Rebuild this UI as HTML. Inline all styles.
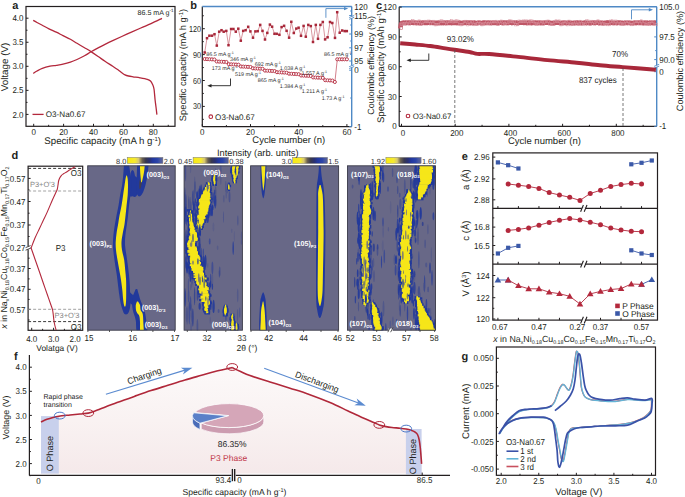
<!DOCTYPE html>
<html><head><meta charset="utf-8"><style>
html,body{margin:0;padding:0;background:#fff;width:685px;height:497px;overflow:hidden}
svg{display:block;font-family:"Liberation Sans", sans-serif;text-rendering:geometricPrecision}
</style></head><body>
<svg width="685" height="497" viewBox="0 0 685 497">
<rect width="685" height="497" fill="#fff"/>
<rect x="26" y="6.5" width="149" height="119.8" fill="none" stroke="#231f20" stroke-width="1.2"/>
<line x1="26.00" y1="114.40" x2="28.50" y2="114.40" stroke="#231f20" stroke-width="1" />
<text x="23.50" y="117.50" font-size="8.6" text-anchor="end" fill="#231f20" font-weight="normal" transform="translate(23.50,0) scale(0.93,1) translate(-23.50,0)"  >2.0</text>
<line x1="26.00" y1="102.38" x2="27.50" y2="102.38" stroke="#231f20" stroke-width="1" />
<line x1="26.00" y1="90.35" x2="28.50" y2="90.35" stroke="#231f20" stroke-width="1" />
<text x="23.50" y="93.45" font-size="8.6" text-anchor="end" fill="#231f20" font-weight="normal" transform="translate(23.50,0) scale(0.93,1) translate(-23.50,0)"  >2.5</text>
<line x1="26.00" y1="78.33" x2="27.50" y2="78.33" stroke="#231f20" stroke-width="1" />
<line x1="26.00" y1="66.30" x2="28.50" y2="66.30" stroke="#231f20" stroke-width="1" />
<text x="23.50" y="69.40" font-size="8.6" text-anchor="end" fill="#231f20" font-weight="normal" transform="translate(23.50,0) scale(0.93,1) translate(-23.50,0)"  >3.0</text>
<line x1="26.00" y1="54.28" x2="27.50" y2="54.28" stroke="#231f20" stroke-width="1" />
<line x1="26.00" y1="42.25" x2="28.50" y2="42.25" stroke="#231f20" stroke-width="1" />
<text x="23.50" y="45.35" font-size="8.6" text-anchor="end" fill="#231f20" font-weight="normal" transform="translate(23.50,0) scale(0.93,1) translate(-23.50,0)"  >3.5</text>
<line x1="26.00" y1="30.23" x2="27.50" y2="30.23" stroke="#231f20" stroke-width="1" />
<line x1="26.00" y1="18.20" x2="28.50" y2="18.20" stroke="#231f20" stroke-width="1" />
<text x="23.50" y="21.30" font-size="8.6" text-anchor="end" fill="#231f20" font-weight="normal" transform="translate(23.50,0) scale(0.93,1) translate(-23.50,0)"  >4.0</text>
<line x1="33.70" y1="126.30" x2="33.70" y2="123.80" stroke="#231f20" stroke-width="1" />
<text x="33.70" y="135.30" font-size="8.6" text-anchor="middle" fill="#231f20" font-weight="normal" transform="translate(33.70,0) scale(0.93,1) translate(-33.70,0)"  >0</text>
<line x1="48.65" y1="126.30" x2="48.65" y2="124.80" stroke="#231f20" stroke-width="1" />
<line x1="63.60" y1="126.30" x2="63.60" y2="123.80" stroke="#231f20" stroke-width="1" />
<text x="63.60" y="135.30" font-size="8.6" text-anchor="middle" fill="#231f20" font-weight="normal" transform="translate(63.60,0) scale(0.93,1) translate(-63.60,0)"  >20</text>
<line x1="78.55" y1="126.30" x2="78.55" y2="124.80" stroke="#231f20" stroke-width="1" />
<line x1="93.50" y1="126.30" x2="93.50" y2="123.80" stroke="#231f20" stroke-width="1" />
<text x="93.50" y="135.30" font-size="8.6" text-anchor="middle" fill="#231f20" font-weight="normal" transform="translate(93.50,0) scale(0.93,1) translate(-93.50,0)"  >40</text>
<line x1="108.45" y1="126.30" x2="108.45" y2="124.80" stroke="#231f20" stroke-width="1" />
<line x1="123.40" y1="126.30" x2="123.40" y2="123.80" stroke="#231f20" stroke-width="1" />
<text x="123.40" y="135.30" font-size="8.6" text-anchor="middle" fill="#231f20" font-weight="normal" transform="translate(123.40,0) scale(0.93,1) translate(-123.40,0)"  >60</text>
<line x1="138.35" y1="126.30" x2="138.35" y2="124.80" stroke="#231f20" stroke-width="1" />
<line x1="153.30" y1="126.30" x2="153.30" y2="123.80" stroke="#231f20" stroke-width="1" />
<text x="153.30" y="135.30" font-size="8.6" text-anchor="middle" fill="#231f20" font-weight="normal" transform="translate(153.30,0) scale(0.93,1) translate(-153.30,0)"  >80</text>
<line x1="168.25" y1="126.30" x2="168.25" y2="124.80" stroke="#231f20" stroke-width="1" />
<text x="102.70" y="143.79" font-size="9.7" text-anchor="middle" fill="#231f20" font-weight="normal"  >Specific capacity (mA h g<tspan dy="-3" font-size="6">-1</tspan><tspan dy="3">)</tspan></text>
<text x="4.30" y="70.53" font-size="9.8" text-anchor="middle" fill="#231f20" font-weight="normal" transform="rotate(-90 4.30 67.00)"  >Voltage (V)</text>
<text x="12.30" y="9.26" font-size="11" text-anchor="start" fill="#231f20" font-weight="bold"  >a</text>
<path d="M33.20,73.40 C33.83,73.00 35.48,71.83 37.00,71.00 C38.52,70.17 40.13,69.20 42.30,68.40 C44.47,67.60 47.67,66.72 50.00,66.20 C52.33,65.68 54.13,65.63 56.30,65.30 C58.47,64.97 60.65,64.72 63.00,64.20 C65.35,63.68 68.07,62.98 70.40,62.20 C72.73,61.42 74.65,60.57 77.00,59.50 C79.35,58.43 82.17,57.08 84.50,55.80 C86.83,54.52 88.65,53.17 91.00,51.80 C93.35,50.43 96.27,48.85 98.60,47.60 C100.93,46.35 102.65,45.47 105.00,44.30 C107.35,43.13 109.07,42.28 112.70,40.60 C116.33,38.92 122.12,36.30 126.80,34.20 C131.48,32.10 136.77,29.77 140.80,28.00 C144.83,26.23 147.47,25.22 151.00,23.60 C154.53,21.98 160.17,19.18 162.00,18.30" stroke="#b3283c" stroke-width="1.3" fill="none" />
<path d="M33.20,20.40 C33.83,20.75 35.48,21.68 37.00,22.50 C38.52,23.32 40.30,24.25 42.30,25.30 C44.30,26.35 46.67,27.65 49.00,28.80 C51.33,29.95 53.97,31.07 56.30,32.20 C58.63,33.33 60.65,34.42 63.00,35.60 C65.35,36.78 68.07,38.02 70.40,39.30 C72.73,40.58 74.65,41.90 77.00,43.30 C79.35,44.70 82.17,46.32 84.50,47.70 C86.83,49.08 88.65,50.08 91.00,51.60 C93.35,53.12 96.27,55.18 98.60,56.80 C100.93,58.42 102.65,59.73 105.00,61.30 C107.35,62.87 110.53,64.78 112.70,66.20 C114.87,67.62 116.53,68.75 118.00,69.80 C119.47,70.85 120.33,71.67 121.50,72.50 C122.67,73.33 123.83,74.22 125.00,74.80 C126.17,75.38 127.17,75.67 128.50,76.00 C129.83,76.33 131.08,76.50 133.00,76.80 C134.92,77.10 137.62,77.38 140.00,77.80 C142.38,78.22 145.55,78.77 147.30,79.30 C149.05,79.83 149.62,80.13 150.50,81.00 C151.38,81.87 152.02,83.17 152.60,84.50 C153.18,85.83 153.58,86.42 154.00,89.00 C154.42,91.58 154.77,97.00 155.10,100.00 C155.43,103.00 155.70,104.57 156.00,107.00 C156.30,109.43 156.75,113.33 156.90,114.60" stroke="#b3283c" stroke-width="1.3" fill="none" />
<line x1="32.50" y1="114.40" x2="43.60" y2="114.40" stroke="#b3283c" stroke-width="1.3" />
<text x="45.80" y="117.32" font-size="8.1" text-anchor="start" fill="#231f20" font-weight="normal"  >O3-Na0.67</text>
<text x="173.60" y="14.56" font-size="7.1" text-anchor="end" fill="#231f20" font-weight="normal"  >86.5 mA g<tspan dy="-2.6" font-size="4.6">-1</tspan></text>
<line x1="202.30" y1="6.50" x2="202.30" y2="126.60" stroke="#231f20" stroke-width="1.2" />
<line x1="202.30" y1="126.60" x2="351.70" y2="126.60" stroke="#231f20" stroke-width="1.2" />
<line x1="202.30" y1="6.50" x2="351.70" y2="6.50" stroke="#4f89c5" stroke-width="1.4" />
<line x1="351.70" y1="6.50" x2="351.70" y2="126.60" stroke="#4f89c5" stroke-width="1.4" />
<line x1="202.30" y1="119.35" x2="203.80" y2="119.35" stroke="#231f20" stroke-width="1" />
<line x1="202.30" y1="106.40" x2="204.80" y2="106.40" stroke="#231f20" stroke-width="1" />
<text x="201.00" y="109.49" font-size="8.6" text-anchor="end" fill="#231f20" font-weight="normal" transform="translate(201.00,0) scale(0.84,1) translate(-201.00,0)"  >30</text>
<line x1="202.30" y1="93.45" x2="203.80" y2="93.45" stroke="#231f20" stroke-width="1" />
<line x1="202.30" y1="80.50" x2="204.80" y2="80.50" stroke="#231f20" stroke-width="1" />
<text x="201.00" y="83.59" font-size="8.6" text-anchor="end" fill="#231f20" font-weight="normal" transform="translate(201.00,0) scale(0.84,1) translate(-201.00,0)"  >60</text>
<line x1="202.30" y1="67.55" x2="203.80" y2="67.55" stroke="#231f20" stroke-width="1" />
<line x1="202.30" y1="54.60" x2="204.80" y2="54.60" stroke="#231f20" stroke-width="1" />
<text x="201.00" y="57.69" font-size="8.6" text-anchor="end" fill="#231f20" font-weight="normal" transform="translate(201.00,0) scale(0.84,1) translate(-201.00,0)"  >90</text>
<line x1="202.30" y1="41.65" x2="203.80" y2="41.65" stroke="#231f20" stroke-width="1" />
<line x1="202.30" y1="28.70" x2="204.80" y2="28.70" stroke="#231f20" stroke-width="1" />
<text x="201.00" y="31.80" font-size="8.6" text-anchor="end" fill="#231f20" font-weight="normal" transform="translate(201.00,0) scale(0.84,1) translate(-201.00,0)"  >120</text>
<line x1="202.30" y1="15.75" x2="203.80" y2="15.75" stroke="#231f20" stroke-width="1" />
<line x1="202.30" y1="126.60" x2="202.30" y2="124.10" stroke="#231f20" stroke-width="1" />
<text x="202.30" y="135.30" font-size="8.6" text-anchor="middle" fill="#231f20" font-weight="normal" transform="translate(202.30,0) scale(0.93,1) translate(-202.30,0)"  >0</text>
<line x1="226.40" y1="126.60" x2="226.40" y2="125.10" stroke="#231f20" stroke-width="1" />
<line x1="250.50" y1="126.60" x2="250.50" y2="124.10" stroke="#231f20" stroke-width="1" />
<text x="250.50" y="135.30" font-size="8.6" text-anchor="middle" fill="#231f20" font-weight="normal" transform="translate(250.50,0) scale(0.93,1) translate(-250.50,0)"  >20</text>
<line x1="274.60" y1="126.60" x2="274.60" y2="125.10" stroke="#231f20" stroke-width="1" />
<line x1="298.70" y1="126.60" x2="298.70" y2="124.10" stroke="#231f20" stroke-width="1" />
<text x="298.70" y="135.30" font-size="8.6" text-anchor="middle" fill="#231f20" font-weight="normal" transform="translate(298.70,0) scale(0.93,1) translate(-298.70,0)"  >40</text>
<line x1="322.80" y1="126.60" x2="322.80" y2="125.10" stroke="#231f20" stroke-width="1" />
<line x1="346.90" y1="126.60" x2="346.90" y2="124.10" stroke="#231f20" stroke-width="1" />
<text x="346.90" y="135.30" font-size="8.6" text-anchor="middle" fill="#231f20" font-weight="normal" transform="translate(346.90,0) scale(0.93,1) translate(-346.90,0)"  >60</text>
<text x="288.80" y="143.22" font-size="9.5" text-anchor="middle" fill="#231f20" font-weight="normal"  >Cycle number (n)</text>
<text x="183.10" y="68.35" font-size="9.3" text-anchor="middle" fill="#231f20" font-weight="normal" transform="rotate(-90 183.10 65.00)"  >Specific capacity (mA h g<tspan dy="-3" font-size="6">-1</tspan><tspan dy="3">)</tspan></text>
<text x="190.30" y="8.76" font-size="11" text-anchor="start" fill="#231f20" font-weight="bold"  >b</text>
<line x1="349.20" y1="6.50" x2="351.70" y2="6.50" stroke="#4f89c5" stroke-width="1" />
<text x="354.30" y="9.60" font-size="8.6" text-anchor="start" fill="#231f20" font-weight="normal" transform="translate(354.30,0) scale(0.93,1) translate(-354.30,0)"  >120</text>
<line x1="349.20" y1="15.50" x2="351.70" y2="15.50" stroke="#4f89c5" stroke-width="1" />
<text x="354.30" y="18.60" font-size="8.6" text-anchor="start" fill="#231f20" font-weight="normal" transform="translate(354.30,0) scale(0.93,1) translate(-354.30,0)"  >115</text>
<line x1="349.20" y1="34.00" x2="351.70" y2="34.00" stroke="#4f89c5" stroke-width="1" />
<text x="354.30" y="37.10" font-size="8.6" text-anchor="start" fill="#231f20" font-weight="normal" transform="translate(354.30,0) scale(0.93,1) translate(-354.30,0)"  >99</text>
<line x1="349.20" y1="47.80" x2="351.70" y2="47.80" stroke="#4f89c5" stroke-width="1" />
<text x="354.30" y="50.90" font-size="8.6" text-anchor="start" fill="#231f20" font-weight="normal" transform="translate(354.30,0) scale(0.93,1) translate(-354.30,0)"  >97</text>
<line x1="349.20" y1="61.00" x2="351.70" y2="61.00" stroke="#4f89c5" stroke-width="1" />
<text x="354.30" y="64.10" font-size="8.6" text-anchor="start" fill="#231f20" font-weight="normal" transform="translate(354.30,0) scale(0.93,1) translate(-354.30,0)"  >95</text>
<line x1="349.20" y1="70.20" x2="351.70" y2="70.20" stroke="#4f89c5" stroke-width="1" />
<text x="354.30" y="73.30" font-size="8.6" text-anchor="start" fill="#231f20" font-weight="normal" transform="translate(354.30,0) scale(0.93,1) translate(-354.30,0)"  >0</text>
<line x1="349.20" y1="126.60" x2="351.70" y2="126.60" stroke="#4f89c5" stroke-width="1" />
<text x="354.30" y="129.70" font-size="8.6" text-anchor="start" fill="#231f20" font-weight="normal" transform="translate(354.30,0) scale(0.93,1) translate(-354.30,0)"  >-1</text>
<line x1="350.20" y1="11.00" x2="351.70" y2="11.00" stroke="#4f89c5" stroke-width="1" />
<line x1="350.20" y1="25.00" x2="351.70" y2="25.00" stroke="#4f89c5" stroke-width="1" />
<line x1="350.20" y1="41.00" x2="351.70" y2="41.00" stroke="#4f89c5" stroke-width="1" />
<line x1="350.20" y1="54.50" x2="351.70" y2="54.50" stroke="#4f89c5" stroke-width="1" />
<line x1="350.20" y1="98.00" x2="351.70" y2="98.00" stroke="#4f89c5" stroke-width="1" />
<rect x="349.7" y="16.3" width="4" height="2" fill="#fff"/>
<line x1="349.20" y1="17.50" x2="354.20" y2="15.50" stroke="#4f89c5" stroke-width="0.9" />
<line x1="349.20" y1="19.30" x2="354.20" y2="17.30" stroke="#4f89c5" stroke-width="0.9" />
<rect x="349.7" y="65.5" width="4" height="2" fill="#fff"/>
<line x1="349.20" y1="66.70" x2="354.20" y2="64.70" stroke="#4f89c5" stroke-width="0.9" />
<line x1="349.20" y1="68.50" x2="354.20" y2="66.50" stroke="#4f89c5" stroke-width="0.9" />
<text x="370.30" y="68.64" font-size="9.0" text-anchor="middle" fill="#231f20" font-weight="normal" transform="rotate(-90 370.30 65.40)"  >Coulombic efficiency (%)</text>
<polyline points="204.7,52.5 207.0,38.2 209.4,35.7 212.0,35.7 214.5,34.2 216.8,45.6 219.2,31.7 221.5,30.2 223.7,31.7 226.3,30.9 228.5,45.2 231.1,29.0 233.4,29.0 235.8,31.7 238.3,28.7 240.8,40.7 243.2,30.9 245.6,30.2 248.2,26.8 250.4,31.4 253.0,37.7 255.4,31.4 257.7,31.2 260.2,24.9 262.5,30.9 265.0,39.5 267.3,32.9 269.9,24.6 272.1,26.7 274.5,33.8 276.7,33.8 279.4,34.8 281.6,27.1 284.1,25.8 286.6,30.8 289.1,37.7 291.3,21.8 293.8,33.0 296.3,28.6 298.6,27.7 301.0,35.8 303.6,25.9 305.8,36.7 308.3,24.9 310.8,26.1 313.0,42.0 315.8,24.9 318.0,38.8 320.4,24.9 322.8,22.0 325.1,39.4 327.6,37.3 330.0,22.0 332.3,23.0 335.0,37.9 337.2,12.2 339.7,32.7 342.2,30.5 344.7,31.1 346.8,31.1" fill="none" stroke="#c0505f" stroke-width="0.6"/>
<rect x="203.45" y="51.25" width="2.5" height="2.5" fill="#a8283a"/>
<rect x="205.75" y="36.95" width="2.5" height="2.5" fill="#a8283a"/>
<rect x="208.15" y="34.45" width="2.5" height="2.5" fill="#a8283a"/>
<rect x="210.75" y="34.45" width="2.5" height="2.5" fill="#a8283a"/>
<rect x="213.25" y="32.95" width="2.5" height="2.5" fill="#a8283a"/>
<rect x="215.55" y="44.35" width="2.5" height="2.5" fill="#a8283a"/>
<rect x="217.95" y="30.45" width="2.5" height="2.5" fill="#a8283a"/>
<rect x="220.25" y="28.95" width="2.5" height="2.5" fill="#a8283a"/>
<rect x="222.45" y="30.45" width="2.5" height="2.5" fill="#a8283a"/>
<rect x="225.05" y="29.65" width="2.5" height="2.5" fill="#a8283a"/>
<rect x="227.25" y="43.95" width="2.5" height="2.5" fill="#a8283a"/>
<rect x="229.85" y="27.75" width="2.5" height="2.5" fill="#a8283a"/>
<rect x="232.15" y="27.75" width="2.5" height="2.5" fill="#a8283a"/>
<rect x="234.55" y="30.45" width="2.5" height="2.5" fill="#a8283a"/>
<rect x="237.05" y="27.45" width="2.5" height="2.5" fill="#a8283a"/>
<rect x="239.55" y="39.45" width="2.5" height="2.5" fill="#a8283a"/>
<rect x="241.95" y="29.65" width="2.5" height="2.5" fill="#a8283a"/>
<rect x="244.35" y="28.95" width="2.5" height="2.5" fill="#a8283a"/>
<rect x="246.95" y="25.55" width="2.5" height="2.5" fill="#a8283a"/>
<rect x="249.15" y="30.15" width="2.5" height="2.5" fill="#a8283a"/>
<rect x="251.75" y="36.45" width="2.5" height="2.5" fill="#a8283a"/>
<rect x="254.15" y="30.15" width="2.5" height="2.5" fill="#a8283a"/>
<rect x="256.45" y="29.95" width="2.5" height="2.5" fill="#a8283a"/>
<rect x="258.95" y="23.65" width="2.5" height="2.5" fill="#a8283a"/>
<rect x="261.25" y="29.65" width="2.5" height="2.5" fill="#a8283a"/>
<rect x="263.75" y="38.25" width="2.5" height="2.5" fill="#a8283a"/>
<rect x="266.05" y="31.65" width="2.5" height="2.5" fill="#a8283a"/>
<rect x="268.65" y="23.35" width="2.5" height="2.5" fill="#a8283a"/>
<rect x="270.85" y="25.45" width="2.5" height="2.5" fill="#a8283a"/>
<rect x="273.25" y="32.55" width="2.5" height="2.5" fill="#a8283a"/>
<rect x="275.45" y="32.55" width="2.5" height="2.5" fill="#a8283a"/>
<rect x="278.15" y="33.55" width="2.5" height="2.5" fill="#a8283a"/>
<rect x="280.35" y="25.85" width="2.5" height="2.5" fill="#a8283a"/>
<rect x="282.85" y="24.55" width="2.5" height="2.5" fill="#a8283a"/>
<rect x="285.35" y="29.55" width="2.5" height="2.5" fill="#a8283a"/>
<rect x="287.85" y="36.45" width="2.5" height="2.5" fill="#a8283a"/>
<rect x="290.05" y="20.55" width="2.5" height="2.5" fill="#a8283a"/>
<rect x="292.55" y="31.75" width="2.5" height="2.5" fill="#a8283a"/>
<rect x="295.05" y="27.35" width="2.5" height="2.5" fill="#a8283a"/>
<rect x="297.35" y="26.45" width="2.5" height="2.5" fill="#a8283a"/>
<rect x="299.75" y="34.55" width="2.5" height="2.5" fill="#a8283a"/>
<rect x="302.35" y="24.65" width="2.5" height="2.5" fill="#a8283a"/>
<rect x="304.55" y="35.45" width="2.5" height="2.5" fill="#a8283a"/>
<rect x="307.05" y="23.65" width="2.5" height="2.5" fill="#a8283a"/>
<rect x="309.55" y="24.85" width="2.5" height="2.5" fill="#a8283a"/>
<rect x="311.75" y="40.75" width="2.5" height="2.5" fill="#a8283a"/>
<rect x="314.55" y="23.65" width="2.5" height="2.5" fill="#a8283a"/>
<rect x="316.75" y="37.55" width="2.5" height="2.5" fill="#a8283a"/>
<rect x="319.15" y="23.65" width="2.5" height="2.5" fill="#a8283a"/>
<rect x="321.55" y="20.75" width="2.5" height="2.5" fill="#a8283a"/>
<rect x="323.85" y="38.15" width="2.5" height="2.5" fill="#a8283a"/>
<rect x="326.35" y="36.05" width="2.5" height="2.5" fill="#a8283a"/>
<rect x="328.75" y="20.75" width="2.5" height="2.5" fill="#a8283a"/>
<rect x="331.05" y="21.75" width="2.5" height="2.5" fill="#a8283a"/>
<rect x="333.75" y="36.65" width="2.5" height="2.5" fill="#a8283a"/>
<rect x="335.95" y="10.95" width="2.5" height="2.5" fill="#a8283a"/>
<rect x="338.45" y="31.45" width="2.5" height="2.5" fill="#a8283a"/>
<rect x="340.95" y="29.25" width="2.5" height="2.5" fill="#a8283a"/>
<rect x="343.45" y="29.85" width="2.5" height="2.5" fill="#a8283a"/>
<rect x="345.55" y="29.85" width="2.5" height="2.5" fill="#a8283a"/>
<polyline points="204.7,59.0 207.1,59.1 209.5,59.2 211.9,59.4 214.4,59.5 216.8,61.5 219.2,61.6 221.6,61.7 224.0,61.9 226.4,62.0 228.8,64.2 231.2,64.3 233.6,64.4 236.0,64.6 238.5,64.7 240.9,66.5 243.3,66.6 245.7,66.7 248.1,66.9 250.5,67.0 252.9,68.3 255.3,68.4 257.7,68.5 260.1,68.7 262.6,68.8 265.0,70.6 267.4,70.7 269.8,70.8 272.2,71.0 274.6,71.1 277.0,72.2 279.4,72.3 281.8,72.4 284.2,72.6 286.7,72.7 289.1,73.7 291.5,73.8 293.9,73.9 296.3,74.1 298.7,74.2 301.1,75.5 303.5,75.6 305.9,75.7 308.3,75.9 310.8,76.0 313.2,77.4 315.6,77.5 318.0,77.6 320.4,77.8 322.8,77.9 325.2,80.2 327.6,80.3 330.0,80.4 332.4,80.6 334.9,82.0 337.3,59.3 339.7,59.3 342.1,59.3 344.5,59.3 346.9,59.3" fill="none" stroke="#b3283c" stroke-width="0.6"/>
<circle cx="204.71" cy="59.00" r="1.55" fill="#fff" stroke="#b3283c" stroke-width="0.9"/>
<circle cx="207.12" cy="59.12" r="1.55" fill="#fff" stroke="#b3283c" stroke-width="0.9"/>
<circle cx="209.53" cy="59.24" r="1.55" fill="#fff" stroke="#b3283c" stroke-width="0.9"/>
<circle cx="211.94" cy="59.36" r="1.55" fill="#fff" stroke="#b3283c" stroke-width="0.9"/>
<circle cx="214.35" cy="59.48" r="1.55" fill="#fff" stroke="#b3283c" stroke-width="0.9"/>
<circle cx="216.76" cy="61.50" r="1.55" fill="#fff" stroke="#b3283c" stroke-width="0.9"/>
<circle cx="219.17" cy="61.62" r="1.55" fill="#fff" stroke="#b3283c" stroke-width="0.9"/>
<circle cx="221.58" cy="61.74" r="1.55" fill="#fff" stroke="#b3283c" stroke-width="0.9"/>
<circle cx="223.99" cy="61.86" r="1.55" fill="#fff" stroke="#b3283c" stroke-width="0.9"/>
<circle cx="226.40" cy="61.98" r="1.55" fill="#fff" stroke="#b3283c" stroke-width="0.9"/>
<circle cx="228.81" cy="64.20" r="1.55" fill="#fff" stroke="#b3283c" stroke-width="0.9"/>
<circle cx="231.22" cy="64.32" r="1.55" fill="#fff" stroke="#b3283c" stroke-width="0.9"/>
<circle cx="233.63" cy="64.44" r="1.55" fill="#fff" stroke="#b3283c" stroke-width="0.9"/>
<circle cx="236.04" cy="64.56" r="1.55" fill="#fff" stroke="#b3283c" stroke-width="0.9"/>
<circle cx="238.45" cy="64.68" r="1.55" fill="#fff" stroke="#b3283c" stroke-width="0.9"/>
<circle cx="240.86" cy="66.50" r="1.55" fill="#fff" stroke="#b3283c" stroke-width="0.9"/>
<circle cx="243.27" cy="66.62" r="1.55" fill="#fff" stroke="#b3283c" stroke-width="0.9"/>
<circle cx="245.68" cy="66.74" r="1.55" fill="#fff" stroke="#b3283c" stroke-width="0.9"/>
<circle cx="248.09" cy="66.86" r="1.55" fill="#fff" stroke="#b3283c" stroke-width="0.9"/>
<circle cx="250.50" cy="66.98" r="1.55" fill="#fff" stroke="#b3283c" stroke-width="0.9"/>
<circle cx="252.91" cy="68.30" r="1.55" fill="#fff" stroke="#b3283c" stroke-width="0.9"/>
<circle cx="255.32" cy="68.42" r="1.55" fill="#fff" stroke="#b3283c" stroke-width="0.9"/>
<circle cx="257.73" cy="68.54" r="1.55" fill="#fff" stroke="#b3283c" stroke-width="0.9"/>
<circle cx="260.14" cy="68.66" r="1.55" fill="#fff" stroke="#b3283c" stroke-width="0.9"/>
<circle cx="262.55" cy="68.78" r="1.55" fill="#fff" stroke="#b3283c" stroke-width="0.9"/>
<circle cx="264.96" cy="70.60" r="1.55" fill="#fff" stroke="#b3283c" stroke-width="0.9"/>
<circle cx="267.37" cy="70.72" r="1.55" fill="#fff" stroke="#b3283c" stroke-width="0.9"/>
<circle cx="269.78" cy="70.84" r="1.55" fill="#fff" stroke="#b3283c" stroke-width="0.9"/>
<circle cx="272.19" cy="70.96" r="1.55" fill="#fff" stroke="#b3283c" stroke-width="0.9"/>
<circle cx="274.60" cy="71.08" r="1.55" fill="#fff" stroke="#b3283c" stroke-width="0.9"/>
<circle cx="277.01" cy="72.20" r="1.55" fill="#fff" stroke="#b3283c" stroke-width="0.9"/>
<circle cx="279.42" cy="72.32" r="1.55" fill="#fff" stroke="#b3283c" stroke-width="0.9"/>
<circle cx="281.83" cy="72.44" r="1.55" fill="#fff" stroke="#b3283c" stroke-width="0.9"/>
<circle cx="284.24" cy="72.56" r="1.55" fill="#fff" stroke="#b3283c" stroke-width="0.9"/>
<circle cx="286.65" cy="72.68" r="1.55" fill="#fff" stroke="#b3283c" stroke-width="0.9"/>
<circle cx="289.06" cy="73.70" r="1.55" fill="#fff" stroke="#b3283c" stroke-width="0.9"/>
<circle cx="291.47" cy="73.82" r="1.55" fill="#fff" stroke="#b3283c" stroke-width="0.9"/>
<circle cx="293.88" cy="73.94" r="1.55" fill="#fff" stroke="#b3283c" stroke-width="0.9"/>
<circle cx="296.29" cy="74.06" r="1.55" fill="#fff" stroke="#b3283c" stroke-width="0.9"/>
<circle cx="298.70" cy="74.18" r="1.55" fill="#fff" stroke="#b3283c" stroke-width="0.9"/>
<circle cx="301.11" cy="75.50" r="1.55" fill="#fff" stroke="#b3283c" stroke-width="0.9"/>
<circle cx="303.52" cy="75.62" r="1.55" fill="#fff" stroke="#b3283c" stroke-width="0.9"/>
<circle cx="305.93" cy="75.74" r="1.55" fill="#fff" stroke="#b3283c" stroke-width="0.9"/>
<circle cx="308.34" cy="75.86" r="1.55" fill="#fff" stroke="#b3283c" stroke-width="0.9"/>
<circle cx="310.75" cy="75.98" r="1.55" fill="#fff" stroke="#b3283c" stroke-width="0.9"/>
<circle cx="313.16" cy="77.40" r="1.55" fill="#fff" stroke="#b3283c" stroke-width="0.9"/>
<circle cx="315.57" cy="77.52" r="1.55" fill="#fff" stroke="#b3283c" stroke-width="0.9"/>
<circle cx="317.98" cy="77.64" r="1.55" fill="#fff" stroke="#b3283c" stroke-width="0.9"/>
<circle cx="320.39" cy="77.76" r="1.55" fill="#fff" stroke="#b3283c" stroke-width="0.9"/>
<circle cx="322.80" cy="77.88" r="1.55" fill="#fff" stroke="#b3283c" stroke-width="0.9"/>
<circle cx="325.21" cy="80.20" r="1.55" fill="#fff" stroke="#b3283c" stroke-width="0.9"/>
<circle cx="327.62" cy="80.32" r="1.55" fill="#fff" stroke="#b3283c" stroke-width="0.9"/>
<circle cx="330.03" cy="80.44" r="1.55" fill="#fff" stroke="#b3283c" stroke-width="0.9"/>
<circle cx="332.44" cy="80.56" r="1.55" fill="#fff" stroke="#b3283c" stroke-width="0.9"/>
<circle cx="334.85" cy="81.98" r="1.55" fill="#fff" stroke="#b3283c" stroke-width="0.9"/>
<circle cx="337.26" cy="59.30" r="1.55" fill="#fff" stroke="#b3283c" stroke-width="0.9"/>
<circle cx="339.67" cy="59.30" r="1.55" fill="#fff" stroke="#b3283c" stroke-width="0.9"/>
<circle cx="342.08" cy="59.30" r="1.55" fill="#fff" stroke="#b3283c" stroke-width="0.9"/>
<circle cx="344.49" cy="59.30" r="1.55" fill="#fff" stroke="#b3283c" stroke-width="0.9"/>
<circle cx="346.90" cy="59.30" r="1.55" fill="#fff" stroke="#b3283c" stroke-width="0.9"/>
<text x="206.30" y="55.54" font-size="5.4" text-anchor="start" fill="#333" font-weight="normal"  >86.5 mA g<tspan dy="-2" font-size="3.6">-1</tspan></text>
<text x="229.90" y="60.94" font-size="5.4" text-anchor="start" fill="#333" font-weight="normal"  >346 mA g<tspan dy="-2" font-size="3.6">-1</tspan></text>
<text x="211.80" y="70.04" font-size="5.4" text-anchor="start" fill="#333" font-weight="normal"  >173 mA g<tspan dy="-2" font-size="3.6">-1</tspan></text>
<text x="254.80" y="65.54" font-size="5.4" text-anchor="start" fill="#333" font-weight="normal"  >692 mA g<tspan dy="-2" font-size="3.6">-1</tspan></text>
<text x="235.00" y="75.94" font-size="5.4" text-anchor="start" fill="#333" font-weight="normal"  >519 mA g<tspan dy="-2" font-size="3.6">-1</tspan></text>
<text x="279.70" y="69.54" font-size="5.4" text-anchor="start" fill="#333" font-weight="normal"  >1.038 A g<tspan dy="-2" font-size="3.6">-1</tspan></text>
<text x="257.70" y="82.04" font-size="5.4" text-anchor="start" fill="#333" font-weight="normal"  >865 mA g<tspan dy="-2" font-size="3.6">-1</tspan></text>
<text x="301.40" y="74.54" font-size="5.4" text-anchor="start" fill="#333" font-weight="normal"  >1.557 A g<tspan dy="-2" font-size="3.6">-1</tspan></text>
<text x="279.70" y="88.14" font-size="5.4" text-anchor="start" fill="#333" font-weight="normal"  >1.384 A g<tspan dy="-2" font-size="3.6">-1</tspan></text>
<text x="301.80" y="93.34" font-size="5.4" text-anchor="start" fill="#333" font-weight="normal"  >1.211 A g<tspan dy="-2" font-size="3.6">-1</tspan></text>
<text x="321.70" y="100.14" font-size="5.4" text-anchor="start" fill="#333" font-weight="normal"  >1.73 A g<tspan dy="-2" font-size="3.6">-1</tspan></text>
<text x="324.00" y="56.44" font-size="5.4" text-anchor="start" fill="#333" font-weight="normal"  >86.5 mA g<tspan dy="-2" font-size="3.6">-1</tspan></text>
<path d="M230.5,78.5 L230.5,85.7 L209.5,85.7" stroke="#222" stroke-width="0.9" fill="none" />
<path d="M207.3,85.7 L211.5,84 L211.5,87.4 Z" fill="#222"/>
<path d="M325.9,17.8 L325.9,8.6 L345,8.6" stroke="#4f89c5" stroke-width="0.9" fill="none" />
<path d="M348.2,8.6 L344,6.9 L344,10.3 Z" fill="#4f89c5"/>
<circle cx="210.8" cy="116.7" r="1.8" fill="#fff" stroke="#b3283c" stroke-width="1.1"/>
<text x="215.10" y="119.62" font-size="8.1" text-anchor="start" fill="#231f20" font-weight="normal"  >O3-Na0.67</text>
<line x1="399.20" y1="6.80" x2="399.20" y2="126.30" stroke="#231f20" stroke-width="1.2" />
<line x1="399.20" y1="126.30" x2="656.70" y2="126.30" stroke="#231f20" stroke-width="1.2" />
<line x1="399.20" y1="6.80" x2="656.70" y2="6.80" stroke="#4f89c5" stroke-width="1.4" />
<line x1="656.70" y1="6.80" x2="656.70" y2="126.30" stroke="#4f89c5" stroke-width="1.4" />
<line x1="399.20" y1="126.30" x2="401.70" y2="126.30" stroke="#231f20" stroke-width="1" />
<text x="396.60" y="129.40" font-size="8.6" text-anchor="end" fill="#231f20" font-weight="normal" transform="translate(396.60,0) scale(0.93,1) translate(-396.60,0)"  >0</text>
<line x1="399.20" y1="111.40" x2="400.70" y2="111.40" stroke="#231f20" stroke-width="1" />
<line x1="399.20" y1="96.50" x2="401.70" y2="96.50" stroke="#231f20" stroke-width="1" />
<text x="396.60" y="99.60" font-size="8.6" text-anchor="end" fill="#231f20" font-weight="normal" transform="translate(396.60,0) scale(0.93,1) translate(-396.60,0)"  >30</text>
<line x1="399.20" y1="81.60" x2="400.70" y2="81.60" stroke="#231f20" stroke-width="1" />
<line x1="399.20" y1="66.70" x2="401.70" y2="66.70" stroke="#231f20" stroke-width="1" />
<text x="396.60" y="69.80" font-size="8.6" text-anchor="end" fill="#231f20" font-weight="normal" transform="translate(396.60,0) scale(0.93,1) translate(-396.60,0)"  >60</text>
<line x1="399.20" y1="51.80" x2="400.70" y2="51.80" stroke="#231f20" stroke-width="1" />
<line x1="399.20" y1="36.90" x2="401.70" y2="36.90" stroke="#231f20" stroke-width="1" />
<text x="396.60" y="40.00" font-size="8.6" text-anchor="end" fill="#231f20" font-weight="normal" transform="translate(396.60,0) scale(0.93,1) translate(-396.60,0)"  >90</text>
<line x1="399.20" y1="22.00" x2="400.70" y2="22.00" stroke="#231f20" stroke-width="1" />
<line x1="399.20" y1="7.10" x2="401.70" y2="7.10" stroke="#231f20" stroke-width="1" />
<text x="396.60" y="10.20" font-size="8.6" text-anchor="end" fill="#231f20" font-weight="normal" transform="translate(396.60,0) scale(0.93,1) translate(-396.60,0)"  >120</text>
<line x1="401.50" y1="126.30" x2="401.50" y2="123.80" stroke="#231f20" stroke-width="1" />
<text x="403.10" y="135.70" font-size="8.6" text-anchor="middle" fill="#231f20" font-weight="normal" transform="translate(403.10,0) scale(0.93,1) translate(-403.10,0)"  >0</text>
<line x1="428.35" y1="126.30" x2="428.35" y2="124.80" stroke="#231f20" stroke-width="1" />
<line x1="455.20" y1="126.30" x2="455.20" y2="123.80" stroke="#231f20" stroke-width="1" />
<text x="456.80" y="135.70" font-size="8.6" text-anchor="middle" fill="#231f20" font-weight="normal" transform="translate(456.80,0) scale(0.93,1) translate(-456.80,0)"  >200</text>
<line x1="482.05" y1="126.30" x2="482.05" y2="124.80" stroke="#231f20" stroke-width="1" />
<line x1="508.90" y1="126.30" x2="508.90" y2="123.80" stroke="#231f20" stroke-width="1" />
<text x="510.50" y="135.70" font-size="8.6" text-anchor="middle" fill="#231f20" font-weight="normal" transform="translate(510.50,0) scale(0.93,1) translate(-510.50,0)"  >400</text>
<line x1="535.75" y1="126.30" x2="535.75" y2="124.80" stroke="#231f20" stroke-width="1" />
<line x1="562.60" y1="126.30" x2="562.60" y2="123.80" stroke="#231f20" stroke-width="1" />
<text x="564.20" y="135.70" font-size="8.6" text-anchor="middle" fill="#231f20" font-weight="normal" transform="translate(564.20,0) scale(0.93,1) translate(-564.20,0)"  >600</text>
<line x1="589.45" y1="126.30" x2="589.45" y2="124.80" stroke="#231f20" stroke-width="1" />
<line x1="616.30" y1="126.30" x2="616.30" y2="123.80" stroke="#231f20" stroke-width="1" />
<text x="617.90" y="135.70" font-size="8.6" text-anchor="middle" fill="#231f20" font-weight="normal" transform="translate(617.90,0) scale(0.93,1) translate(-617.90,0)"  >800</text>
<line x1="643.15" y1="126.30" x2="643.15" y2="124.80" stroke="#231f20" stroke-width="1" />
<text x="544.40" y="144.02" font-size="9.5" text-anchor="middle" fill="#231f20" font-weight="normal"  >Cycle number (n)</text>
<text x="380.20" y="69.76" font-size="9.6" text-anchor="middle" fill="#231f20" font-weight="normal" transform="rotate(-90 380.20 66.30)"  >Specific capacity (mAh g<tspan dy="-3" font-size="6">-1</tspan><tspan dy="3">)</tspan></text>
<text x="376.00" y="8.76" font-size="11" text-anchor="start" fill="#231f20" font-weight="bold"  >c</text>
<line x1="654.20" y1="6.50" x2="656.70" y2="6.50" stroke="#4f89c5" stroke-width="1" />
<text x="659.20" y="9.60" font-size="8.6" text-anchor="start" fill="#231f20" font-weight="normal" transform="translate(659.20,0) scale(0.93,1) translate(-659.20,0)"  >105.0</text>
<line x1="654.20" y1="36.90" x2="656.70" y2="36.90" stroke="#4f89c5" stroke-width="1" />
<text x="659.20" y="40.00" font-size="8.6" text-anchor="start" fill="#231f20" font-weight="normal" transform="translate(659.20,0) scale(0.93,1) translate(-659.20,0)"  >97.5</text>
<line x1="654.20" y1="59.60" x2="656.70" y2="59.60" stroke="#4f89c5" stroke-width="1" />
<text x="659.20" y="62.70" font-size="8.6" text-anchor="start" fill="#231f20" font-weight="normal" transform="translate(659.20,0) scale(0.93,1) translate(-659.20,0)"  >90.0</text>
<line x1="654.20" y1="71.70" x2="656.70" y2="71.70" stroke="#4f89c5" stroke-width="1" />
<text x="659.20" y="74.80" font-size="8.6" text-anchor="start" fill="#231f20" font-weight="normal" transform="translate(659.20,0) scale(0.93,1) translate(-659.20,0)"  >0</text>
<line x1="654.20" y1="126.30" x2="656.70" y2="126.30" stroke="#4f89c5" stroke-width="1" />
<text x="659.20" y="129.40" font-size="8.6" text-anchor="start" fill="#231f20" font-weight="normal" transform="translate(659.20,0) scale(0.93,1) translate(-659.20,0)"  >-1</text>
<line x1="655.20" y1="21.30" x2="656.70" y2="21.30" stroke="#4f89c5" stroke-width="1" />
<line x1="655.20" y1="50.60" x2="656.70" y2="50.60" stroke="#4f89c5" stroke-width="1" />
<rect x="654.7" y="65.1" width="4" height="2" fill="#fff"/>
<line x1="654.20" y1="66.30" x2="659.20" y2="64.30" stroke="#4f89c5" stroke-width="0.9" />
<line x1="654.20" y1="68.10" x2="659.20" y2="66.10" stroke="#4f89c5" stroke-width="0.9" />
<text x="679.50" y="64.29" font-size="9.15" text-anchor="middle" fill="#231f20" font-weight="normal" transform="rotate(-90 679.50 61.00)"  >Coulombic efficiency (%)</text>
<polyline points="400.3,28.5 400.9,24.5 401.6,23.2 403.1,22.7 403.9,22.6 404.7,22.9 405.5,22.5 406.3,22.8 407.1,22.7 407.9,22.5 408.7,22.8 409.6,22.5 410.4,22.8 411.2,22.5 412.0,22.5 412.8,22.7 413.6,23.0 414.4,22.5 415.2,22.6 416.0,22.9 416.8,23.1 417.6,22.9 418.4,22.7 419.2,23.1 420.0,22.5 420.8,23.1 421.6,22.7 422.4,22.6 423.2,22.5 424.1,22.7 424.9,23.0 425.7,22.6 426.5,22.9 427.3,22.9 428.1,22.7 428.9,22.8 429.7,22.5 430.5,22.5 431.3,22.6 432.1,22.9 432.9,22.7 433.7,22.7 434.5,22.9 435.3,22.8 436.1,22.7 436.9,23.0 437.7,22.9 438.6,22.6 439.4,22.9 440.2,22.8 441.0,23.1 441.8,23.0 442.6,22.7 443.4,23.1 444.2,22.5 445.0,22.7 445.8,23.0 446.6,22.6 447.4,22.8 448.2,22.5 449.0,22.9 449.8,23.0 450.6,22.9 451.4,23.1 452.2,22.7 453.1,22.9 453.9,22.9 454.7,22.9 455.5,22.8 456.3,23.0 457.1,23.1 457.9,22.8 458.7,22.9 459.5,22.5 460.3,22.9 461.1,22.9 461.9,23.1 462.7,23.0 463.5,22.6 464.3,22.7 465.1,22.9 465.9,22.5 466.7,22.8 467.6,22.6 468.4,22.5 469.2,22.5 470.0,23.0 470.8,22.5 471.6,22.6 472.4,22.7 473.2,23.1 474.0,22.5 474.8,22.8 475.6,22.8 476.4,23.1 477.2,23.0 478.0,23.1 478.8,22.6 479.6,22.7 480.4,22.7 481.2,23.1 482.1,23.1 482.9,22.6 483.7,22.6 484.5,22.6 485.3,22.6 486.1,22.8 486.9,22.9 487.7,22.6 488.5,22.5 489.3,22.7 490.1,22.7 490.9,22.8 491.7,23.1 492.5,22.9 493.3,22.8 494.1,22.9 494.9,22.9 495.7,22.5 496.5,23.1 497.4,23.0 498.2,23.1 499.0,23.0 499.8,22.7 500.6,22.7 501.4,22.5 502.2,22.9 503.0,22.5 503.8,22.5 504.6,22.6 505.4,22.6 506.2,22.7 507.0,22.5 507.8,22.5 508.6,22.6 509.4,22.5 510.2,22.7 511.0,22.5 511.9,23.1 512.7,22.9 513.5,22.6 514.3,22.6 515.1,22.7 515.9,22.7 516.7,22.5 517.5,23.0 518.3,23.1 519.1,22.8 519.9,22.8 520.7,22.5 521.5,22.5 522.3,22.7 523.1,22.6 523.9,23.0 524.7,22.6 525.5,22.5 526.4,23.1 527.2,22.8 528.0,22.6 528.8,22.8 529.6,22.5 530.4,22.8 531.2,23.1 532.0,23.1 532.8,22.9 533.6,22.6 534.4,22.7 535.2,22.6 536.0,23.0 536.8,22.8 537.6,23.0 538.4,22.7 539.2,22.6 540.0,23.0 540.9,23.1 541.7,23.0 542.5,23.0 543.3,23.0 544.1,23.0 544.9,22.6 545.7,22.8 546.5,22.7 547.3,22.5 548.1,22.5 548.9,22.6 549.7,22.6 550.5,22.9 551.3,23.1 552.1,22.8 552.9,23.1 553.7,23.1 554.5,23.1 555.4,22.7 556.2,22.6 557.0,22.6 557.8,22.6 558.6,22.6 559.4,22.9 560.2,23.1 561.0,23.0 561.8,22.8 562.6,22.9 563.4,23.0 564.2,22.5 565.0,22.9 565.8,23.1 566.6,23.0 567.4,23.0 568.2,22.8 569.0,22.6 569.8,23.0 570.7,22.7 571.5,23.0 572.3,23.1 573.1,22.7 573.9,22.7 574.7,23.1 575.5,23.0 576.3,22.6 577.1,22.5 577.9,22.6 578.7,23.1 579.5,23.0 580.3,22.6 581.1,23.0 581.9,23.1 582.7,22.9 583.5,22.7 584.3,22.8 585.2,22.5 586.0,22.5 586.8,23.1 587.6,22.9 588.4,22.8 589.2,23.1 590.0,22.8 590.8,23.1 591.6,23.0 592.4,22.6 593.2,22.6 594.0,22.7 594.8,22.6 595.6,22.9 596.4,22.6 597.2,22.7 598.0,22.5 598.8,23.1 599.7,22.7 600.5,22.8 601.3,22.9 602.1,23.1 602.9,22.7 603.7,23.1 604.5,22.8 605.3,22.8 606.1,22.8 606.9,22.5 607.7,22.8 608.5,22.6 609.3,22.5 610.1,23.0 610.9,22.6 611.7,22.8 612.5,23.0 613.3,22.8 614.2,22.7 615.0,22.8 615.8,22.8 616.6,23.0 617.4,22.5 618.2,22.8 619.0,22.6 619.8,22.6 620.6,23.0 621.4,22.8 622.2,22.8 623.0,23.0 623.8,23.1 624.6,22.8 625.4,22.9 626.2,22.8 627.0,22.8 627.8,22.9 628.7,22.8 629.5,22.8 630.3,22.8 631.1,23.1 631.9,22.9 632.7,23.1 633.5,23.1 634.3,22.6 635.1,22.8 635.9,23.1 636.7,23.0 637.5,22.5 638.3,22.5 639.1,22.8 639.9,22.5 640.7,22.6 641.5,22.5 642.3,22.9 643.1,23.0 644.0,23.1 644.8,22.6 645.6,23.0 646.4,22.9 647.2,22.6 648.0,23.1 648.8,23.1 649.6,22.6 650.4,23.1 651.2,22.7 652.0,22.8 652.8,23.1 653.6,23.0 654.4,22.6 655.2,22.8 656.0,22.8" fill="none" stroke="#bf5666" stroke-width="4.6" stroke-linejoin="round"/>
<rect x="400.3" y="23.0" width="2.4" height="2.4" fill="none" stroke="#d8909c" stroke-width="0.5"/>
<rect x="401.9" y="22.9" width="2.4" height="2.4" fill="none" stroke="#d8909c" stroke-width="0.5"/>
<rect x="403.5" y="22.6" width="2.4" height="2.4" fill="none" stroke="#d8909c" stroke-width="0.5"/>
<rect x="405.1" y="23.0" width="2.4" height="2.4" fill="none" stroke="#d8909c" stroke-width="0.5"/>
<rect x="406.7" y="20.3" width="2.4" height="2.4" fill="none" stroke="#d8909c" stroke-width="0.5"/>
<rect x="408.4" y="23.1" width="2.4" height="2.4" fill="none" stroke="#d8909c" stroke-width="0.5"/>
<rect x="410.0" y="20.5" width="2.4" height="2.4" fill="none" stroke="#d8909c" stroke-width="0.5"/>
<rect x="411.6" y="19.7" width="2.4" height="2.4" fill="none" stroke="#d8909c" stroke-width="0.5"/>
<rect x="413.2" y="20.5" width="2.4" height="2.4" fill="none" stroke="#d8909c" stroke-width="0.5"/>
<rect x="414.8" y="22.6" width="2.4" height="2.4" fill="none" stroke="#d8909c" stroke-width="0.5"/>
<rect x="416.4" y="20.4" width="2.4" height="2.4" fill="none" stroke="#d8909c" stroke-width="0.5"/>
<rect x="418.0" y="19.9" width="2.4" height="2.4" fill="none" stroke="#d8909c" stroke-width="0.5"/>
<rect x="419.6" y="23.0" width="2.4" height="2.4" fill="none" stroke="#d8909c" stroke-width="0.5"/>
<rect x="421.2" y="23.2" width="2.4" height="2.4" fill="none" stroke="#d8909c" stroke-width="0.5"/>
<rect x="422.9" y="20.3" width="2.4" height="2.4" fill="none" stroke="#d8909c" stroke-width="0.5"/>
<rect x="424.5" y="20.2" width="2.4" height="2.4" fill="none" stroke="#d8909c" stroke-width="0.5"/>
<rect x="426.1" y="20.4" width="2.4" height="2.4" fill="none" stroke="#d8909c" stroke-width="0.5"/>
<rect x="427.7" y="20.0" width="2.4" height="2.4" fill="none" stroke="#d8909c" stroke-width="0.5"/>
<rect x="429.3" y="22.7" width="2.4" height="2.4" fill="none" stroke="#d8909c" stroke-width="0.5"/>
<rect x="430.9" y="20.5" width="2.4" height="2.4" fill="none" stroke="#d8909c" stroke-width="0.5"/>
<rect x="432.5" y="20.2" width="2.4" height="2.4" fill="none" stroke="#d8909c" stroke-width="0.5"/>
<rect x="434.1" y="23.5" width="2.4" height="2.4" fill="none" stroke="#d8909c" stroke-width="0.5"/>
<rect x="435.7" y="23.4" width="2.4" height="2.4" fill="none" stroke="#d8909c" stroke-width="0.5"/>
<rect x="437.4" y="23.2" width="2.4" height="2.4" fill="none" stroke="#d8909c" stroke-width="0.5"/>
<rect x="439.0" y="20.1" width="2.4" height="2.4" fill="none" stroke="#d8909c" stroke-width="0.5"/>
<rect x="440.6" y="19.8" width="2.4" height="2.4" fill="none" stroke="#d8909c" stroke-width="0.5"/>
<rect x="442.2" y="20.4" width="2.4" height="2.4" fill="none" stroke="#d8909c" stroke-width="0.5"/>
<rect x="443.8" y="20.4" width="2.4" height="2.4" fill="none" stroke="#d8909c" stroke-width="0.5"/>
<rect x="445.4" y="23.2" width="2.4" height="2.4" fill="none" stroke="#d8909c" stroke-width="0.5"/>
<rect x="447.0" y="20.3" width="2.4" height="2.4" fill="none" stroke="#d8909c" stroke-width="0.5"/>
<rect x="448.6" y="20.4" width="2.4" height="2.4" fill="none" stroke="#d8909c" stroke-width="0.5"/>
<rect x="450.2" y="19.7" width="2.4" height="2.4" fill="none" stroke="#d8909c" stroke-width="0.5"/>
<rect x="451.9" y="20.6" width="2.4" height="2.4" fill="none" stroke="#d8909c" stroke-width="0.5"/>
<rect x="453.5" y="20.1" width="2.4" height="2.4" fill="none" stroke="#d8909c" stroke-width="0.5"/>
<rect x="455.1" y="19.8" width="2.4" height="2.4" fill="none" stroke="#d8909c" stroke-width="0.5"/>
<rect x="456.7" y="20.0" width="2.4" height="2.4" fill="none" stroke="#d8909c" stroke-width="0.5"/>
<rect x="458.3" y="23.2" width="2.4" height="2.4" fill="none" stroke="#d8909c" stroke-width="0.5"/>
<rect x="459.9" y="23.5" width="2.4" height="2.4" fill="none" stroke="#d8909c" stroke-width="0.5"/>
<rect x="461.5" y="23.2" width="2.4" height="2.4" fill="none" stroke="#d8909c" stroke-width="0.5"/>
<rect x="463.1" y="20.3" width="2.4" height="2.4" fill="none" stroke="#d8909c" stroke-width="0.5"/>
<rect x="464.7" y="20.2" width="2.4" height="2.4" fill="none" stroke="#d8909c" stroke-width="0.5"/>
<rect x="466.4" y="23.5" width="2.4" height="2.4" fill="none" stroke="#d8909c" stroke-width="0.5"/>
<rect x="468.0" y="20.6" width="2.4" height="2.4" fill="none" stroke="#d8909c" stroke-width="0.5"/>
<rect x="469.6" y="23.0" width="2.4" height="2.4" fill="none" stroke="#d8909c" stroke-width="0.5"/>
<rect x="471.2" y="20.5" width="2.4" height="2.4" fill="none" stroke="#d8909c" stroke-width="0.5"/>
<rect x="472.8" y="23.4" width="2.4" height="2.4" fill="none" stroke="#d8909c" stroke-width="0.5"/>
<rect x="474.4" y="23.1" width="2.4" height="2.4" fill="none" stroke="#d8909c" stroke-width="0.5"/>
<rect x="476.0" y="22.6" width="2.4" height="2.4" fill="none" stroke="#d8909c" stroke-width="0.5"/>
<rect x="477.6" y="20.5" width="2.4" height="2.4" fill="none" stroke="#d8909c" stroke-width="0.5"/>
<rect x="479.2" y="22.6" width="2.4" height="2.4" fill="none" stroke="#d8909c" stroke-width="0.5"/>
<rect x="480.9" y="23.5" width="2.4" height="2.4" fill="none" stroke="#d8909c" stroke-width="0.5"/>
<rect x="482.5" y="22.8" width="2.4" height="2.4" fill="none" stroke="#d8909c" stroke-width="0.5"/>
<rect x="484.1" y="22.8" width="2.4" height="2.4" fill="none" stroke="#d8909c" stroke-width="0.5"/>
<rect x="485.7" y="20.6" width="2.4" height="2.4" fill="none" stroke="#d8909c" stroke-width="0.5"/>
<rect x="487.3" y="22.7" width="2.4" height="2.4" fill="none" stroke="#d8909c" stroke-width="0.5"/>
<rect x="488.9" y="23.1" width="2.4" height="2.4" fill="none" stroke="#d8909c" stroke-width="0.5"/>
<rect x="490.5" y="20.4" width="2.4" height="2.4" fill="none" stroke="#d8909c" stroke-width="0.5"/>
<rect x="492.1" y="20.5" width="2.4" height="2.4" fill="none" stroke="#d8909c" stroke-width="0.5"/>
<rect x="493.7" y="20.5" width="2.4" height="2.4" fill="none" stroke="#d8909c" stroke-width="0.5"/>
<rect x="495.3" y="20.2" width="2.4" height="2.4" fill="none" stroke="#d8909c" stroke-width="0.5"/>
<rect x="497.0" y="22.9" width="2.4" height="2.4" fill="none" stroke="#d8909c" stroke-width="0.5"/>
<rect x="498.6" y="20.5" width="2.4" height="2.4" fill="none" stroke="#d8909c" stroke-width="0.5"/>
<rect x="500.2" y="20.0" width="2.4" height="2.4" fill="none" stroke="#d8909c" stroke-width="0.5"/>
<rect x="501.8" y="23.3" width="2.4" height="2.4" fill="none" stroke="#d8909c" stroke-width="0.5"/>
<rect x="503.4" y="22.7" width="2.4" height="2.4" fill="none" stroke="#d8909c" stroke-width="0.5"/>
<rect x="505.0" y="20.6" width="2.4" height="2.4" fill="none" stroke="#d8909c" stroke-width="0.5"/>
<rect x="506.6" y="23.3" width="2.4" height="2.4" fill="none" stroke="#d8909c" stroke-width="0.5"/>
<rect x="508.2" y="19.8" width="2.4" height="2.4" fill="none" stroke="#d8909c" stroke-width="0.5"/>
<rect x="509.8" y="19.9" width="2.4" height="2.4" fill="none" stroke="#d8909c" stroke-width="0.5"/>
<rect x="511.5" y="20.5" width="2.4" height="2.4" fill="none" stroke="#d8909c" stroke-width="0.5"/>
<rect x="513.1" y="20.5" width="2.4" height="2.4" fill="none" stroke="#d8909c" stroke-width="0.5"/>
<rect x="514.7" y="23.5" width="2.4" height="2.4" fill="none" stroke="#d8909c" stroke-width="0.5"/>
<rect x="516.3" y="23.4" width="2.4" height="2.4" fill="none" stroke="#d8909c" stroke-width="0.5"/>
<rect x="517.9" y="20.0" width="2.4" height="2.4" fill="none" stroke="#d8909c" stroke-width="0.5"/>
<rect x="519.5" y="20.2" width="2.4" height="2.4" fill="none" stroke="#d8909c" stroke-width="0.5"/>
<rect x="521.1" y="20.2" width="2.4" height="2.4" fill="none" stroke="#d8909c" stroke-width="0.5"/>
<rect x="522.7" y="19.9" width="2.4" height="2.4" fill="none" stroke="#d8909c" stroke-width="0.5"/>
<rect x="524.3" y="20.0" width="2.4" height="2.4" fill="none" stroke="#d8909c" stroke-width="0.5"/>
<rect x="526.0" y="19.9" width="2.4" height="2.4" fill="none" stroke="#d8909c" stroke-width="0.5"/>
<rect x="527.6" y="22.8" width="2.4" height="2.4" fill="none" stroke="#d8909c" stroke-width="0.5"/>
<rect x="529.2" y="19.8" width="2.4" height="2.4" fill="none" stroke="#d8909c" stroke-width="0.5"/>
<rect x="530.8" y="19.9" width="2.4" height="2.4" fill="none" stroke="#d8909c" stroke-width="0.5"/>
<rect x="532.4" y="20.4" width="2.4" height="2.4" fill="none" stroke="#d8909c" stroke-width="0.5"/>
<rect x="534.0" y="23.0" width="2.4" height="2.4" fill="none" stroke="#d8909c" stroke-width="0.5"/>
<rect x="535.6" y="22.7" width="2.4" height="2.4" fill="none" stroke="#d8909c" stroke-width="0.5"/>
<rect x="537.2" y="23.3" width="2.4" height="2.4" fill="none" stroke="#d8909c" stroke-width="0.5"/>
<rect x="538.8" y="20.5" width="2.4" height="2.4" fill="none" stroke="#d8909c" stroke-width="0.5"/>
<rect x="540.5" y="20.3" width="2.4" height="2.4" fill="none" stroke="#d8909c" stroke-width="0.5"/>
<rect x="542.1" y="23.2" width="2.4" height="2.4" fill="none" stroke="#d8909c" stroke-width="0.5"/>
<rect x="543.7" y="20.6" width="2.4" height="2.4" fill="none" stroke="#d8909c" stroke-width="0.5"/>
<rect x="545.3" y="20.2" width="2.4" height="2.4" fill="none" stroke="#d8909c" stroke-width="0.5"/>
<rect x="546.9" y="20.0" width="2.4" height="2.4" fill="none" stroke="#d8909c" stroke-width="0.5"/>
<rect x="548.5" y="22.9" width="2.4" height="2.4" fill="none" stroke="#d8909c" stroke-width="0.5"/>
<rect x="550.1" y="23.0" width="2.4" height="2.4" fill="none" stroke="#d8909c" stroke-width="0.5"/>
<rect x="551.7" y="23.3" width="2.4" height="2.4" fill="none" stroke="#d8909c" stroke-width="0.5"/>
<rect x="553.3" y="20.3" width="2.4" height="2.4" fill="none" stroke="#d8909c" stroke-width="0.5"/>
<rect x="555.0" y="19.8" width="2.4" height="2.4" fill="none" stroke="#d8909c" stroke-width="0.5"/>
<rect x="556.6" y="20.3" width="2.4" height="2.4" fill="none" stroke="#d8909c" stroke-width="0.5"/>
<rect x="558.2" y="19.9" width="2.4" height="2.4" fill="none" stroke="#d8909c" stroke-width="0.5"/>
<rect x="559.8" y="23.5" width="2.4" height="2.4" fill="none" stroke="#d8909c" stroke-width="0.5"/>
<rect x="561.4" y="22.8" width="2.4" height="2.4" fill="none" stroke="#d8909c" stroke-width="0.5"/>
<rect x="563.0" y="20.5" width="2.4" height="2.4" fill="none" stroke="#d8909c" stroke-width="0.5"/>
<rect x="564.6" y="20.5" width="2.4" height="2.4" fill="none" stroke="#d8909c" stroke-width="0.5"/>
<rect x="566.2" y="23.5" width="2.4" height="2.4" fill="none" stroke="#d8909c" stroke-width="0.5"/>
<rect x="567.8" y="20.1" width="2.4" height="2.4" fill="none" stroke="#d8909c" stroke-width="0.5"/>
<rect x="569.5" y="23.4" width="2.4" height="2.4" fill="none" stroke="#d8909c" stroke-width="0.5"/>
<rect x="571.1" y="22.8" width="2.4" height="2.4" fill="none" stroke="#d8909c" stroke-width="0.5"/>
<rect x="572.7" y="23.0" width="2.4" height="2.4" fill="none" stroke="#d8909c" stroke-width="0.5"/>
<rect x="574.3" y="20.6" width="2.4" height="2.4" fill="none" stroke="#d8909c" stroke-width="0.5"/>
<rect x="575.9" y="23.2" width="2.4" height="2.4" fill="none" stroke="#d8909c" stroke-width="0.5"/>
<rect x="577.5" y="22.9" width="2.4" height="2.4" fill="none" stroke="#d8909c" stroke-width="0.5"/>
<rect x="579.1" y="20.2" width="2.4" height="2.4" fill="none" stroke="#d8909c" stroke-width="0.5"/>
<rect x="580.7" y="22.9" width="2.4" height="2.4" fill="none" stroke="#d8909c" stroke-width="0.5"/>
<rect x="582.3" y="22.6" width="2.4" height="2.4" fill="none" stroke="#d8909c" stroke-width="0.5"/>
<rect x="584.0" y="23.4" width="2.4" height="2.4" fill="none" stroke="#d8909c" stroke-width="0.5"/>
<rect x="585.6" y="19.8" width="2.4" height="2.4" fill="none" stroke="#d8909c" stroke-width="0.5"/>
<rect x="587.2" y="20.0" width="2.4" height="2.4" fill="none" stroke="#d8909c" stroke-width="0.5"/>
<rect x="588.8" y="22.8" width="2.4" height="2.4" fill="none" stroke="#d8909c" stroke-width="0.5"/>
<rect x="590.4" y="20.2" width="2.4" height="2.4" fill="none" stroke="#d8909c" stroke-width="0.5"/>
<rect x="592.0" y="20.3" width="2.4" height="2.4" fill="none" stroke="#d8909c" stroke-width="0.5"/>
<rect x="593.6" y="23.3" width="2.4" height="2.4" fill="none" stroke="#d8909c" stroke-width="0.5"/>
<rect x="595.2" y="20.3" width="2.4" height="2.4" fill="none" stroke="#d8909c" stroke-width="0.5"/>
<rect x="596.8" y="19.8" width="2.4" height="2.4" fill="none" stroke="#d8909c" stroke-width="0.5"/>
<rect x="598.5" y="23.2" width="2.4" height="2.4" fill="none" stroke="#d8909c" stroke-width="0.5"/>
<rect x="600.1" y="20.4" width="2.4" height="2.4" fill="none" stroke="#d8909c" stroke-width="0.5"/>
<rect x="601.7" y="23.0" width="2.4" height="2.4" fill="none" stroke="#d8909c" stroke-width="0.5"/>
<rect x="603.3" y="22.8" width="2.4" height="2.4" fill="none" stroke="#d8909c" stroke-width="0.5"/>
<rect x="604.9" y="23.3" width="2.4" height="2.4" fill="none" stroke="#d8909c" stroke-width="0.5"/>
<rect x="606.5" y="23.4" width="2.4" height="2.4" fill="none" stroke="#d8909c" stroke-width="0.5"/>
<rect x="608.1" y="23.4" width="2.4" height="2.4" fill="none" stroke="#d8909c" stroke-width="0.5"/>
<rect x="609.7" y="20.0" width="2.4" height="2.4" fill="none" stroke="#d8909c" stroke-width="0.5"/>
<rect x="611.3" y="19.8" width="2.4" height="2.4" fill="none" stroke="#d8909c" stroke-width="0.5"/>
<rect x="613.0" y="23.0" width="2.4" height="2.4" fill="none" stroke="#d8909c" stroke-width="0.5"/>
<rect x="614.6" y="20.0" width="2.4" height="2.4" fill="none" stroke="#d8909c" stroke-width="0.5"/>
<rect x="616.2" y="23.0" width="2.4" height="2.4" fill="none" stroke="#d8909c" stroke-width="0.5"/>
<rect x="617.8" y="20.4" width="2.4" height="2.4" fill="none" stroke="#d8909c" stroke-width="0.5"/>
<rect x="619.4" y="22.9" width="2.4" height="2.4" fill="none" stroke="#d8909c" stroke-width="0.5"/>
<rect x="621.0" y="22.8" width="2.4" height="2.4" fill="none" stroke="#d8909c" stroke-width="0.5"/>
<rect x="622.6" y="23.0" width="2.4" height="2.4" fill="none" stroke="#d8909c" stroke-width="0.5"/>
<rect x="624.2" y="20.3" width="2.4" height="2.4" fill="none" stroke="#d8909c" stroke-width="0.5"/>
<rect x="625.8" y="22.7" width="2.4" height="2.4" fill="none" stroke="#d8909c" stroke-width="0.5"/>
<rect x="627.5" y="20.5" width="2.4" height="2.4" fill="none" stroke="#d8909c" stroke-width="0.5"/>
<rect x="629.1" y="23.1" width="2.4" height="2.4" fill="none" stroke="#d8909c" stroke-width="0.5"/>
<rect x="630.7" y="23.4" width="2.4" height="2.4" fill="none" stroke="#d8909c" stroke-width="0.5"/>
<rect x="632.3" y="23.0" width="2.4" height="2.4" fill="none" stroke="#d8909c" stroke-width="0.5"/>
<rect x="633.9" y="20.4" width="2.4" height="2.4" fill="none" stroke="#d8909c" stroke-width="0.5"/>
<rect x="635.5" y="20.3" width="2.4" height="2.4" fill="none" stroke="#d8909c" stroke-width="0.5"/>
<rect x="637.1" y="20.3" width="2.4" height="2.4" fill="none" stroke="#d8909c" stroke-width="0.5"/>
<rect x="638.7" y="22.8" width="2.4" height="2.4" fill="none" stroke="#d8909c" stroke-width="0.5"/>
<rect x="640.3" y="19.8" width="2.4" height="2.4" fill="none" stroke="#d8909c" stroke-width="0.5"/>
<rect x="641.9" y="22.9" width="2.4" height="2.4" fill="none" stroke="#d8909c" stroke-width="0.5"/>
<rect x="643.6" y="20.3" width="2.4" height="2.4" fill="none" stroke="#d8909c" stroke-width="0.5"/>
<rect x="645.2" y="23.3" width="2.4" height="2.4" fill="none" stroke="#d8909c" stroke-width="0.5"/>
<rect x="646.8" y="22.8" width="2.4" height="2.4" fill="none" stroke="#d8909c" stroke-width="0.5"/>
<rect x="648.4" y="22.7" width="2.4" height="2.4" fill="none" stroke="#d8909c" stroke-width="0.5"/>
<rect x="650.0" y="20.5" width="2.4" height="2.4" fill="none" stroke="#d8909c" stroke-width="0.5"/>
<rect x="651.6" y="20.3" width="2.4" height="2.4" fill="none" stroke="#d8909c" stroke-width="0.5"/>
<rect x="653.2" y="23.0" width="2.4" height="2.4" fill="none" stroke="#d8909c" stroke-width="0.5"/>
<rect x="654.8" y="23.4" width="2.4" height="2.4" fill="none" stroke="#d8909c" stroke-width="0.5"/>
<rect x="400" y="27" width="2.6" height="2.6" fill="#fff" stroke="#c46a76" stroke-width="0.6"/>
<path d="M400.20,43.20 C402.70,43.42 410.18,44.03 415.20,44.50 C420.22,44.97 425.27,45.35 430.30,46.00 C435.33,46.65 441.37,47.77 445.40,48.40 C449.43,49.03 450.48,49.20 454.50,49.80 C458.52,50.40 465.67,51.32 469.50,52.00 C473.33,52.68 474.22,53.57 477.50,53.90 C480.78,54.23 482.40,53.50 489.20,54.00 C496.00,54.50 508.58,55.88 518.30,56.90 C528.02,57.92 537.78,59.13 547.50,60.10 C557.22,61.07 567.85,61.85 576.60,62.70 C585.35,63.55 592.32,64.47 600.00,65.20 C607.68,65.93 613.38,66.33 622.70,67.10 C632.02,67.87 650.37,69.35 655.90,69.80" stroke="#a8283a" stroke-width="3.9" fill="none" stroke-linecap="butt"/>
<line x1="454.80" y1="50.00" x2="454.80" y2="126.30" stroke="#555" stroke-width="0.8" stroke-dasharray="3,2"/>
<line x1="623.00" y1="68.00" x2="623.00" y2="126.30" stroke="#555" stroke-width="0.8" stroke-dasharray="3,2"/>
<text x="460.40" y="41.60" font-size="8.6" text-anchor="middle" fill="#222" font-weight="normal" transform="translate(460.40,0) scale(0.93,1) translate(-460.40,0)"  >93.02%</text>
<text x="620.00" y="56.60" font-size="8.6" text-anchor="middle" fill="#222" font-weight="normal" transform="translate(620.00,0) scale(0.93,1) translate(-620.00,0)"  >70%</text>
<text x="616.70" y="82.50" font-size="8.6" text-anchor="end" fill="#222" font-weight="normal" transform="translate(616.70,0) scale(0.93,1) translate(-616.70,0)"  >837 cycles</text>
<path d="M428.8,53.5 L428.8,60.3 L409.2,60.3" stroke="#222" stroke-width="0.9" fill="none" />
<path d="M406.5,60.3 L410.8,58.6 L410.8,62 Z" fill="#222"/>
<path d="M631.5,19.3 L631.5,9.8 L650,9.8" stroke="#4f89c5" stroke-width="0.9" fill="none" />
<path d="M653,9.8 L648.8,8.1 L648.8,11.5 Z" fill="#4f89c5"/>
<circle cx="408" cy="116" r="1.8" fill="#fff" stroke="#b3283c" stroke-width="1.1"/>
<text x="412.80" y="118.84" font-size="7.9" text-anchor="start" fill="#231f20" font-weight="normal"  >O3-Na0.67</text>
<rect x="28.1" y="166.2" width="54.6" height="164.10000000000002" fill="#fff" stroke="#231f20" stroke-width="1.2"/>
<line x1="28.10" y1="178.40" x2="30.60" y2="178.40" stroke="#231f20" stroke-width="1" />
<text x="25.40" y="181.50" font-size="8.6" text-anchor="end" fill="#231f20" font-weight="normal" transform="translate(25.40,0) scale(0.93,1) translate(-25.40,0)"  >0.57</text>
<line x1="28.10" y1="201.50" x2="30.60" y2="201.50" stroke="#231f20" stroke-width="1" />
<text x="25.40" y="204.60" font-size="8.6" text-anchor="end" fill="#231f20" font-weight="normal" transform="translate(25.40,0) scale(0.93,1) translate(-25.40,0)"  >0.47</text>
<line x1="28.10" y1="225.00" x2="30.60" y2="225.00" stroke="#231f20" stroke-width="1" />
<text x="25.40" y="228.10" font-size="8.6" text-anchor="end" fill="#231f20" font-weight="normal" transform="translate(25.40,0) scale(0.93,1) translate(-25.40,0)"  >0.37</text>
<line x1="28.10" y1="248.00" x2="30.60" y2="248.00" stroke="#231f20" stroke-width="1" />
<text x="25.40" y="251.10" font-size="8.6" text-anchor="end" fill="#231f20" font-weight="normal" transform="translate(25.40,0) scale(0.93,1) translate(-25.40,0)"  >0.27</text>
<line x1="28.10" y1="268.50" x2="30.60" y2="268.50" stroke="#231f20" stroke-width="1" />
<text x="25.40" y="271.60" font-size="8.6" text-anchor="end" fill="#231f20" font-weight="normal" transform="translate(25.40,0) scale(0.93,1) translate(-25.40,0)"  >0.37</text>
<line x1="28.10" y1="289.30" x2="30.60" y2="289.30" stroke="#231f20" stroke-width="1" />
<text x="25.40" y="292.40" font-size="8.6" text-anchor="end" fill="#231f20" font-weight="normal" transform="translate(25.40,0) scale(0.93,1) translate(-25.40,0)"  >0.47</text>
<line x1="28.10" y1="309.40" x2="30.60" y2="309.40" stroke="#231f20" stroke-width="1" />
<text x="25.40" y="312.50" font-size="8.6" text-anchor="end" fill="#231f20" font-weight="normal" transform="translate(25.40,0) scale(0.93,1) translate(-25.40,0)"  >0.57</text>
<line x1="28.10" y1="190.00" x2="29.60" y2="190.00" stroke="#231f20" stroke-width="1" />
<line x1="28.10" y1="213.20" x2="29.60" y2="213.20" stroke="#231f20" stroke-width="1" />
<line x1="28.10" y1="236.50" x2="29.60" y2="236.50" stroke="#231f20" stroke-width="1" />
<line x1="28.10" y1="258.20" x2="29.60" y2="258.20" stroke="#231f20" stroke-width="1" />
<line x1="28.10" y1="278.90" x2="29.60" y2="278.90" stroke="#231f20" stroke-width="1" />
<line x1="28.10" y1="299.40" x2="29.60" y2="299.40" stroke="#231f20" stroke-width="1" />
<line x1="28.10" y1="320.00" x2="29.60" y2="320.00" stroke="#231f20" stroke-width="1" />
<rect x="26.1" y="246.3" width="4" height="3.2" fill="#fff"/>
<line x1="25.60" y1="247.60" x2="30.60" y2="245.60" stroke="#231f20" stroke-width="0.8" />
<line x1="25.60" y1="250.20" x2="30.60" y2="248.20" stroke="#231f20" stroke-width="0.8" />
<line x1="31.70" y1="330.30" x2="31.70" y2="327.80" stroke="#231f20" stroke-width="1" />
<text x="31.70" y="342.00" font-size="8.6" text-anchor="middle" fill="#231f20" font-weight="normal" transform="translate(31.70,0) scale(0.93,1) translate(-31.70,0)"  >4.0</text>
<line x1="53.60" y1="330.30" x2="53.60" y2="327.80" stroke="#231f20" stroke-width="1" />
<text x="53.60" y="342.00" font-size="8.6" text-anchor="middle" fill="#231f20" font-weight="normal" transform="translate(53.60,0) scale(0.93,1) translate(-53.60,0)"  >3.0</text>
<line x1="75.10" y1="330.30" x2="75.10" y2="327.80" stroke="#231f20" stroke-width="1" />
<text x="75.10" y="342.00" font-size="8.6" text-anchor="middle" fill="#231f20" font-weight="normal" transform="translate(75.10,0) scale(0.93,1) translate(-75.10,0)"  >2.0</text>
<line x1="42.60" y1="330.30" x2="42.60" y2="328.80" stroke="#231f20" stroke-width="1" />
<line x1="64.40" y1="330.30" x2="64.40" y2="328.80" stroke="#231f20" stroke-width="1" />
<text x="57.00" y="350.62" font-size="8.4" text-anchor="middle" fill="#231f20" font-weight="normal"  >Volatga (V)</text>
<line x1="28.10" y1="168.40" x2="82.70" y2="168.40" stroke="#222" stroke-width="0.9" stroke-dasharray="3,2"/>
<line x1="28.10" y1="321.60" x2="82.70" y2="321.60" stroke="#222" stroke-width="0.9" stroke-dasharray="3,2"/>
<line x1="28.10" y1="191.00" x2="82.70" y2="191.00" stroke="#999" stroke-width="0.9" stroke-dasharray="3,2"/>
<line x1="28.10" y1="309.30" x2="82.70" y2="309.30" stroke="#999" stroke-width="0.9" stroke-dasharray="3,2"/>
<path d="M75.10,166.80 C74.42,167.17 72.35,168.18 71.00,169.00 C69.65,169.82 68.25,170.90 67.00,171.70 C65.75,172.50 64.42,173.20 63.50,173.80 C62.58,174.40 62.13,174.60 61.50,175.30 C60.87,176.00 60.18,177.05 59.70,178.00 C59.22,178.95 58.88,179.83 58.60,181.00 C58.32,182.17 58.23,183.58 58.00,185.00 C57.77,186.42 57.62,188.13 57.20,189.50 C56.78,190.87 56.28,191.50 55.50,193.20 C54.72,194.90 53.90,196.50 52.50,199.70 C51.10,202.90 48.68,208.85 47.10,212.40 C45.52,215.95 44.27,218.32 43.00,221.00 C41.73,223.68 40.83,225.67 39.50,228.50 C38.17,231.33 36.40,234.75 35.00,238.00 C33.60,241.25 31.75,246.33 31.10,248.00 L31.10,248.00 C31.80,250.00 33.90,256.00 35.30,260.00 C36.70,264.00 38.12,268.00 39.50,272.00 C40.88,276.00 42.22,280.00 43.60,284.00 C44.98,288.00 46.52,292.33 47.80,296.00 C49.08,299.67 50.50,303.67 51.30,306.00 C52.10,308.33 52.27,308.50 52.60,310.00 C52.93,311.50 53.07,313.17 53.30,315.00 C53.53,316.83 53.72,319.17 54.00,321.00 C54.28,322.83 54.65,324.50 55.00,326.00 C55.35,327.50 55.92,329.33 56.10,330.00" stroke="#b3283c" stroke-width="1.1" fill="none" />
<text x="81.50" y="176.10" font-size="8.6" text-anchor="end" fill="#231f20" font-weight="normal" transform="translate(81.50,0) scale(0.93,1) translate(-81.50,0)"  >O3</text>
<text x="29.90" y="187.00" font-size="7.5" text-anchor="start" fill="#888" font-weight="normal"  >P3+O'3</text>
<text x="60.60" y="251.10" font-size="8.6" text-anchor="middle" fill="#231f20" font-weight="normal" transform="translate(60.60,0) scale(0.93,1) translate(-60.60,0)"  >P3</text>
<text x="54.50" y="317.50" font-size="7.5" text-anchor="start" fill="#888" font-weight="normal"  >P3+O'3</text>
<text x="81.50" y="329.70" font-size="8.6" text-anchor="end" fill="#231f20" font-weight="normal" transform="translate(81.50,0) scale(0.93,1) translate(-81.50,0)"  >O3</text>
<text x="11.50" y="159.46" font-size="11" text-anchor="start" fill="#231f20" font-weight="bold"  >d</text>
<text x="0" y="0" font-size="8.8" text-anchor="middle" fill="#231f20" transform="translate(6.77,247.6) rotate(-90)"><tspan font-style="italic">x</tspan><tspan> in Na</tspan><tspan dy="2.1" font-size="5.3">x</tspan><tspan dy="-2.1">Ni</tspan><tspan dy="2.1" font-size="5.3">0.18</tspan><tspan dy="-2.1">Cu</tspan><tspan dy="2.1" font-size="5.3">0.18</tspan><tspan dy="-2.1">Co</tspan><tspan dy="2.1" font-size="5.3">0.15</tspan><tspan dy="-2.1">Fe</tspan><tspan dy="2.1" font-size="5.3">0.15</tspan><tspan dy="-2.1">Mn</tspan><tspan dy="2.1" font-size="5.3">0.17</tspan><tspan dy="-2.1">Ti</tspan><tspan dy="2.1" font-size="5.3">0.17</tspan><tspan dy="-2.1">O</tspan><tspan dy="2.1" font-size="5.3">2</tspan></text>
<rect x="87.7" y="165.8" width="87.49999999999999" height="164.39999999999998" fill="#686887"/>
<clipPath id="c1"><rect x="87.7" y="165.8" width="87.49999999999999" height="164.39999999999998"/></clipPath><g clip-path="url(#c1)">
<path d="M130.2,176 C130.5,172 131.5,170 132.5,170 C133.5,170 134.5,172 135,176 L137.5,178 L137.5,194 C136.5,197 134.5,197.5 133.2,196.5 C132.5,195.5 131.5,197 130.3,196.5 C129,195 128.5,190 128.6,186 Z" fill="#22399b"/>
<path d="M124.10,163.00 C123.95,165.00 123.53,171.33 123.20,175.00 C122.87,178.67 122.62,181.67 122.10,185.00 C121.58,188.33 120.68,191.67 120.10,195.00 C119.52,198.33 119.18,201.67 118.60,205.00 C118.02,208.33 117.23,211.67 116.60,215.00 C115.97,218.33 115.33,221.67 114.80,225.00 C114.27,228.33 113.72,231.67 113.40,235.00 C113.08,238.33 112.83,241.67 112.90,245.00 C112.97,248.33 113.42,251.67 113.80,255.00 C114.18,258.33 114.70,261.67 115.20,265.00 C115.70,268.33 116.33,271.67 116.80,275.00 C117.27,278.33 117.58,281.67 118.00,285.00 C118.42,288.33 118.87,292.00 119.30,295.00 C119.73,298.00 120.05,300.50 120.60,303.00 C121.15,305.50 121.95,308.17 122.60,310.00 C123.25,311.83 123.68,313.33 124.50,314.00 C125.32,314.67 126.67,314.67 127.50,314.00 C128.33,313.33 129.00,311.83 129.50,310.00 C130.00,308.17 130.38,305.50 130.50,303.00 C130.62,300.50 130.32,298.00 130.20,295.00 C130.08,292.00 130.00,288.33 129.80,285.00 C129.60,281.67 129.33,278.33 129.00,275.00 C128.67,271.67 128.23,268.33 127.80,265.00 C127.37,261.67 126.87,258.33 126.40,255.00 C125.93,251.67 125.17,248.33 125.00,245.00 C124.83,241.67 125.10,238.33 125.40,235.00 C125.70,231.67 126.35,228.33 126.80,225.00 C127.25,221.67 127.72,218.33 128.10,215.00 C128.48,211.67 128.70,208.33 129.10,205.00 C129.50,201.67 130.10,198.33 130.50,195.00 C130.90,191.67 131.50,188.33 131.50,185.00 C131.50,181.67 130.95,178.67 130.50,175.00 C130.05,171.33 129.08,165.00 128.80,163.00 Z" fill="#22399b"/>
<path d="M126.40,175.50 C126.25,176.08 125.80,177.40 125.50,179.00 C125.20,180.60 125.00,182.40 124.60,185.10 C124.20,187.80 123.60,191.85 123.10,195.20 C122.60,198.55 122.18,201.90 121.60,205.20 C121.02,208.50 120.20,211.70 119.60,215.00 C119.00,218.30 118.50,222.00 118.00,225.00 C117.50,228.00 116.98,230.17 116.60,233.00 C116.22,235.83 115.80,239.17 115.70,242.00 C115.60,244.83 115.70,247.00 116.00,250.00 C116.30,253.00 116.95,256.67 117.50,260.00 C118.05,263.33 118.72,266.67 119.30,270.00 C119.88,273.33 120.50,276.67 121.00,280.00 C121.50,283.33 121.93,286.67 122.30,290.00 C122.67,293.33 122.87,297.33 123.20,300.00 C123.53,302.67 123.92,305.00 124.30,306.00 C124.68,307.00 125.20,307.00 125.50,306.00 C125.80,305.00 125.98,302.67 126.10,300.00 C126.22,297.33 126.20,293.33 126.20,290.00 C126.20,286.67 126.27,283.33 126.10,280.00 C125.93,276.67 125.52,273.33 125.20,270.00 C124.88,266.67 124.73,263.33 124.20,260.00 C123.67,256.67 122.45,253.00 122.00,250.00 C121.55,247.00 121.37,244.83 121.50,242.00 C121.63,239.17 122.32,235.83 122.80,233.00 C123.28,230.17 123.93,228.00 124.40,225.00 C124.87,222.00 125.23,218.30 125.60,215.00 C125.97,211.70 126.25,208.50 126.60,205.20 C126.95,201.90 127.47,198.55 127.70,195.20 C127.93,191.85 128.00,187.80 128.00,185.10 C128.00,182.40 127.88,180.60 127.70,179.00 C127.52,177.40 127.03,176.08 126.90,175.50 Z" fill="#f6e619"/>
<path d="M137.20,163.00 C137.13,165.00 136.95,171.33 136.80,175.00 C136.65,178.67 136.35,182.17 136.30,185.00 C136.25,187.83 136.18,190.17 136.50,192.00 C136.82,193.83 137.53,195.33 138.20,196.00 C138.87,196.67 139.67,196.67 140.50,196.00 C141.33,195.33 142.37,193.83 143.20,192.00 C144.03,190.17 144.78,187.83 145.50,185.00 C146.22,182.17 146.95,178.67 147.50,175.00 C148.05,171.33 148.58,165.00 148.80,163.00 Z" fill="#22399b"/>
<path d="M139.6,180 C139.2,184 139,187 139.6,189 C140.4,189.5 141.2,187 141.8,183 Z" fill="#453e4e"/>
<path d="M140.00,163.00 C140.02,164.17 140.03,168.00 140.10,170.00 C140.17,172.00 140.28,173.50 140.40,175.00 C140.52,176.50 140.67,177.83 140.80,179.00 C140.93,180.17 141.02,181.50 141.20,182.00 C141.38,182.50 141.67,182.50 141.90,182.00 C142.13,181.50 142.33,180.17 142.60,179.00 C142.87,177.83 143.22,176.50 143.50,175.00 C143.78,173.50 144.05,172.00 144.30,170.00 C144.55,168.00 144.88,164.17 145.00,163.00 Z" fill="#f6e619"/>
<path d="M135.80,289.00 C135.37,290.00 133.87,293.17 133.20,295.00 C132.53,296.83 131.87,297.50 131.80,300.00 C131.73,302.50 132.15,306.67 132.80,310.00 C133.45,313.33 134.93,316.17 135.70,320.00 C136.47,323.83 135.55,330.83 137.40,333.00 C139.25,335.17 145.33,335.17 146.80,333.00 C148.27,330.83 146.62,323.83 146.20,320.00 C145.78,316.17 145.27,313.33 144.30,310.00 C143.33,306.67 141.28,302.50 140.40,300.00 C139.52,297.50 139.53,296.83 139.00,295.00 C138.47,293.17 137.50,290.00 137.20,289.00 Z" fill="#22399b"/>
<path d="M137.00,301.50 C136.80,302.08 135.97,303.58 135.80,305.00 C135.63,306.42 135.77,308.67 136.00,310.00 C136.23,311.33 136.65,312.00 137.20,313.00 C137.75,314.00 138.83,314.50 139.30,316.00 C139.77,317.50 139.83,319.17 140.00,322.00 C140.17,324.83 139.70,331.17 140.30,333.00 C140.90,334.83 143.10,334.83 143.60,333.00 C144.10,331.17 143.40,324.83 143.30,322.00 C143.20,319.17 143.15,317.50 143.00,316.00 C142.85,314.50 142.80,314.00 142.40,313.00 C142.00,312.00 141.00,311.33 140.60,310.00 C140.20,308.67 140.43,306.42 140.00,305.00 C139.57,303.58 138.33,302.08 138.00,301.50 Z" fill="#f6e619"/>
<path d="M129.5,292 L133,295 L132.5,305 L129.8,303 Z" fill="#22399b"/>
</g>
<text x="146.50" y="176.70" font-size="7.2" font-weight="bold" fill="#fff">(003)<tspan dy="1.8" font-size="4.4">O3</tspan></text>
<text x="89.60" y="246.20" font-size="7.2" font-weight="bold" fill="#fff">(003)<tspan dy="1.8" font-size="4.4">P3</tspan></text>
<text x="141.80" y="310.20" font-size="7.2" font-weight="bold" fill="#fff">(003)<tspan dy="1.8" font-size="4.4">O'3</tspan></text>
<text x="144.70" y="327.20" font-size="7.2" font-weight="bold" fill="#fff">(003)<tspan dy="1.8" font-size="4.4">O3</tspan></text>
<rect x="87.7" y="165.8" width="87.49999999999999" height="164.39999999999998" fill="none" stroke="#3a3a48" stroke-width="0.9"/>
<line x1="87.90" y1="330.20" x2="87.90" y2="332.00" stroke="#333" stroke-width="0.8" />
<line x1="109.50" y1="330.20" x2="109.50" y2="332.00" stroke="#333" stroke-width="0.8" />
<line x1="131.50" y1="330.20" x2="131.50" y2="332.00" stroke="#333" stroke-width="0.8" />
<line x1="152.90" y1="330.20" x2="152.90" y2="332.00" stroke="#333" stroke-width="0.8" />
<line x1="174.50" y1="330.20" x2="174.50" y2="332.00" stroke="#333" stroke-width="0.8" />
<text x="89.00" y="341.20" font-size="8.6" text-anchor="middle" fill="#231f20" font-weight="normal" transform="translate(89.00,0) scale(0.93,1) translate(-89.00,0)"  >15</text>
<text x="132.70" y="341.20" font-size="8.6" text-anchor="middle" fill="#231f20" font-weight="normal" transform="translate(132.70,0) scale(0.93,1) translate(-132.70,0)"  >16</text>
<text x="175.00" y="341.20" font-size="8.6" text-anchor="middle" fill="#231f20" font-weight="normal" transform="translate(175.00,0) scale(0.93,1) translate(-175.00,0)"  >17</text>
<defs><linearGradient id="cb127" x1="0" x2="1" y1="0" y2="0"><stop offset="0" stop-color="#f8ea10"/><stop offset="0.22" stop-color="#f6ea30"/><stop offset="0.32" stop-color="#d8c870"/><stop offset="0.42" stop-color="#6a6050"/><stop offset="0.52" stop-color="#383850"/><stop offset="0.62" stop-color="#2a3070"/><stop offset="0.72" stop-color="#2238a0"/><stop offset="0.85" stop-color="#2c44a8"/><stop offset="0.93" stop-color="#4a5aa0"/><stop offset="1" stop-color="#5a6098"/></linearGradient></defs>
<rect x="127.2" y="157.4" width="35.7" height="6.099999999999994" fill="url(#cb127)" stroke="#777" stroke-width="0.5"/>
<text x="126.40" y="163.61" font-size="7.4" text-anchor="end" fill="#333" font-weight="normal"  >8.0</text>
<text x="163.70" y="163.61" font-size="7.4" text-anchor="start" fill="#333" font-weight="normal"  >2.0</text>
<rect x="184.1" y="165.8" width="58.30000000000001" height="164.39999999999998" fill="#686887"/>
<clipPath id="c2"><rect x="184.1" y="165.8" width="58.30000000000001" height="164.39999999999998"/></clipPath><g clip-path="url(#c2)">
<ellipse cx="190.8" cy="257.8" rx="0.73" ry="10.7" fill="#34438f" opacity="0.49"/>
<ellipse cx="196.1" cy="244.0" rx="0.90" ry="3.8" fill="#46508c" opacity="0.55"/>
<ellipse cx="185.4" cy="298.8" rx="0.82" ry="8.4" fill="#46508c" opacity="0.60"/>
<ellipse cx="190.8" cy="287.2" rx="0.58" ry="3.1" fill="#46508c" opacity="0.66"/>
<ellipse cx="184.9" cy="197.2" rx="0.80" ry="10.0" fill="#22399b" opacity="0.56"/>
<ellipse cx="192.9" cy="198.0" rx="0.82" ry="7.5" fill="#22399b" opacity="0.73"/>
<ellipse cx="190.9" cy="211.6" rx="1.00" ry="10.6" fill="#46508c" opacity="0.75"/>
<ellipse cx="188.7" cy="203.7" rx="0.51" ry="8.1" fill="#34438f" opacity="0.45"/>
<ellipse cx="185.6" cy="213.7" rx="0.98" ry="10.6" fill="#22399b" opacity="0.40"/>
<ellipse cx="187.1" cy="315.3" rx="0.69" ry="9.4" fill="#34438f" opacity="0.61"/>
<ellipse cx="192.5" cy="198.6" rx="0.63" ry="3.8" fill="#46508c" opacity="0.57"/>
<ellipse cx="198.5" cy="290.3" rx="0.57" ry="9.4" fill="#22399b" opacity="0.41"/>
<ellipse cx="191.0" cy="245.8" rx="0.78" ry="7.0" fill="#46508c" opacity="0.50"/>
<ellipse cx="195.0" cy="187.5" rx="0.69" ry="6.6" fill="#46508c" opacity="0.90"/>
<ellipse cx="184.0" cy="307.8" rx="0.65" ry="11.0" fill="#46508c" opacity="0.51"/>
<ellipse cx="189.9" cy="306.1" rx="0.79" ry="3.4" fill="#46508c" opacity="0.47"/>
<ellipse cx="190.6" cy="167.6" rx="0.66" ry="5.7" fill="#46508c" opacity="0.44"/>
<ellipse cx="185.4" cy="261.6" rx="0.51" ry="6.3" fill="#22399b" opacity="0.71"/>
<ellipse cx="185.9" cy="262.3" rx="0.57" ry="6.5" fill="#46508c" opacity="0.71"/>
<ellipse cx="188.7" cy="203.5" rx="0.62" ry="4.7" fill="#46508c" opacity="0.77"/>
<ellipse cx="198.1" cy="198.2" rx="0.94" ry="8.4" fill="#34438f" opacity="0.61"/>
<ellipse cx="185.6" cy="172.3" rx="0.62" ry="9.3" fill="#34438f" opacity="0.53"/>
<ellipse cx="196.4" cy="263.8" rx="0.76" ry="11.4" fill="#34438f" opacity="0.89"/>
<ellipse cx="185.9" cy="244.6" rx="0.93" ry="8.5" fill="#46508c" opacity="0.54"/>
<ellipse cx="197.8" cy="199.5" rx="0.53" ry="6.7" fill="#22399b" opacity="0.52"/>
<ellipse cx="184.7" cy="212.2" rx="0.79" ry="4.2" fill="#46508c" opacity="0.58"/>
<ellipse cx="197.4" cy="326.8" rx="0.87" ry="7.7" fill="#46508c" opacity="0.87"/>
<ellipse cx="192.8" cy="317.5" rx="0.96" ry="9.3" fill="#34438f" opacity="0.88"/>
<ellipse cx="184.3" cy="270.3" rx="0.53" ry="5.8" fill="#34438f" opacity="0.47"/>
<ellipse cx="185.1" cy="240.3" rx="0.87" ry="11.1" fill="#34438f" opacity="0.77"/>
<ellipse cx="194.6" cy="296.1" rx="0.68" ry="9.2" fill="#34438f" opacity="0.85"/>
<ellipse cx="197.1" cy="234.4" rx="0.93" ry="8.2" fill="#22399b" opacity="0.71"/>
<ellipse cx="189.7" cy="261.6" rx="0.54" ry="3.8" fill="#46508c" opacity="0.46"/>
<ellipse cx="187.9" cy="234.3" rx="0.69" ry="9.6" fill="#34438f" opacity="0.69"/>
<ellipse cx="190.6" cy="303.5" rx="0.76" ry="7.6" fill="#22399b" opacity="0.56"/>
<ellipse cx="185.3" cy="169.7" rx="0.56" ry="10.0" fill="#46508c" opacity="0.73"/>
<ellipse cx="191.3" cy="313.0" rx="0.65" ry="9.1" fill="#34438f" opacity="0.50"/>
<ellipse cx="186.5" cy="314.5" rx="0.97" ry="7.5" fill="#46508c" opacity="0.52"/>
<ellipse cx="190.1" cy="207.1" rx="0.72" ry="10.3" fill="#46508c" opacity="0.86"/>
<ellipse cx="197.2" cy="229.0" rx="0.96" ry="4.9" fill="#46508c" opacity="0.47"/>
<ellipse cx="189.3" cy="312.9" rx="0.86" ry="11.6" fill="#22399b" opacity="0.54"/>
<ellipse cx="186.5" cy="239.9" rx="0.96" ry="10.5" fill="#34438f" opacity="0.59"/>
<ellipse cx="191.8" cy="276.2" rx="0.92" ry="11.8" fill="#46508c" opacity="0.63"/>
<ellipse cx="185.1" cy="171.2" rx="0.52" ry="9.4" fill="#46508c" opacity="0.69"/>
<ellipse cx="188.6" cy="295.8" rx="0.82" ry="6.6" fill="#22399b" opacity="0.49"/>
<ellipse cx="195.5" cy="209.7" rx="0.90" ry="11.9" fill="#22399b" opacity="0.46"/>
<ellipse cx="185.6" cy="253.8" rx="0.90" ry="11.6" fill="#46508c" opacity="0.74"/>
<ellipse cx="187.0" cy="243.9" rx="0.86" ry="9.8" fill="#22399b" opacity="0.67"/>
<ellipse cx="184.5" cy="203.1" rx="0.77" ry="11.5" fill="#34438f" opacity="0.65"/>
<ellipse cx="199.0" cy="192.1" rx="0.95" ry="3.8" fill="#46508c" opacity="0.87"/>
<ellipse cx="194.8" cy="187.3" rx="0.60" ry="11.0" fill="#34438f" opacity="0.40"/>
<ellipse cx="192.3" cy="273.0" rx="0.90" ry="11.5" fill="#46508c" opacity="0.63"/>
<ellipse cx="193.8" cy="199.6" rx="0.93" ry="10.2" fill="#46508c" opacity="0.86"/>
<ellipse cx="185.9" cy="205.7" rx="0.99" ry="11.8" fill="#34438f" opacity="0.67"/>
<ellipse cx="195.9" cy="218.5" rx="0.93" ry="6.1" fill="#46508c" opacity="0.44"/>
<ellipse cx="190.6" cy="256.2" rx="0.74" ry="3.3" fill="#34438f" opacity="0.80"/>
<ellipse cx="185.0" cy="297.2" rx="0.77" ry="9.2" fill="#22399b" opacity="0.86"/>
<ellipse cx="191.1" cy="330.0" rx="0.76" ry="9.1" fill="#46508c" opacity="0.62"/>
<ellipse cx="197.2" cy="260.9" rx="0.54" ry="5.0" fill="#46508c" opacity="0.66"/>
<ellipse cx="188.4" cy="285.5" rx="0.58" ry="7.6" fill="#46508c" opacity="0.85"/>
<ellipse cx="219.4" cy="273.8" rx="0.67" ry="3.9" fill="#46508c" opacity="0.75"/>
<ellipse cx="219.7" cy="271.5" rx="0.85" ry="5.0" fill="#34438f" opacity="0.55"/>
<ellipse cx="227.4" cy="189.8" rx="0.68" ry="3.7" fill="#34438f" opacity="0.39"/>
<ellipse cx="223.8" cy="198.7" rx="0.84" ry="3.7" fill="#46508c" opacity="0.48"/>
<ellipse cx="235.2" cy="169.1" rx="0.91" ry="5.3" fill="#22399b" opacity="0.40"/>
<ellipse cx="241.5" cy="235.5" rx="0.56" ry="4.1" fill="#34438f" opacity="0.36"/>
<ellipse cx="212.4" cy="267.9" rx="0.99" ry="6.4" fill="#22399b" opacity="0.55"/>
<ellipse cx="220.8" cy="179.7" rx="0.71" ry="5.0" fill="#46508c" opacity="0.51"/>
<ellipse cx="215.5" cy="171.0" rx="0.54" ry="3.0" fill="#46508c" opacity="0.65"/>
<ellipse cx="210.2" cy="320.3" rx="0.69" ry="3.5" fill="#46508c" opacity="0.41"/>
<ellipse cx="213.4" cy="226.9" rx="0.91" ry="4.5" fill="#46508c" opacity="0.31"/>
<ellipse cx="234.4" cy="236.5" rx="0.51" ry="5.4" fill="#46508c" opacity="0.32"/>
<ellipse cx="207.8" cy="265.6" rx="0.61" ry="2.4" fill="#46508c" opacity="0.42"/>
<ellipse cx="217.6" cy="247.7" rx="0.82" ry="2.3" fill="#46508c" opacity="0.51"/>
<ellipse cx="208.0" cy="212.2" rx="0.85" ry="6.3" fill="#34438f" opacity="0.41"/>
<ellipse cx="241.5" cy="242.2" rx="0.68" ry="2.9" fill="#46508c" opacity="0.64"/>
<ellipse cx="238.2" cy="167.1" rx="0.96" ry="6.0" fill="#34438f" opacity="0.38"/>
<ellipse cx="233.2" cy="248.2" rx="0.81" ry="6.9" fill="#22399b" opacity="0.75"/>
<ellipse cx="220.7" cy="169.9" rx="0.94" ry="5.3" fill="#34438f" opacity="0.43"/>
<ellipse cx="204.1" cy="294.6" rx="0.74" ry="5.1" fill="#46508c" opacity="0.42"/>
<ellipse cx="239.7" cy="312.7" rx="0.72" ry="5.1" fill="#22399b" opacity="0.32"/>
<ellipse cx="213.2" cy="307.4" rx="0.85" ry="5.5" fill="#46508c" opacity="0.40"/>
<ellipse cx="211.3" cy="207.8" rx="0.50" ry="2.1" fill="#46508c" opacity="0.55"/>
<ellipse cx="210.4" cy="188.7" rx="0.72" ry="6.9" fill="#22399b" opacity="0.55"/>
<ellipse cx="225.9" cy="316.9" rx="0.88" ry="4.1" fill="#34438f" opacity="0.56"/>
<ellipse cx="237.7" cy="295.4" rx="0.78" ry="6.9" fill="#46508c" opacity="0.59"/>
<ellipse cx="215.6" cy="192.4" rx="0.86" ry="6.5" fill="#46508c" opacity="0.66"/>
<ellipse cx="237.6" cy="315.3" rx="0.60" ry="6.6" fill="#46508c" opacity="0.66"/>
<ellipse cx="229.5" cy="197.0" rx="0.97" ry="5.4" fill="#34438f" opacity="0.54"/>
<ellipse cx="225.8" cy="186.5" rx="0.80" ry="5.4" fill="#46508c" opacity="0.56"/>
<ellipse cx="202.1" cy="224.3" rx="0.84" ry="2.7" fill="#22399b" opacity="0.34"/>
<ellipse cx="212.4" cy="280.1" rx="0.83" ry="6.7" fill="#46508c" opacity="0.46"/>
<ellipse cx="200.3" cy="246.0" rx="0.74" ry="2.3" fill="#34438f" opacity="0.57"/>
<ellipse cx="218.6" cy="311.0" rx="0.97" ry="2.0" fill="#22399b" opacity="0.46"/>
<ellipse cx="211.0" cy="199.0" rx="0.65" ry="4.6" fill="#34438f" opacity="0.37"/>
<ellipse cx="237.8" cy="220.5" rx="0.73" ry="5.0" fill="#46508c" opacity="0.68"/>
<ellipse cx="209.7" cy="241.4" rx="0.92" ry="3.1" fill="#22399b" opacity="0.54"/>
<ellipse cx="231.7" cy="230.8" rx="0.72" ry="2.3" fill="#46508c" opacity="0.35"/>
<ellipse cx="223.5" cy="217.2" rx="0.51" ry="5.9" fill="#46508c" opacity="0.70"/>
<ellipse cx="226.2" cy="193.9" rx="0.61" ry="4.7" fill="#34438f" opacity="0.41"/>
<rect x="205.8" y="182.1" width="5.2" height="3.5" fill="#22399b"/>
<rect x="206.3" y="183.3" width="4.6" height="3.2" fill="#22399b"/>
<rect x="204.8" y="184.5" width="5.5" height="3.6" fill="#22399b"/>
<rect x="205.1" y="185.7" width="6.5" height="2.9" fill="#22399b"/>
<rect x="203.6" y="186.9" width="5.6" height="1.9" fill="#22399b"/>
<rect x="203.1" y="188.1" width="8.7" height="2.9" fill="#22399b"/>
<rect x="202.6" y="189.3" width="8.0" height="3.6" fill="#22399b"/>
<rect x="201.0" y="190.5" width="10.2" height="3.0" fill="#22399b"/>
<rect x="200.6" y="191.7" width="11.3" height="1.9" fill="#22399b"/>
<rect x="201.5" y="192.9" width="10.3" height="2.5" fill="#22399b"/>
<rect x="199.8" y="194.1" width="11.2" height="3.7" fill="#22399b"/>
<rect x="198.9" y="195.3" width="12.5" height="3.5" fill="#22399b"/>
<rect x="199.5" y="196.5" width="12.0" height="3.5" fill="#22399b"/>
<rect x="197.9" y="197.7" width="14.8" height="2.6" fill="#22399b"/>
<rect x="197.1" y="198.9" width="13.5" height="3.6" fill="#22399b"/>
<rect x="197.3" y="200.1" width="13.7" height="2.4" fill="#22399b"/>
<rect x="198.6" y="201.3" width="13.7" height="2.0" fill="#22399b"/>
<rect x="198.3" y="202.5" width="12.9" height="2.2" fill="#22399b"/>
<rect x="197.6" y="203.7" width="13.3" height="3.5" fill="#22399b"/>
<rect x="196.7" y="204.9" width="13.5" height="1.9" fill="#22399b"/>
<rect x="197.0" y="206.1" width="13.1" height="3.6" fill="#22399b"/>
<rect x="197.6" y="207.3" width="12.2" height="2.4" fill="#22399b"/>
<rect x="197.6" y="208.5" width="12.9" height="2.6" fill="#22399b"/>
<rect x="196.3" y="209.7" width="13.1" height="3.2" fill="#22399b"/>
<rect x="197.5" y="210.9" width="11.2" height="2.1" fill="#22399b"/>
<rect x="197.6" y="212.1" width="9.8" height="3.6" fill="#22399b"/>
<rect x="196.9" y="213.3" width="11.1" height="4.3" fill="#22399b"/>
<rect x="196.0" y="214.5" width="10.1" height="1.9" fill="#22399b"/>
<rect x="195.9" y="215.7" width="10.3" height="4.3" fill="#22399b"/>
<rect x="196.5" y="216.9" width="10.3" height="3.6" fill="#22399b"/>
<rect x="195.7" y="218.1" width="9.4" height="2.2" fill="#22399b"/>
<rect x="196.7" y="219.3" width="9.6" height="3.7" fill="#22399b"/>
<rect x="195.0" y="220.5" width="9.6" height="1.9" fill="#22399b"/>
<rect x="195.6" y="221.7" width="9.1" height="3.0" fill="#22399b"/>
<rect x="196.2" y="222.9" width="7.6" height="2.2" fill="#22399b"/>
<rect x="195.0" y="224.1" width="8.9" height="4.0" fill="#22399b"/>
<rect x="195.3" y="225.3" width="8.0" height="2.3" fill="#22399b"/>
<rect x="195.6" y="226.5" width="7.4" height="3.1" fill="#22399b"/>
<rect x="196.8" y="227.7" width="5.8" height="2.1" fill="#22399b"/>
<rect x="194.8" y="228.9" width="6.2" height="3.4" fill="#22399b"/>
<rect x="195.0" y="230.1" width="5.3" height="3.8" fill="#22399b"/>
<rect x="195.8" y="231.3" width="5.2" height="4.2" fill="#22399b"/>
<ellipse cx="193.6" cy="225.5" rx="0.71" ry="2.9" fill="#22399b" opacity="0.61"/>
<ellipse cx="194.0" cy="207.1" rx="0.77" ry="3.8" fill="#22399b" opacity="0.69"/>
<ellipse cx="215.3" cy="202.0" rx="1.08" ry="6.6" fill="#22399b" opacity="0.67"/>
<ellipse cx="207.7" cy="217.4" rx="1.18" ry="5.6" fill="#22399b" opacity="0.87"/>
<ellipse cx="212.8" cy="197.2" rx="0.61" ry="5.3" fill="#22399b" opacity="0.72"/>
<ellipse cx="199.8" cy="194.6" rx="0.58" ry="5.5" fill="#22399b" opacity="0.90"/>
<ellipse cx="212.6" cy="207.5" rx="0.94" ry="2.7" fill="#22399b" opacity="0.98"/>
<ellipse cx="197.1" cy="195.1" rx="1.02" ry="3.9" fill="#22399b" opacity="0.85"/>
<ellipse cx="193.9" cy="207.1" rx="0.82" ry="6.1" fill="#22399b" opacity="0.93"/>
<ellipse cx="199.9" cy="191.2" rx="0.66" ry="5.8" fill="#22399b" opacity="1.00"/>
<ellipse cx="212.0" cy="209.9" rx="1.03" ry="6.6" fill="#22399b" opacity="0.62"/>
<ellipse cx="195.6" cy="220.1" rx="0.68" ry="5.6" fill="#22399b" opacity="0.81"/>
<ellipse cx="210.8" cy="211.1" rx="0.91" ry="5.4" fill="#22399b" opacity="0.70"/>
<ellipse cx="195.8" cy="211.2" rx="0.54" ry="2.9" fill="#22399b" opacity="0.79"/>
<ellipse cx="209.8" cy="213.3" rx="0.71" ry="2.7" fill="#22399b" opacity="0.66"/>
<ellipse cx="196.8" cy="204.2" rx="1.06" ry="2.4" fill="#22399b" opacity="0.70"/>
<ellipse cx="192.5" cy="216.4" rx="0.53" ry="3.3" fill="#22399b" opacity="0.97"/>
<ellipse cx="208.5" cy="214.7" rx="1.10" ry="3.6" fill="#22399b" opacity="0.91"/>
<ellipse cx="211.9" cy="212.0" rx="1.10" ry="3.9" fill="#22399b" opacity="0.69"/>
<ellipse cx="214.1" cy="198.1" rx="0.80" ry="6.0" fill="#22399b" opacity="0.86"/>
<ellipse cx="201.1" cy="190.3" rx="0.87" ry="6.1" fill="#22399b" opacity="0.91"/>
<ellipse cx="199.8" cy="192.0" rx="1.15" ry="3.0" fill="#22399b" opacity="0.64"/>
<ellipse cx="214.5" cy="203.7" rx="0.51" ry="2.9" fill="#22399b" opacity="0.65"/>
<ellipse cx="208.5" cy="212.8" rx="1.00" ry="3.8" fill="#22399b" opacity="0.63"/>
<ellipse cx="214.7" cy="191.9" rx="0.62" ry="2.3" fill="#22399b" opacity="0.75"/>
<ellipse cx="193.0" cy="218.8" rx="0.95" ry="6.2" fill="#22399b" opacity="0.81"/>
<ellipse cx="193.0" cy="218.0" rx="0.62" ry="4.5" fill="#22399b" opacity="0.90"/>
<ellipse cx="195.0" cy="214.8" rx="0.81" ry="2.3" fill="#22399b" opacity="0.87"/>
<ellipse cx="195.5" cy="200.7" rx="0.74" ry="2.2" fill="#22399b" opacity="0.63"/>
<ellipse cx="215.7" cy="200.4" rx="0.54" ry="6.0" fill="#22399b" opacity="0.79"/>
<rect x="207.6" y="182.2" width="1.9" height="2.1" fill="#f6e619"/>
<rect x="208.0" y="183.4" width="1.9" height="2.1" fill="#f6e619"/>
<rect x="206.2" y="184.6" width="2.3" height="2.0" fill="#f6e619"/>
<rect x="206.3" y="185.8" width="3.8" height="3.1" fill="#f6e619"/>
<rect x="204.9" y="187.0" width="3.4" height="2.0" fill="#f6e619"/>
<rect x="205.4" y="188.2" width="4.5" height="3.3" fill="#f6e619"/>
<rect x="204.4" y="189.4" width="4.9" height="2.5" fill="#f6e619"/>
<rect x="203.3" y="190.6" width="5.9" height="2.1" fill="#f6e619"/>
<rect x="202.9" y="191.8" width="6.8" height="3.0" fill="#f6e619"/>
<rect x="203.0" y="193.0" width="7.3" height="2.6" fill="#f6e619"/>
<rect x="201.6" y="194.2" width="8.4" height="3.2" fill="#f6e619"/>
<rect x="201.0" y="195.4" width="9.4" height="1.9" fill="#f6e619"/>
<rect x="200.8" y="196.6" width="9.0" height="2.8" fill="#f6e619"/>
<rect x="200.2" y="197.8" width="10.5" height="1.7" fill="#f6e619"/>
<rect x="199.0" y="199.0" width="10.5" height="1.9" fill="#f6e619"/>
<rect x="198.8" y="200.2" width="10.9" height="2.3" fill="#f6e619"/>
<rect x="199.8" y="201.4" width="10.5" height="2.2" fill="#f6e619"/>
<rect x="199.5" y="202.6" width="10.5" height="2.1" fill="#f6e619"/>
<rect x="199.5" y="203.8" width="9.7" height="2.6" fill="#f6e619"/>
<rect x="198.8" y="205.0" width="9.8" height="2.9" fill="#f6e619"/>
<rect x="198.2" y="206.2" width="10.3" height="2.3" fill="#f6e619"/>
<rect x="199.8" y="207.4" width="8.4" height="2.5" fill="#f6e619"/>
<rect x="199.3" y="208.6" width="9.0" height="3.0" fill="#f6e619"/>
<rect x="198.5" y="209.8" width="8.7" height="2.0" fill="#f6e619"/>
<rect x="199.1" y="211.0" width="8.5" height="3.4" fill="#f6e619"/>
<rect x="198.6" y="212.2" width="7.1" height="1.6" fill="#f6e619"/>
<rect x="199.2" y="213.4" width="7.0" height="2.3" fill="#f6e619"/>
<rect x="197.5" y="214.6" width="7.5" height="3.1" fill="#f6e619"/>
<rect x="197.2" y="215.8" width="7.3" height="2.0" fill="#f6e619"/>
<rect x="197.8" y="217.0" width="7.7" height="2.2" fill="#f6e619"/>
<rect x="197.1" y="218.2" width="6.3" height="1.9" fill="#f6e619"/>
<rect x="198.8" y="219.4" width="5.4" height="3.4" fill="#f6e619"/>
<rect x="197.2" y="220.6" width="6.0" height="3.2" fill="#f6e619"/>
<rect x="196.9" y="221.8" width="5.6" height="1.7" fill="#f6e619"/>
<rect x="197.3" y="223.0" width="5.3" height="2.6" fill="#f6e619"/>
<rect x="196.6" y="224.2" width="5.2" height="1.9" fill="#f6e619"/>
<rect x="197.2" y="225.4" width="4.1" height="1.6" fill="#f6e619"/>
<rect x="197.6" y="226.6" width="4.2" height="2.0" fill="#f6e619"/>
<rect x="197.8" y="227.8" width="2.7" height="2.9" fill="#f6e619"/>
<rect x="196.6" y="229.0" width="2.7" height="2.6" fill="#f6e619"/>
<rect x="196.9" y="230.2" width="2.0" height="2.1" fill="#f6e619"/>
<rect x="198.0" y="231.4" width="1.2" height="2.6" fill="#f6e619"/>
<ellipse cx="207.3" cy="187.1" rx="0.60" ry="4.6" fill="#22399b" opacity="0.75"/>
<ellipse cx="199.1" cy="230.5" rx="0.69" ry="2.4" fill="#22399b" opacity="0.82"/>
<ellipse cx="198.4" cy="221.6" rx="0.48" ry="2.3" fill="#22399b" opacity="0.66"/>
<ellipse cx="208.5" cy="187.3" rx="0.70" ry="2.2" fill="#686887" opacity="0.75"/>
<ellipse cx="199.8" cy="228.6" rx="0.84" ry="4.5" fill="#22399b" opacity="0.73"/>
<ellipse cx="199.0" cy="232.0" rx="0.44" ry="2.2" fill="#22399b" opacity="0.86"/>
<rect x="186.7" y="209.1" width="4.6" height="2.5" fill="#22399b"/>
<rect x="188.7" y="210.3" width="4.5" height="3.1" fill="#22399b"/>
<rect x="188.0" y="211.5" width="4.5" height="2.3" fill="#22399b"/>
<rect x="188.3" y="212.7" width="5.3" height="2.6" fill="#22399b"/>
<rect x="188.5" y="213.9" width="4.7" height="1.8" fill="#22399b"/>
<rect x="186.7" y="215.1" width="6.2" height="3.3" fill="#22399b"/>
<rect x="188.1" y="216.3" width="5.1" height="3.0" fill="#22399b"/>
<rect x="187.6" y="217.5" width="6.8" height="3.9" fill="#22399b"/>
<rect x="186.8" y="218.7" width="7.0" height="2.7" fill="#22399b"/>
<rect x="187.6" y="219.9" width="6.3" height="2.7" fill="#22399b"/>
<rect x="188.0" y="221.1" width="6.2" height="4.0" fill="#22399b"/>
<rect x="188.5" y="222.3" width="6.2" height="2.2" fill="#22399b"/>
<rect x="188.2" y="223.5" width="6.8" height="2.0" fill="#22399b"/>
<rect x="187.9" y="224.7" width="7.0" height="3.8" fill="#22399b"/>
<rect x="188.0" y="225.9" width="7.9" height="4.2" fill="#22399b"/>
<rect x="189.4" y="227.1" width="6.9" height="4.2" fill="#22399b"/>
<rect x="188.4" y="228.3" width="7.1" height="2.2" fill="#22399b"/>
<rect x="188.0" y="229.5" width="8.7" height="4.0" fill="#22399b"/>
<rect x="187.8" y="230.7" width="8.6" height="4.3" fill="#22399b"/>
<rect x="188.2" y="231.9" width="10.5" height="3.3" fill="#22399b"/>
<rect x="188.4" y="233.1" width="11.0" height="2.3" fill="#22399b"/>
<rect x="189.7" y="234.3" width="9.4" height="2.8" fill="#22399b"/>
<rect x="186.8" y="235.5" width="12.3" height="3.1" fill="#22399b"/>
<rect x="187.6" y="236.7" width="11.7" height="3.3" fill="#22399b"/>
<rect x="187.8" y="237.9" width="12.1" height="3.0" fill="#22399b"/>
<rect x="186.6" y="239.1" width="12.1" height="2.2" fill="#22399b"/>
<rect x="185.9" y="240.3" width="10.6" height="4.1" fill="#22399b"/>
<rect x="185.3" y="241.5" width="10.6" height="2.3" fill="#22399b"/>
<rect x="185.1" y="242.7" width="11.4" height="2.7" fill="#22399b"/>
<rect x="186.2" y="243.9" width="10.2" height="2.1" fill="#22399b"/>
<rect x="185.5" y="245.1" width="11.6" height="4.2" fill="#22399b"/>
<rect x="187.3" y="246.3" width="11.3" height="2.6" fill="#22399b"/>
<rect x="187.3" y="247.5" width="11.2" height="2.1" fill="#22399b"/>
<rect x="188.1" y="248.7" width="10.6" height="2.2" fill="#22399b"/>
<rect x="185.4" y="249.9" width="12.9" height="3.7" fill="#22399b"/>
<rect x="187.9" y="251.1" width="11.8" height="3.4" fill="#22399b"/>
<rect x="188.5" y="252.3" width="10.8" height="3.9" fill="#22399b"/>
<rect x="186.7" y="253.5" width="12.8" height="3.3" fill="#22399b"/>
<rect x="188.4" y="254.7" width="13.1" height="3.2" fill="#22399b"/>
<rect x="188.3" y="255.9" width="13.7" height="4.1" fill="#22399b"/>
<rect x="187.5" y="257.1" width="14.7" height="3.5" fill="#22399b"/>
<rect x="189.1" y="258.3" width="11.3" height="4.1" fill="#22399b"/>
<rect x="188.3" y="259.5" width="11.8" height="3.2" fill="#22399b"/>
<rect x="187.9" y="260.7" width="14.3" height="2.1" fill="#22399b"/>
<rect x="189.5" y="261.9" width="13.8" height="4.2" fill="#22399b"/>
<rect x="188.1" y="263.1" width="13.7" height="4.0" fill="#22399b"/>
<rect x="187.9" y="264.3" width="14.1" height="4.3" fill="#22399b"/>
<rect x="189.5" y="265.5" width="13.4" height="3.7" fill="#22399b"/>
<rect x="190.1" y="266.7" width="15.5" height="3.0" fill="#22399b"/>
<rect x="189.9" y="267.9" width="12.9" height="3.9" fill="#22399b"/>
<rect x="191.2" y="269.1" width="13.4" height="2.1" fill="#22399b"/>
<rect x="190.7" y="270.3" width="13.7" height="3.8" fill="#22399b"/>
<rect x="192.2" y="271.5" width="12.7" height="3.7" fill="#22399b"/>
<rect x="192.7" y="272.7" width="12.6" height="3.0" fill="#22399b"/>
<rect x="191.4" y="273.9" width="13.3" height="2.0" fill="#22399b"/>
<rect x="193.4" y="275.1" width="13.2" height="3.3" fill="#22399b"/>
<rect x="191.5" y="276.3" width="13.4" height="3.0" fill="#22399b"/>
<rect x="194.9" y="277.5" width="13.9" height="3.2" fill="#22399b"/>
<rect x="193.6" y="278.7" width="13.4" height="2.3" fill="#22399b"/>
<rect x="195.7" y="279.9" width="11.4" height="2.0" fill="#22399b"/>
<rect x="194.3" y="281.1" width="12.2" height="1.9" fill="#22399b"/>
<rect x="195.2" y="282.3" width="13.2" height="3.4" fill="#22399b"/>
<rect x="195.3" y="283.5" width="12.8" height="2.2" fill="#22399b"/>
<rect x="197.5" y="284.7" width="10.6" height="4.0" fill="#22399b"/>
<rect x="197.2" y="285.9" width="11.8" height="3.8" fill="#22399b"/>
<rect x="197.6" y="287.1" width="12.6" height="2.3" fill="#22399b"/>
<rect x="197.3" y="288.3" width="12.0" height="2.3" fill="#22399b"/>
<rect x="197.5" y="289.5" width="11.5" height="3.4" fill="#22399b"/>
<rect x="198.0" y="290.7" width="12.1" height="2.2" fill="#22399b"/>
<rect x="198.0" y="291.9" width="11.0" height="2.8" fill="#22399b"/>
<rect x="199.8" y="293.1" width="10.9" height="3.4" fill="#22399b"/>
<rect x="200.4" y="294.3" width="11.2" height="2.4" fill="#22399b"/>
<rect x="198.6" y="295.5" width="11.8" height="1.9" fill="#22399b"/>
<rect x="201.0" y="296.7" width="9.3" height="3.5" fill="#22399b"/>
<rect x="202.3" y="297.9" width="7.8" height="2.1" fill="#22399b"/>
<rect x="199.0" y="299.1" width="9.3" height="2.0" fill="#22399b"/>
<rect x="202.1" y="300.3" width="9.3" height="2.6" fill="#22399b"/>
<rect x="202.4" y="301.5" width="9.5" height="2.9" fill="#22399b"/>
<rect x="202.5" y="302.7" width="8.9" height="4.0" fill="#22399b"/>
<rect x="202.4" y="303.9" width="7.5" height="2.4" fill="#22399b"/>
<rect x="203.4" y="305.1" width="6.8" height="3.6" fill="#22399b"/>
<rect x="203.3" y="306.3" width="6.9" height="2.9" fill="#22399b"/>
<rect x="202.4" y="307.5" width="6.8" height="2.9" fill="#22399b"/>
<rect x="203.1" y="308.7" width="7.0" height="3.8" fill="#22399b"/>
<rect x="204.5" y="309.9" width="3.7" height="4.1" fill="#22399b"/>
<rect x="204.5" y="311.1" width="5.6" height="3.4" fill="#22399b"/>
<ellipse cx="199.5" cy="230.6" rx="0.81" ry="4.0" fill="#22399b" opacity="0.77"/>
<ellipse cx="189.3" cy="271.1" rx="0.86" ry="3.7" fill="#22399b" opacity="0.82"/>
<ellipse cx="210.8" cy="307.6" rx="0.76" ry="2.6" fill="#22399b" opacity="0.82"/>
<ellipse cx="212.4" cy="286.8" rx="0.70" ry="3.2" fill="#22399b" opacity="0.83"/>
<ellipse cx="199.6" cy="243.3" rx="0.95" ry="7.0" fill="#22399b" opacity="0.62"/>
<ellipse cx="185.4" cy="210.8" rx="1.11" ry="4.2" fill="#22399b" opacity="0.85"/>
<ellipse cx="203.4" cy="262.0" rx="1.20" ry="6.6" fill="#22399b" opacity="0.75"/>
<ellipse cx="195.7" cy="219.6" rx="1.01" ry="2.5" fill="#22399b" opacity="0.76"/>
<ellipse cx="187.1" cy="266.2" rx="0.84" ry="5.0" fill="#22399b" opacity="0.97"/>
<ellipse cx="182.6" cy="244.9" rx="1.02" ry="6.2" fill="#22399b" opacity="0.92"/>
<ellipse cx="197.7" cy="230.0" rx="0.82" ry="5.6" fill="#22399b" opacity="0.82"/>
<ellipse cx="210.7" cy="279.0" rx="0.60" ry="5.3" fill="#22399b" opacity="0.69"/>
<ellipse cx="186.5" cy="249.7" rx="0.93" ry="5.2" fill="#22399b" opacity="0.74"/>
<ellipse cx="197.9" cy="292.5" rx="0.77" ry="2.0" fill="#22399b" opacity="0.75"/>
<ellipse cx="184.4" cy="221.3" rx="1.05" ry="3.5" fill="#22399b" opacity="0.65"/>
<ellipse cx="199.2" cy="248.0" rx="0.89" ry="6.9" fill="#22399b" opacity="0.70"/>
<ellipse cx="189.0" cy="271.0" rx="0.51" ry="6.3" fill="#22399b" opacity="0.74"/>
<ellipse cx="195.5" cy="214.8" rx="1.10" ry="2.0" fill="#22399b" opacity="0.91"/>
<ellipse cx="184.3" cy="224.0" rx="0.61" ry="6.5" fill="#22399b" opacity="1.00"/>
<ellipse cx="190.1" cy="275.6" rx="0.60" ry="6.7" fill="#22399b" opacity="0.79"/>
<ellipse cx="200.2" cy="231.8" rx="0.75" ry="4.9" fill="#22399b" opacity="0.68"/>
<ellipse cx="199.7" cy="306.3" rx="1.17" ry="3.5" fill="#22399b" opacity="0.83"/>
<ellipse cx="187.1" cy="268.2" rx="1.03" ry="5.3" fill="#22399b" opacity="0.84"/>
<ellipse cx="186.5" cy="265.3" rx="0.90" ry="4.0" fill="#22399b" opacity="0.75"/>
<ellipse cx="210.0" cy="284.9" rx="1.11" ry="2.8" fill="#22399b" opacity="0.81"/>
<ellipse cx="204.0" cy="262.3" rx="0.73" ry="5.9" fill="#22399b" opacity="0.95"/>
<ellipse cx="190.6" cy="276.9" rx="0.54" ry="5.0" fill="#22399b" opacity="0.92"/>
<ellipse cx="210.6" cy="284.0" rx="0.72" ry="3.5" fill="#22399b" opacity="0.87"/>
<ellipse cx="185.8" cy="214.2" rx="1.01" ry="2.8" fill="#22399b" opacity="0.62"/>
<ellipse cx="187.1" cy="255.5" rx="0.56" ry="3.5" fill="#22399b" opacity="0.86"/>
<ellipse cx="184.9" cy="216.5" rx="0.81" ry="5.8" fill="#22399b" opacity="0.97"/>
<ellipse cx="213.6" cy="306.4" rx="1.18" ry="6.7" fill="#22399b" opacity="0.85"/>
<ellipse cx="203.3" cy="252.8" rx="0.57" ry="4.2" fill="#22399b" opacity="0.66"/>
<ellipse cx="186.8" cy="220.8" rx="0.57" ry="4.9" fill="#22399b" opacity="0.82"/>
<ellipse cx="186.1" cy="260.6" rx="0.84" ry="4.2" fill="#22399b" opacity="0.61"/>
<ellipse cx="205.5" cy="261.2" rx="1.04" ry="6.4" fill="#22399b" opacity="0.91"/>
<ellipse cx="197.8" cy="220.5" rx="0.54" ry="2.9" fill="#22399b" opacity="0.65"/>
<ellipse cx="201.0" cy="253.2" rx="0.88" ry="5.5" fill="#22399b" opacity="0.68"/>
<ellipse cx="204.1" cy="266.1" rx="0.81" ry="5.9" fill="#22399b" opacity="0.90"/>
<ellipse cx="197.4" cy="295.6" rx="0.67" ry="5.4" fill="#22399b" opacity="0.65"/>
<rect x="190.1" y="210.4" width="0.9" height="1.9" fill="#f6e619"/>
<rect x="189.9" y="211.6" width="0.6" height="3.3" fill="#f6e619"/>
<rect x="189.8" y="212.8" width="1.5" height="2.6" fill="#f6e619"/>
<rect x="190.7" y="214.0" width="1.3" height="2.6" fill="#f6e619"/>
<rect x="188.4" y="215.2" width="3.1" height="2.0" fill="#f6e619"/>
<rect x="190.1" y="216.4" width="2.0" height="3.0" fill="#f6e619"/>
<rect x="189.1" y="217.6" width="3.0" height="3.2" fill="#f6e619"/>
<rect x="189.0" y="218.8" width="2.7" height="2.1" fill="#f6e619"/>
<rect x="189.5" y="220.0" width="2.7" height="3.0" fill="#f6e619"/>
<rect x="189.4" y="221.2" width="2.9" height="2.9" fill="#f6e619"/>
<rect x="189.8" y="222.4" width="3.4" height="2.3" fill="#f6e619"/>
<rect x="189.7" y="223.6" width="3.7" height="3.4" fill="#f6e619"/>
<rect x="189.8" y="224.8" width="3.6" height="2.6" fill="#f6e619"/>
<rect x="189.4" y="226.0" width="4.5" height="2.5" fill="#f6e619"/>
<rect x="190.6" y="227.2" width="4.1" height="2.1" fill="#f6e619"/>
<rect x="190.0" y="228.4" width="4.1" height="3.4" fill="#f6e619"/>
<rect x="190.2" y="229.6" width="5.1" height="2.6" fill="#f6e619"/>
<rect x="189.6" y="230.8" width="5.6" height="2.5" fill="#f6e619"/>
<rect x="190.4" y="232.0" width="6.2" height="3.1" fill="#f6e619"/>
<rect x="190.4" y="233.2" width="6.6" height="3.1" fill="#f6e619"/>
<rect x="191.0" y="234.4" width="6.0" height="2.5" fill="#f6e619"/>
<rect x="189.2" y="235.6" width="7.8" height="2.1" fill="#f6e619"/>
<rect x="188.8" y="236.8" width="8.6" height="2.2" fill="#f6e619"/>
<rect x="189.6" y="238.0" width="8.2" height="2.7" fill="#f6e619"/>
<rect x="188.9" y="239.2" width="8.0" height="1.9" fill="#f6e619"/>
<rect x="188.1" y="240.4" width="7.2" height="2.6" fill="#f6e619"/>
<rect x="187.6" y="241.6" width="7.1" height="3.0" fill="#f6e619"/>
<rect x="187.1" y="242.8" width="7.8" height="2.5" fill="#f6e619"/>
<rect x="188.2" y="244.0" width="6.7" height="2.2" fill="#f6e619"/>
<rect x="187.3" y="245.2" width="7.6" height="2.1" fill="#f6e619"/>
<rect x="188.4" y="246.4" width="8.1" height="3.3" fill="#f6e619"/>
<rect x="189.7" y="247.6" width="7.3" height="3.0" fill="#f6e619"/>
<rect x="189.6" y="248.8" width="7.5" height="2.5" fill="#f6e619"/>
<rect x="187.4" y="250.0" width="9.4" height="2.8" fill="#f6e619"/>
<rect x="189.2" y="251.2" width="8.8" height="2.4" fill="#f6e619"/>
<rect x="189.8" y="252.4" width="8.1" height="3.0" fill="#f6e619"/>
<rect x="188.2" y="253.6" width="9.8" height="2.1" fill="#f6e619"/>
<rect x="190.3" y="254.8" width="8.9" height="2.5" fill="#f6e619"/>
<rect x="190.5" y="256.0" width="9.2" height="3.0" fill="#f6e619"/>
<rect x="189.8" y="257.2" width="10.5" height="3.1" fill="#f6e619"/>
<rect x="190.7" y="258.4" width="8.6" height="2.1" fill="#f6e619"/>
<rect x="189.9" y="259.6" width="8.8" height="2.5" fill="#f6e619"/>
<rect x="190.0" y="260.8" width="10.1" height="2.2" fill="#f6e619"/>
<rect x="191.6" y="262.0" width="9.4" height="2.5" fill="#f6e619"/>
<rect x="190.4" y="263.2" width="9.6" height="2.8" fill="#f6e619"/>
<rect x="189.8" y="264.4" width="10.1" height="1.8" fill="#f6e619"/>
<rect x="191.0" y="265.6" width="10.7" height="2.4" fill="#f6e619"/>
<rect x="192.4" y="266.8" width="10.9" height="3.4" fill="#f6e619"/>
<rect x="191.5" y="268.0" width="10.1" height="2.8" fill="#f6e619"/>
<rect x="192.5" y="269.2" width="10.8" height="1.6" fill="#f6e619"/>
<rect x="193.0" y="270.4" width="9.8" height="2.2" fill="#f6e619"/>
<rect x="193.3" y="271.6" width="9.9" height="1.7" fill="#f6e619"/>
<rect x="194.7" y="272.8" width="9.3" height="2.8" fill="#f6e619"/>
<rect x="193.5" y="274.0" width="8.9" height="1.6" fill="#f6e619"/>
<rect x="195.2" y="275.2" width="9.1" height="2.9" fill="#f6e619"/>
<rect x="193.6" y="276.4" width="9.9" height="1.6" fill="#f6e619"/>
<rect x="195.9" y="277.6" width="10.7" height="1.9" fill="#f6e619"/>
<rect x="194.9" y="278.8" width="9.8" height="2.0" fill="#f6e619"/>
<rect x="196.7" y="280.0" width="8.3" height="2.9" fill="#f6e619"/>
<rect x="196.2" y="281.2" width="9.1" height="2.9" fill="#f6e619"/>
<rect x="197.2" y="282.4" width="9.3" height="3.0" fill="#f6e619"/>
<rect x="197.3" y="283.6" width="8.8" height="1.7" fill="#f6e619"/>
<rect x="199.1" y="284.8" width="7.1" height="3.0" fill="#f6e619"/>
<rect x="199.1" y="286.0" width="8.3" height="2.5" fill="#f6e619"/>
<rect x="199.8" y="287.2" width="9.0" height="3.1" fill="#f6e619"/>
<rect x="198.3" y="288.4" width="8.7" height="1.9" fill="#f6e619"/>
<rect x="199.3" y="289.6" width="7.9" height="3.1" fill="#f6e619"/>
<rect x="200.3" y="290.8" width="7.9" height="2.2" fill="#f6e619"/>
<rect x="199.6" y="292.0" width="8.2" height="1.6" fill="#f6e619"/>
<rect x="201.8" y="293.2" width="6.9" height="2.4" fill="#f6e619"/>
<rect x="202.6" y="294.4" width="6.6" height="1.9" fill="#f6e619"/>
<rect x="200.5" y="295.6" width="7.9" height="3.2" fill="#f6e619"/>
<rect x="203.4" y="296.8" width="5.4" height="2.7" fill="#f6e619"/>
<rect x="203.6" y="298.0" width="4.9" height="3.4" fill="#f6e619"/>
<rect x="201.3" y="299.2" width="5.9" height="2.8" fill="#f6e619"/>
<rect x="204.1" y="300.4" width="5.5" height="1.7" fill="#f6e619"/>
<rect x="204.7" y="301.6" width="5.2" height="2.9" fill="#f6e619"/>
<rect x="204.5" y="302.8" width="4.6" height="2.5" fill="#f6e619"/>
<rect x="203.9" y="304.0" width="3.9" height="2.6" fill="#f6e619"/>
<rect x="204.9" y="305.2" width="2.9" height="1.9" fill="#f6e619"/>
<rect x="204.9" y="306.4" width="3.5" height="1.6" fill="#f6e619"/>
<rect x="204.4" y="307.6" width="3.1" height="2.8" fill="#f6e619"/>
<rect x="204.7" y="308.8" width="3.2" height="2.1" fill="#f6e619"/>
<rect x="205.9" y="310.0" width="0.8" height="3.3" fill="#f6e619"/>
<rect x="206.5" y="311.2" width="1.8" height="1.9" fill="#f6e619"/>
<ellipse cx="190.7" cy="244.7" rx="0.89" ry="2.1" fill="#686887" opacity="0.73"/>
<ellipse cx="202.4" cy="277.7" rx="0.64" ry="1.7" fill="#22399b" opacity="0.67"/>
<ellipse cx="197.9" cy="261.4" rx="0.82" ry="3.2" fill="#22399b" opacity="0.78"/>
<ellipse cx="200.0" cy="280.9" rx="0.69" ry="4.2" fill="#22399b" opacity="0.76"/>
<ellipse cx="202.4" cy="280.3" rx="0.50" ry="2.3" fill="#22399b" opacity="0.95"/>
<ellipse cx="193.0" cy="262.6" rx="0.67" ry="2.2" fill="#686887" opacity="0.98"/>
<ellipse cx="204.2" cy="283.1" rx="0.82" ry="5.0" fill="#22399b" opacity="0.64"/>
<ellipse cx="191.6" cy="243.6" rx="0.75" ry="3.4" fill="#686887" opacity="0.67"/>
<ellipse cx="208.0" cy="301.6" rx="0.68" ry="4.3" fill="#686887" opacity="0.81"/>
<ellipse cx="190.4" cy="216.9" rx="0.41" ry="4.8" fill="#22399b" opacity="0.62"/>
<ellipse cx="193.0" cy="237.9" rx="0.74" ry="4.2" fill="#22399b" opacity="0.78"/>
<ellipse cx="202.0" cy="293.5" rx="0.88" ry="2.2" fill="#686887" opacity="0.63"/>
<ellipse cx="205.8" cy="298.6" rx="0.68" ry="2.3" fill="#22399b" opacity="0.71"/>
<ellipse cx="198.8" cy="277.8" rx="0.69" ry="4.6" fill="#686887" opacity="0.92"/>
<rect x="231.4" y="165.1" width="7.6" height="2.2" fill="#22399b"/>
<rect x="231.0" y="166.3" width="6.8" height="2.0" fill="#22399b"/>
<rect x="230.2" y="167.5" width="7.4" height="3.8" fill="#22399b"/>
<rect x="231.7" y="168.7" width="5.8" height="3.0" fill="#22399b"/>
<rect x="230.1" y="169.9" width="8.6" height="3.2" fill="#22399b"/>
<rect x="230.6" y="171.1" width="7.0" height="2.5" fill="#22399b"/>
<rect x="231.4" y="172.3" width="5.9" height="2.8" fill="#22399b"/>
<rect x="231.5" y="173.5" width="6.1" height="3.7" fill="#22399b"/>
<rect x="232.7" y="174.7" width="4.5" height="1.9" fill="#22399b"/>
<rect x="231.8" y="175.9" width="6.0" height="3.2" fill="#22399b"/>
<rect x="232.5" y="177.1" width="4.7" height="2.4" fill="#22399b"/>
<rect x="232.1" y="178.3" width="4.4" height="3.4" fill="#22399b"/>
<rect x="232.8" y="179.5" width="3.8" height="2.6" fill="#22399b"/>
<rect x="232.7" y="180.7" width="4.2" height="2.6" fill="#22399b"/>
<rect x="232.5" y="165.2" width="5.1" height="2.8" fill="#f6e619"/>
<rect x="232.3" y="166.4" width="4.4" height="3.1" fill="#f6e619"/>
<rect x="232.2" y="167.6" width="4.6" height="2.6" fill="#f6e619"/>
<rect x="233.4" y="168.8" width="3.3" height="3.4" fill="#f6e619"/>
<rect x="232.2" y="170.0" width="4.4" height="2.2" fill="#f6e619"/>
<rect x="232.3" y="171.2" width="3.5" height="3.3" fill="#f6e619"/>
<rect x="232.8" y="172.4" width="2.9" height="1.9" fill="#f6e619"/>
<rect x="233.4" y="173.6" width="2.9" height="2.3" fill="#f6e619"/>
<rect x="233.5" y="174.8" width="2.4" height="3.1" fill="#f6e619"/>
<rect x="233.4" y="176.0" width="2.4" height="1.7" fill="#f6e619"/>
<rect x="234.0" y="177.2" width="1.7" height="2.7" fill="#f6e619"/>
<rect x="233.4" y="178.4" width="1.7" height="3.2" fill="#f6e619"/>
<rect x="234.0" y="179.6" width="1.2" height="3.3" fill="#f6e619"/>
<rect x="234.2" y="180.8" width="1.1" height="2.8" fill="#f6e619"/>
<rect x="235.8" y="165.1" width="4.4" height="3.9" fill="#22399b"/>
<rect x="235.3" y="166.3" width="3.8" height="4.1" fill="#22399b"/>
<rect x="235.2" y="167.5" width="4.4" height="2.3" fill="#22399b"/>
<rect x="234.7" y="168.7" width="4.1" height="3.5" fill="#22399b"/>
<rect x="235.0" y="169.9" width="4.3" height="3.4" fill="#22399b"/>
<rect x="234.7" y="171.1" width="4.7" height="2.2" fill="#22399b"/>
<rect x="235.5" y="172.3" width="2.6" height="2.7" fill="#22399b"/>
<rect x="235.9" y="173.5" width="2.1" height="3.4" fill="#22399b"/>
<rect x="235.9" y="174.7" width="1.7" height="1.8" fill="#22399b"/>
<rect x="237.0" y="165.2" width="1.7" height="3.1" fill="#f6e619"/>
<rect x="236.1" y="166.4" width="2.1" height="2.0" fill="#f6e619"/>
<rect x="236.1" y="167.6" width="1.8" height="1.7" fill="#f6e619"/>
<rect x="236.3" y="168.8" width="2.0" height="2.7" fill="#f6e619"/>
<rect x="236.5" y="170.0" width="1.6" height="2.9" fill="#f6e619"/>
<rect x="236.4" y="171.2" width="1.3" height="2.7" fill="#f6e619"/>
<rect x="236.7" y="172.4" width="1.0" height="2.6" fill="#f6e619"/>
<rect x="236.5" y="173.6" width="0.9" height="2.6" fill="#f6e619"/>
<rect x="236.4" y="174.8" width="0.6" height="2.9" fill="#f6e619"/>
<rect x="212.5" y="174.1" width="3.7" height="4.1" fill="#22399b"/>
<rect x="211.7" y="175.3" width="5.1" height="2.1" fill="#22399b"/>
<rect x="211.5" y="176.5" width="4.9" height="4.0" fill="#22399b"/>
<rect x="211.4" y="177.7" width="5.9" height="3.6" fill="#22399b"/>
<rect x="212.0" y="178.9" width="4.3" height="3.1" fill="#22399b"/>
<rect x="211.9" y="180.1" width="4.9" height="3.9" fill="#22399b"/>
<rect x="212.3" y="181.3" width="4.6" height="4.2" fill="#22399b"/>
<rect x="212.7" y="182.5" width="4.2" height="3.5" fill="#22399b"/>
<rect x="213.8" y="174.2" width="1.4" height="1.8" fill="#f6e619"/>
<rect x="213.7" y="175.4" width="1.6" height="2.4" fill="#f6e619"/>
<rect x="213.3" y="176.6" width="1.5" height="2.1" fill="#f6e619"/>
<rect x="213.3" y="177.8" width="1.9" height="2.1" fill="#f6e619"/>
<rect x="213.1" y="179.0" width="1.8" height="1.8" fill="#f6e619"/>
<rect x="213.5" y="180.2" width="1.8" height="1.8" fill="#f6e619"/>
<rect x="213.7" y="181.4" width="1.8" height="2.5" fill="#f6e619"/>
<rect x="214.4" y="182.6" width="0.6" height="3.0" fill="#f6e619"/>
<rect x="227.8" y="182.6" width="2.2" height="2.1" fill="#22399b"/>
<rect x="227.6" y="183.8" width="2.7" height="2.0" fill="#22399b"/>
<rect x="227.3" y="185.0" width="3.8" height="2.2" fill="#22399b"/>
<rect x="227.0" y="186.2" width="3.0" height="3.6" fill="#22399b"/>
<rect x="228.0" y="187.4" width="2.1" height="3.7" fill="#22399b"/>
<rect x="228.5" y="183.9" width="0.6" height="2.4" fill="#f6e619"/>
<rect x="228.2" y="185.1" width="1.2" height="2.6" fill="#f6e619"/>
<rect x="228.1" y="186.3" width="1.4" height="2.7" fill="#f6e619"/>
<rect x="228.6" y="187.5" width="0.8" height="2.5" fill="#f6e619"/>
<rect x="224.1" y="304.6" width="3.2" height="2.4" fill="#22399b"/>
<rect x="223.4" y="305.8" width="4.4" height="2.4" fill="#22399b"/>
<rect x="223.1" y="307.0" width="4.6" height="2.5" fill="#22399b"/>
<rect x="222.9" y="308.2" width="5.6" height="3.9" fill="#22399b"/>
<rect x="222.5" y="309.4" width="5.9" height="3.6" fill="#22399b"/>
<rect x="223.3" y="310.6" width="4.2" height="3.2" fill="#22399b"/>
<rect x="223.0" y="311.8" width="4.8" height="4.1" fill="#22399b"/>
<rect x="222.8" y="313.0" width="4.9" height="3.5" fill="#22399b"/>
<rect x="225.0" y="304.7" width="1.2" height="2.8" fill="#f6e619"/>
<rect x="224.7" y="305.9" width="1.2" height="3.0" fill="#f6e619"/>
<rect x="224.7" y="307.1" width="1.8" height="2.5" fill="#f6e619"/>
<rect x="224.0" y="308.3" width="2.7" height="3.0" fill="#f6e619"/>
<rect x="224.2" y="309.5" width="2.2" height="3.2" fill="#f6e619"/>
<rect x="224.5" y="310.7" width="2.1" height="2.5" fill="#f6e619"/>
<rect x="224.5" y="311.9" width="1.5" height="2.2" fill="#f6e619"/>
<rect x="224.7" y="313.1" width="1.0" height="2.3" fill="#f6e619"/>
<rect x="230.5" y="313.6" width="3.8" height="3.8" fill="#22399b"/>
<rect x="230.5" y="314.8" width="3.7" height="3.2" fill="#22399b"/>
<rect x="230.4" y="316.0" width="4.1" height="3.8" fill="#22399b"/>
<rect x="229.4" y="317.2" width="4.6" height="3.1" fill="#22399b"/>
<rect x="231.1" y="318.4" width="3.9" height="3.3" fill="#22399b"/>
<rect x="229.8" y="319.6" width="4.4" height="2.4" fill="#22399b"/>
<rect x="230.8" y="320.8" width="4.9" height="3.4" fill="#22399b"/>
<rect x="230.5" y="322.0" width="4.8" height="2.9" fill="#22399b"/>
<rect x="230.0" y="323.2" width="5.5" height="3.6" fill="#22399b"/>
<rect x="230.7" y="324.4" width="3.8" height="2.8" fill="#22399b"/>
<rect x="230.3" y="325.6" width="4.7" height="2.2" fill="#22399b"/>
<rect x="230.2" y="326.8" width="5.9" height="3.3" fill="#22399b"/>
<rect x="230.0" y="328.0" width="4.2" height="4.1" fill="#22399b"/>
<rect x="230.3" y="329.2" width="4.3" height="3.6" fill="#22399b"/>
<rect x="232.1" y="313.7" width="1.1" height="3.2" fill="#f6e619"/>
<rect x="231.5" y="314.9" width="1.2" height="1.8" fill="#f6e619"/>
<rect x="231.2" y="316.1" width="1.5" height="1.7" fill="#f6e619"/>
<rect x="231.3" y="317.3" width="1.8" height="2.0" fill="#f6e619"/>
<rect x="232.0" y="318.5" width="1.2" height="3.4" fill="#f6e619"/>
<rect x="231.7" y="319.7" width="1.6" height="2.5" fill="#f6e619"/>
<rect x="231.6" y="320.9" width="2.1" height="1.8" fill="#f6e619"/>
<rect x="231.4" y="322.1" width="2.2" height="2.8" fill="#f6e619"/>
<rect x="231.2" y="323.3" width="2.4" height="2.5" fill="#f6e619"/>
<rect x="232.1" y="324.5" width="1.3" height="1.8" fill="#f6e619"/>
<rect x="231.6" y="325.7" width="2.5" height="1.7" fill="#f6e619"/>
<rect x="231.7" y="326.9" width="2.3" height="2.3" fill="#f6e619"/>
<rect x="231.3" y="328.1" width="2.2" height="3.3" fill="#f6e619"/>
<rect x="231.5" y="329.3" width="2.0" height="2.4" fill="#f6e619"/>
<rect x="234.5" y="322.6" width="3.0" height="3.6" fill="#22399b"/>
<rect x="233.9" y="323.8" width="5.0" height="3.5" fill="#22399b"/>
<rect x="234.8" y="325.0" width="3.5" height="2.2" fill="#22399b"/>
<rect x="235.1" y="326.2" width="4.1" height="2.8" fill="#22399b"/>
<rect x="235.0" y="327.4" width="3.4" height="4.3" fill="#22399b"/>
<rect x="234.0" y="328.6" width="4.1" height="3.8" fill="#22399b"/>
<rect x="234.6" y="329.8" width="4.0" height="3.8" fill="#22399b"/>
<rect x="235.9" y="322.7" width="0.9" height="2.8" fill="#f6e619"/>
<rect x="235.8" y="323.9" width="1.4" height="1.7" fill="#f6e619"/>
<rect x="235.9" y="325.1" width="1.3" height="2.4" fill="#f6e619"/>
<rect x="235.6" y="326.3" width="1.7" height="2.7" fill="#f6e619"/>
<rect x="236.1" y="327.5" width="1.2" height="2.8" fill="#f6e619"/>
<rect x="235.8" y="328.7" width="0.8" height="3.3" fill="#f6e619"/>
<rect x="235.9" y="329.9" width="1.3" height="3.0" fill="#f6e619"/>
</g>
<text x="203.60" y="175.40" font-size="7.2" font-weight="bold" fill="#fff">(006)<tspan dy="1.8" font-size="4.4">O3</tspan></text>
<text x="211.80" y="326.80" font-size="7.2" font-weight="bold" fill="#fff">(006)<tspan dy="1.8" font-size="4.4">O3</tspan></text>
<rect x="184.1" y="165.8" width="58.30000000000001" height="164.39999999999998" fill="none" stroke="#3a3a48" stroke-width="0.9"/>
<line x1="187.30" y1="330.20" x2="187.30" y2="332.00" stroke="#333" stroke-width="0.8" />
<line x1="206.50" y1="330.20" x2="206.50" y2="332.00" stroke="#333" stroke-width="0.8" />
<line x1="225.80" y1="330.20" x2="225.80" y2="332.00" stroke="#333" stroke-width="0.8" />
<text x="206.90" y="341.20" font-size="8.6" text-anchor="middle" fill="#231f20" font-weight="normal" transform="translate(206.90,0) scale(0.93,1) translate(-206.90,0)"  >32</text>
<text x="242.00" y="341.20" font-size="8.6" text-anchor="middle" fill="#231f20" font-weight="normal" transform="translate(242.00,0) scale(0.93,1) translate(-242.00,0)"  >33</text>
<defs><linearGradient id="cb193" x1="0" x2="1" y1="0" y2="0"><stop offset="0" stop-color="#f8ea10"/><stop offset="0.22" stop-color="#f6ea30"/><stop offset="0.32" stop-color="#d8c870"/><stop offset="0.42" stop-color="#6a6050"/><stop offset="0.52" stop-color="#383850"/><stop offset="0.62" stop-color="#2a3070"/><stop offset="0.72" stop-color="#2238a0"/><stop offset="0.85" stop-color="#2c44a8"/><stop offset="0.93" stop-color="#4a5aa0"/><stop offset="1" stop-color="#5a6098"/></linearGradient></defs>
<rect x="193.1" y="157.4" width="35.30000000000001" height="6.099999999999994" fill="url(#cb193)" stroke="#777" stroke-width="0.5"/>
<text x="192.30" y="163.61" font-size="7.4" text-anchor="end" fill="#333" font-weight="normal"  >0.45</text>
<text x="229.20" y="163.61" font-size="7.4" text-anchor="start" fill="#333" font-weight="normal"  >0.38</text>
<rect x="250.6" y="165.8" width="88.00000000000003" height="164.39999999999998" fill="#686887"/>
<clipPath id="c3"><rect x="250.6" y="165.8" width="88.00000000000003" height="164.39999999999998"/></clipPath><g clip-path="url(#c3)">
<path d="M260.30,163.00 C260.38,165.83 260.60,175.50 260.80,180.00 C261.00,184.50 261.27,187.50 261.50,190.00 C261.73,192.50 261.95,193.67 262.20,195.00 C262.45,196.33 262.77,197.50 263.00,198.00 C263.23,198.50 263.37,198.50 263.60,198.00 C263.83,197.50 264.17,196.33 264.40,195.00 C264.63,193.67 264.73,192.50 265.00,190.00 C265.27,187.50 265.75,184.50 266.00,180.00 C266.25,175.50 266.42,165.83 266.50,163.00 Z" fill="#22399b"/>
<path d="M261.10,163.00 C261.22,165.00 261.58,171.67 261.80,175.00 C262.02,178.33 262.18,180.53 262.40,183.00 C262.62,185.47 262.92,188.67 263.10,189.80 C263.28,190.93 263.28,190.93 263.50,189.80 C263.72,188.67 264.15,185.47 264.40,183.00 C264.65,180.53 264.82,178.33 265.00,175.00 C265.18,171.67 265.42,165.00 265.50,163.00 Z" fill="#f6e619"/>
<path d="M262.80,292.50 C262.53,293.25 261.67,294.92 261.20,297.00 C260.73,299.08 260.27,299.00 260.00,305.00 C259.73,311.00 258.50,328.33 259.60,333.00 C260.70,337.67 265.53,337.67 266.60,333.00 C267.67,328.33 266.27,311.00 266.00,305.00 C265.73,299.00 265.40,299.08 265.00,297.00 C264.60,294.92 263.83,293.25 263.60,292.50 Z" fill="#22399b"/>
<path d="M262.80,301.50 C262.53,302.92 261.53,306.92 261.20,310.00 C260.87,313.08 260.88,316.17 260.80,320.00 C260.72,323.83 259.93,330.83 260.70,333.00 C261.47,335.17 264.65,335.17 265.40,333.00 C266.15,330.83 265.33,323.83 265.20,320.00 C265.07,316.17 264.90,313.08 264.60,310.00 C264.30,306.92 263.60,302.92 263.40,301.50 Z" fill="#f6e619"/>
<path d="M319.00,163.00 C318.93,164.50 318.83,169.17 318.60,172.00 C318.37,174.83 317.90,177.67 317.60,180.00 C317.30,182.33 317.00,182.67 316.80,186.00 C316.60,189.33 316.50,192.67 316.40,200.00 C316.30,207.33 316.27,218.33 316.20,230.00 C316.13,241.67 316.00,258.33 316.00,270.00 C316.00,281.67 316.00,293.33 316.20,300.00 C316.40,306.67 316.77,307.17 317.20,310.00 C317.63,312.83 318.20,315.83 318.80,317.00 C319.40,318.17 320.13,318.17 320.80,317.00 C321.47,315.83 322.23,312.83 322.80,310.00 C323.37,307.17 323.83,306.67 324.20,300.00 C324.57,293.33 324.80,281.67 325.00,270.00 C325.20,258.33 325.47,241.67 325.40,230.00 C325.33,218.33 324.93,207.33 324.60,200.00 C324.27,192.67 323.80,189.33 323.40,186.00 C323.00,182.67 322.57,182.33 322.20,180.00 C321.83,177.67 321.47,174.83 321.20,172.00 C320.93,169.17 320.70,164.50 320.60,163.00 Z" fill="#22399b"/>
<path d="M319.60,185.00 C319.37,186.17 318.43,189.50 318.20,192.00 C317.97,194.50 318.20,193.67 318.20,200.00 C318.20,206.33 318.23,221.67 318.20,230.00 C318.17,238.33 318.07,243.33 318.00,250.00 C317.93,256.67 317.85,263.33 317.80,270.00 C317.75,276.67 317.63,285.00 317.70,290.00 C317.77,295.00 317.90,297.42 318.20,300.00 C318.50,302.58 319.13,304.58 319.50,305.50 C319.87,306.42 320.05,306.42 320.40,305.50 C320.75,304.58 321.23,302.58 321.60,300.00 C321.97,297.42 322.37,295.00 322.60,290.00 C322.83,285.00 322.87,276.67 323.00,270.00 C323.13,263.33 323.30,256.67 323.40,250.00 C323.50,243.33 323.67,238.33 323.60,230.00 C323.53,221.67 323.23,206.33 323.00,200.00 C322.77,193.67 322.60,194.50 322.20,192.00 C321.80,189.50 320.87,186.17 320.60,185.00 Z" fill="#f6e619"/>
</g>
<text x="266.10" y="177.40" font-size="7.2" font-weight="bold" fill="#fff">(104)<tspan dy="1.8" font-size="4.4">O3</tspan></text>
<text x="294.00" y="246.10" font-size="7.2" font-weight="bold" fill="#fff">(105)<tspan dy="1.8" font-size="4.4">P3</tspan></text>
<text x="268.60" y="324.80" font-size="7.2" font-weight="bold" fill="#fff">(104)<tspan dy="1.8" font-size="4.4">O3</tspan></text>
<rect x="250.6" y="165.8" width="88.00000000000003" height="164.39999999999998" fill="none" stroke="#3a3a48" stroke-width="0.9"/>
<line x1="251.00" y1="330.20" x2="251.00" y2="332.00" stroke="#333" stroke-width="0.8" />
<line x1="268.80" y1="330.20" x2="268.80" y2="332.00" stroke="#333" stroke-width="0.8" />
<line x1="286.20" y1="330.20" x2="286.20" y2="332.00" stroke="#333" stroke-width="0.8" />
<line x1="303.60" y1="330.20" x2="303.60" y2="332.00" stroke="#333" stroke-width="0.8" />
<line x1="321.00" y1="330.20" x2="321.00" y2="332.00" stroke="#333" stroke-width="0.8" />
<line x1="338.00" y1="330.20" x2="338.00" y2="332.00" stroke="#333" stroke-width="0.8" />
<text x="268.80" y="341.20" font-size="8.6" text-anchor="middle" fill="#231f20" font-weight="normal" transform="translate(268.80,0) scale(0.93,1) translate(-268.80,0)"  >42</text>
<text x="303.60" y="341.20" font-size="8.6" text-anchor="middle" fill="#231f20" font-weight="normal" transform="translate(303.60,0) scale(0.93,1) translate(-303.60,0)"  >44</text>
<text x="337.40" y="341.20" font-size="8.6" text-anchor="middle" fill="#231f20" font-weight="normal" transform="translate(337.40,0) scale(0.93,1) translate(-337.40,0)"  >46</text>
<defs><linearGradient id="cb292" x1="0" x2="1" y1="0" y2="0"><stop offset="0" stop-color="#f8ea10"/><stop offset="0.22" stop-color="#f6ea30"/><stop offset="0.32" stop-color="#d8c870"/><stop offset="0.42" stop-color="#6a6050"/><stop offset="0.52" stop-color="#383850"/><stop offset="0.62" stop-color="#2a3070"/><stop offset="0.72" stop-color="#2238a0"/><stop offset="0.85" stop-color="#2c44a8"/><stop offset="0.93" stop-color="#4a5aa0"/><stop offset="1" stop-color="#5a6098"/></linearGradient></defs>
<rect x="292.7" y="157.4" width="34.80000000000001" height="6.099999999999994" fill="url(#cb292)" stroke="#777" stroke-width="0.5"/>
<text x="291.90" y="163.61" font-size="7.4" text-anchor="end" fill="#333" font-weight="normal"  >3.0</text>
<text x="328.30" y="163.61" font-size="7.4" text-anchor="start" fill="#333" font-weight="normal"  >1.5</text>
<text x="257.70" y="155.65" font-size="9.3" text-anchor="middle" fill="#231f20" font-weight="normal"  >Intensity (arb. units)</text>
<rect x="347.5" y="165.8" width="88.0" height="164.39999999999998" fill="#686887"/>
<clipPath id="c4"><rect x="347.5" y="165.8" width="88.0" height="164.39999999999998"/></clipPath><g clip-path="url(#c4)">
<ellipse cx="364.0" cy="279.1" rx="0.64" ry="7.1" fill="#46508c" opacity="0.79"/>
<ellipse cx="390.3" cy="324.0" rx="0.75" ry="3.4" fill="#22399b" opacity="0.30"/>
<ellipse cx="381.5" cy="262.0" rx="0.57" ry="6.5" fill="#22399b" opacity="0.76"/>
<ellipse cx="409.0" cy="237.6" rx="0.89" ry="4.4" fill="#46508c" opacity="0.52"/>
<ellipse cx="431.3" cy="254.6" rx="0.56" ry="7.7" fill="#46508c" opacity="0.48"/>
<ellipse cx="363.2" cy="300.1" rx="0.90" ry="2.1" fill="#22399b" opacity="0.38"/>
<ellipse cx="411.9" cy="231.8" rx="0.59" ry="2.2" fill="#22399b" opacity="0.73"/>
<ellipse cx="370.0" cy="294.0" rx="0.84" ry="6.8" fill="#22399b" opacity="0.63"/>
<ellipse cx="430.7" cy="313.2" rx="0.54" ry="5.4" fill="#46508c" opacity="0.58"/>
<ellipse cx="383.0" cy="222.0" rx="0.94" ry="4.5" fill="#22399b" opacity="0.48"/>
<ellipse cx="388.4" cy="229.3" rx="0.69" ry="2.2" fill="#34438f" opacity="0.35"/>
<ellipse cx="411.0" cy="328.8" rx="0.50" ry="2.4" fill="#34438f" opacity="0.60"/>
<ellipse cx="394.4" cy="259.7" rx="0.78" ry="5.7" fill="#34438f" opacity="0.39"/>
<ellipse cx="364.5" cy="223.1" rx="0.67" ry="5.6" fill="#34438f" opacity="0.45"/>
<ellipse cx="358.8" cy="176.8" rx="0.89" ry="4.2" fill="#22399b" opacity="0.64"/>
<ellipse cx="407.5" cy="313.4" rx="0.70" ry="7.9" fill="#22399b" opacity="0.78"/>
<ellipse cx="400.2" cy="310.8" rx="0.75" ry="6.0" fill="#34438f" opacity="0.77"/>
<ellipse cx="370.9" cy="258.1" rx="0.90" ry="6.6" fill="#34438f" opacity="0.54"/>
<ellipse cx="421.1" cy="174.6" rx="0.83" ry="2.2" fill="#34438f" opacity="0.42"/>
<ellipse cx="383.5" cy="308.7" rx="0.95" ry="7.9" fill="#46508c" opacity="0.67"/>
<ellipse cx="390.7" cy="207.4" rx="0.76" ry="6.4" fill="#46508c" opacity="0.31"/>
<ellipse cx="368.0" cy="303.5" rx="0.94" ry="5.6" fill="#22399b" opacity="0.51"/>
<ellipse cx="399.4" cy="305.3" rx="0.57" ry="5.5" fill="#34438f" opacity="0.37"/>
<ellipse cx="411.3" cy="228.7" rx="0.98" ry="2.1" fill="#22399b" opacity="0.60"/>
<ellipse cx="404.7" cy="305.7" rx="0.71" ry="6.1" fill="#46508c" opacity="0.68"/>
<ellipse cx="419.0" cy="188.7" rx="0.55" ry="2.6" fill="#22399b" opacity="0.31"/>
<ellipse cx="388.0" cy="189.1" rx="0.83" ry="2.8" fill="#22399b" opacity="0.57"/>
<ellipse cx="377.6" cy="247.0" rx="0.81" ry="3.1" fill="#22399b" opacity="0.73"/>
<ellipse cx="367.1" cy="288.0" rx="0.80" ry="5.0" fill="#22399b" opacity="0.67"/>
<ellipse cx="354.8" cy="318.4" rx="0.73" ry="2.4" fill="#34438f" opacity="0.68"/>
<ellipse cx="364.9" cy="282.7" rx="0.98" ry="5.6" fill="#34438f" opacity="0.67"/>
<ellipse cx="370.8" cy="191.6" rx="0.95" ry="3.8" fill="#46508c" opacity="0.55"/>
<ellipse cx="396.7" cy="321.5" rx="0.77" ry="2.4" fill="#22399b" opacity="0.60"/>
<ellipse cx="377.5" cy="250.8" rx="0.85" ry="5.2" fill="#34438f" opacity="0.58"/>
<ellipse cx="355.4" cy="299.6" rx="0.68" ry="3.9" fill="#22399b" opacity="0.80"/>
<ellipse cx="359.1" cy="178.5" rx="0.81" ry="6.8" fill="#22399b" opacity="0.79"/>
<ellipse cx="392.9" cy="321.3" rx="0.82" ry="4.7" fill="#46508c" opacity="0.56"/>
<ellipse cx="383.1" cy="231.8" rx="0.51" ry="6.0" fill="#22399b" opacity="0.32"/>
<ellipse cx="373.4" cy="262.7" rx="0.86" ry="4.7" fill="#34438f" opacity="0.42"/>
<ellipse cx="382.8" cy="245.8" rx="0.96" ry="5.9" fill="#46508c" opacity="0.32"/>
<ellipse cx="364.7" cy="227.2" rx="0.95" ry="6.7" fill="#46508c" opacity="0.61"/>
<ellipse cx="414.5" cy="275.6" rx="0.85" ry="6.1" fill="#46508c" opacity="0.42"/>
<ellipse cx="427.9" cy="229.3" rx="0.69" ry="5.1" fill="#46508c" opacity="0.66"/>
<ellipse cx="427.3" cy="192.5" rx="0.66" ry="4.3" fill="#22399b" opacity="0.37"/>
<ellipse cx="397.0" cy="179.0" rx="0.81" ry="4.3" fill="#34438f" opacity="0.67"/>
<ellipse cx="433.6" cy="328.5" rx="0.85" ry="3.2" fill="#22399b" opacity="0.47"/>
<ellipse cx="404.5" cy="277.8" rx="0.54" ry="2.2" fill="#34438f" opacity="0.56"/>
<ellipse cx="430.3" cy="324.6" rx="0.75" ry="3.4" fill="#46508c" opacity="0.64"/>
<ellipse cx="410.9" cy="191.8" rx="0.73" ry="4.6" fill="#34438f" opacity="0.61"/>
<ellipse cx="373.9" cy="194.6" rx="0.81" ry="2.6" fill="#34438f" opacity="0.79"/>
<ellipse cx="368.3" cy="223.5" rx="0.97" ry="6.2" fill="#46508c" opacity="0.31"/>
<ellipse cx="392.6" cy="172.4" rx="0.72" ry="4.7" fill="#46508c" opacity="0.80"/>
<ellipse cx="430.0" cy="190.3" rx="0.60" ry="4.2" fill="#34438f" opacity="0.30"/>
<ellipse cx="364.1" cy="259.6" rx="0.76" ry="2.3" fill="#34438f" opacity="0.39"/>
<ellipse cx="384.3" cy="256.5" rx="0.79" ry="6.9" fill="#22399b" opacity="0.59"/>
<ellipse cx="433.3" cy="184.8" rx="0.99" ry="5.1" fill="#22399b" opacity="0.85"/>
<ellipse cx="424.6" cy="283.7" rx="0.69" ry="8.7" fill="#22399b" opacity="0.66"/>
<ellipse cx="419.0" cy="290.9" rx="1.09" ry="5.0" fill="#46508c" opacity="0.94"/>
<ellipse cx="418.1" cy="168.9" rx="0.75" ry="3.3" fill="#34438f" opacity="0.92"/>
<ellipse cx="418.3" cy="291.7" rx="0.55" ry="4.3" fill="#46508c" opacity="0.67"/>
<ellipse cx="402.4" cy="218.7" rx="0.91" ry="4.0" fill="#46508c" opacity="0.64"/>
<ellipse cx="422.7" cy="223.9" rx="0.93" ry="2.2" fill="#34438f" opacity="0.96"/>
<ellipse cx="415.3" cy="235.3" rx="0.82" ry="8.5" fill="#34438f" opacity="0.59"/>
<ellipse cx="417.5" cy="219.2" rx="0.74" ry="6.2" fill="#22399b" opacity="0.77"/>
<ellipse cx="412.3" cy="256.2" rx="0.84" ry="2.6" fill="#46508c" opacity="0.72"/>
<ellipse cx="398.9" cy="270.7" rx="1.24" ry="8.7" fill="#22399b" opacity="0.76"/>
<ellipse cx="411.0" cy="178.9" rx="0.64" ry="5.8" fill="#22399b" opacity="0.67"/>
<ellipse cx="408.1" cy="213.9" rx="0.85" ry="2.4" fill="#22399b" opacity="0.57"/>
<ellipse cx="426.2" cy="265.0" rx="1.05" ry="2.4" fill="#46508c" opacity="0.71"/>
<ellipse cx="428.1" cy="289.4" rx="0.53" ry="2.8" fill="#34438f" opacity="0.85"/>
<ellipse cx="400.4" cy="204.1" rx="1.09" ry="5.3" fill="#46508c" opacity="0.86"/>
<ellipse cx="420.7" cy="213.4" rx="1.16" ry="6.3" fill="#22399b" opacity="0.97"/>
<ellipse cx="395.7" cy="233.0" rx="0.55" ry="2.7" fill="#46508c" opacity="0.81"/>
<ellipse cx="418.9" cy="259.8" rx="0.53" ry="8.8" fill="#22399b" opacity="0.68"/>
<ellipse cx="399.7" cy="195.0" rx="0.89" ry="2.5" fill="#34438f" opacity="0.51"/>
<ellipse cx="425.1" cy="243.8" rx="0.67" ry="4.4" fill="#46508c" opacity="0.87"/>
<ellipse cx="432.0" cy="277.8" rx="0.69" ry="7.9" fill="#22399b" opacity="0.81"/>
<ellipse cx="403.2" cy="267.0" rx="0.81" ry="7.3" fill="#46508c" opacity="0.86"/>
<ellipse cx="413.6" cy="199.4" rx="0.59" ry="8.5" fill="#22399b" opacity="0.97"/>
<ellipse cx="417.6" cy="189.9" rx="0.76" ry="2.2" fill="#46508c" opacity="0.58"/>
<ellipse cx="406.2" cy="279.5" rx="0.52" ry="7.4" fill="#46508c" opacity="0.50"/>
<ellipse cx="420.3" cy="298.1" rx="0.69" ry="5.7" fill="#46508c" opacity="0.57"/>
<ellipse cx="408.7" cy="281.8" rx="0.51" ry="4.7" fill="#46508c" opacity="0.82"/>
<ellipse cx="402.0" cy="273.6" rx="0.94" ry="4.5" fill="#46508c" opacity="0.92"/>
<ellipse cx="415.5" cy="191.2" rx="0.92" ry="4.4" fill="#34438f" opacity="0.90"/>
<ellipse cx="414.8" cy="233.0" rx="1.28" ry="3.3" fill="#22399b" opacity="0.70"/>
<ellipse cx="430.0" cy="268.1" rx="1.03" ry="5.7" fill="#34438f" opacity="0.85"/>
<ellipse cx="398.4" cy="289.4" rx="0.69" ry="5.6" fill="#34438f" opacity="0.98"/>
<ellipse cx="401.1" cy="240.7" rx="0.50" ry="4.2" fill="#46508c" opacity="0.88"/>
<ellipse cx="399.5" cy="233.9" rx="1.15" ry="7.8" fill="#22399b" opacity="0.55"/>
<ellipse cx="397.7" cy="189.9" rx="0.74" ry="4.2" fill="#46508c" opacity="0.96"/>
<ellipse cx="418.0" cy="236.4" rx="0.77" ry="8.8" fill="#46508c" opacity="0.97"/>
<ellipse cx="424.1" cy="286.8" rx="1.02" ry="4.2" fill="#46508c" opacity="0.64"/>
<ellipse cx="404.5" cy="173.7" rx="0.74" ry="2.2" fill="#34438f" opacity="0.66"/>
<ellipse cx="399.1" cy="225.7" rx="1.24" ry="3.1" fill="#34438f" opacity="0.64"/>
<ellipse cx="410.8" cy="184.7" rx="0.75" ry="5.8" fill="#34438f" opacity="0.94"/>
<ellipse cx="433.4" cy="216.2" rx="0.87" ry="4.0" fill="#22399b" opacity="0.77"/>
<ellipse cx="398.7" cy="276.2" rx="0.94" ry="5.1" fill="#34438f" opacity="0.63"/>
<ellipse cx="404.8" cy="186.5" rx="0.88" ry="7.6" fill="#46508c" opacity="0.75"/>
<ellipse cx="397.8" cy="211.5" rx="0.61" ry="6.7" fill="#34438f" opacity="0.95"/>
<ellipse cx="373.3" cy="303.1" rx="0.51" ry="3.8" fill="#22399b" opacity="0.69"/>
<ellipse cx="360.2" cy="273.0" rx="0.86" ry="3.3" fill="#34438f" opacity="0.73"/>
<ellipse cx="352.6" cy="186.6" rx="0.90" ry="2.1" fill="#46508c" opacity="0.81"/>
<ellipse cx="361.9" cy="279.1" rx="1.13" ry="5.5" fill="#22399b" opacity="0.83"/>
<ellipse cx="366.3" cy="306.0" rx="0.95" ry="7.2" fill="#34438f" opacity="0.98"/>
<ellipse cx="358.5" cy="306.6" rx="0.57" ry="4.8" fill="#46508c" opacity="0.86"/>
<ellipse cx="365.6" cy="235.4" rx="0.63" ry="6.8" fill="#46508c" opacity="0.77"/>
<ellipse cx="367.5" cy="245.2" rx="0.59" ry="2.6" fill="#46508c" opacity="0.52"/>
<ellipse cx="358.3" cy="252.3" rx="0.76" ry="4.2" fill="#46508c" opacity="0.64"/>
<ellipse cx="359.0" cy="280.0" rx="0.67" ry="2.9" fill="#46508c" opacity="0.81"/>
<ellipse cx="354.7" cy="282.3" rx="0.69" ry="5.3" fill="#34438f" opacity="0.96"/>
<ellipse cx="365.6" cy="302.6" rx="0.86" ry="2.2" fill="#22399b" opacity="0.82"/>
<ellipse cx="361.0" cy="196.9" rx="1.05" ry="7.8" fill="#22399b" opacity="0.90"/>
<ellipse cx="373.8" cy="247.7" rx="1.10" ry="4.1" fill="#34438f" opacity="0.99"/>
<ellipse cx="360.7" cy="201.1" rx="0.71" ry="5.3" fill="#22399b" opacity="0.88"/>
<ellipse cx="362.6" cy="214.9" rx="0.58" ry="5.2" fill="#22399b" opacity="0.58"/>
<ellipse cx="364.5" cy="284.7" rx="0.58" ry="3.0" fill="#34438f" opacity="0.51"/>
<ellipse cx="369.5" cy="263.6" rx="1.15" ry="7.4" fill="#34438f" opacity="0.84"/>
<ellipse cx="361.5" cy="268.6" rx="1.10" ry="5.3" fill="#46508c" opacity="0.71"/>
<ellipse cx="358.9" cy="291.2" rx="0.94" ry="7.0" fill="#46508c" opacity="0.55"/>
<ellipse cx="366.5" cy="219.9" rx="1.08" ry="4.6" fill="#46508c" opacity="0.58"/>
<ellipse cx="367.2" cy="220.6" rx="0.93" ry="3.4" fill="#46508c" opacity="0.78"/>
<ellipse cx="362.8" cy="235.7" rx="0.72" ry="4.0" fill="#46508c" opacity="0.51"/>
<ellipse cx="374.0" cy="276.1" rx="0.66" ry="6.1" fill="#34438f" opacity="0.59"/>
<ellipse cx="362.3" cy="232.0" rx="0.84" ry="3.7" fill="#22399b" opacity="0.80"/>
<rect x="372.4" y="165.1" width="7.6" height="2.6" fill="#22399b"/>
<rect x="373.1" y="166.3" width="8.2" height="1.9" fill="#22399b"/>
<rect x="374.6" y="167.5" width="7.3" height="3.9" fill="#22399b"/>
<rect x="373.5" y="168.7" width="7.4" height="2.6" fill="#22399b"/>
<rect x="373.7" y="169.9" width="6.9" height="3.3" fill="#22399b"/>
<rect x="374.5" y="171.1" width="5.6" height="3.7" fill="#22399b"/>
<rect x="374.0" y="172.3" width="7.1" height="3.5" fill="#22399b"/>
<rect x="374.0" y="173.5" width="6.8" height="2.4" fill="#22399b"/>
<rect x="373.3" y="174.7" width="5.9" height="4.1" fill="#22399b"/>
<rect x="374.3" y="175.9" width="6.5" height="3.2" fill="#22399b"/>
<rect x="375.1" y="177.1" width="5.3" height="2.7" fill="#22399b"/>
<rect x="373.8" y="178.3" width="6.2" height="3.8" fill="#22399b"/>
<rect x="374.8" y="179.5" width="5.1" height="2.0" fill="#22399b"/>
<rect x="373.9" y="180.7" width="6.2" height="2.1" fill="#22399b"/>
<rect x="375.2" y="181.9" width="4.3" height="3.6" fill="#22399b"/>
<rect x="375.3" y="183.1" width="5.6" height="1.8" fill="#22399b"/>
<rect x="374.3" y="184.3" width="5.8" height="2.7" fill="#22399b"/>
<rect x="375.7" y="185.5" width="3.1" height="3.6" fill="#22399b"/>
<rect x="374.6" y="186.7" width="4.9" height="2.0" fill="#22399b"/>
<rect x="375.6" y="187.9" width="3.7" height="2.1" fill="#22399b"/>
<rect x="374.8" y="189.1" width="3.6" height="2.4" fill="#22399b"/>
<rect x="375.2" y="190.3" width="4.8" height="1.8" fill="#22399b"/>
<rect x="375.1" y="191.5" width="4.1" height="2.3" fill="#22399b"/>
<rect x="374.5" y="192.7" width="3.3" height="2.3" fill="#22399b"/>
<rect x="375.2" y="193.9" width="4.4" height="2.5" fill="#22399b"/>
<rect x="374.9" y="195.1" width="4.0" height="3.5" fill="#22399b"/>
<rect x="375.9" y="196.3" width="2.5" height="3.1" fill="#22399b"/>
<ellipse cx="383.4" cy="177.5" rx="0.93" ry="4.9" fill="#22399b" opacity="0.69"/>
<ellipse cx="382.9" cy="167.3" rx="0.54" ry="4.5" fill="#22399b" opacity="0.82"/>
<ellipse cx="371.2" cy="197.1" rx="0.92" ry="2.7" fill="#22399b" opacity="0.60"/>
<ellipse cx="380.2" cy="187.6" rx="0.81" ry="6.5" fill="#22399b" opacity="0.96"/>
<ellipse cx="372.5" cy="195.1" rx="0.83" ry="5.2" fill="#22399b" opacity="0.98"/>
<ellipse cx="382.8" cy="175.3" rx="0.81" ry="5.2" fill="#22399b" opacity="0.97"/>
<rect x="374.4" y="165.2" width="4.7" height="2.1" fill="#f6e619"/>
<rect x="375.1" y="166.4" width="4.7" height="2.8" fill="#f6e619"/>
<rect x="375.4" y="167.6" width="4.3" height="3.1" fill="#f6e619"/>
<rect x="375.7" y="168.8" width="3.9" height="2.9" fill="#f6e619"/>
<rect x="375.4" y="170.0" width="4.3" height="2.3" fill="#f6e619"/>
<rect x="375.5" y="171.2" width="3.5" height="2.4" fill="#f6e619"/>
<rect x="375.2" y="172.4" width="3.8" height="1.7" fill="#f6e619"/>
<rect x="375.7" y="173.6" width="3.5" height="2.4" fill="#f6e619"/>
<rect x="375.5" y="174.8" width="2.9" height="1.9" fill="#f6e619"/>
<rect x="375.9" y="176.0" width="3.3" height="3.2" fill="#f6e619"/>
<rect x="376.4" y="177.2" width="2.9" height="3.2" fill="#f6e619"/>
<rect x="375.4" y="178.4" width="3.3" height="2.7" fill="#f6e619"/>
<rect x="376.5" y="179.6" width="2.5" height="3.3" fill="#f6e619"/>
<rect x="375.9" y="180.8" width="2.6" height="2.4" fill="#f6e619"/>
<rect x="376.8" y="182.0" width="1.1" height="1.7" fill="#f6e619"/>
<rect x="376.7" y="183.2" width="2.0" height="2.1" fill="#f6e619"/>
<rect x="376.3" y="184.4" width="2.0" height="2.2" fill="#f6e619"/>
<rect x="376.6" y="185.6" width="1.2" height="2.3" fill="#f6e619"/>
<rect x="376.4" y="186.8" width="1.6" height="2.2" fill="#f6e619"/>
<rect x="376.6" y="188.0" width="1.3" height="1.9" fill="#f6e619"/>
<rect x="376.0" y="189.2" width="1.6" height="2.3" fill="#f6e619"/>
<rect x="376.7" y="190.4" width="1.3" height="2.8" fill="#f6e619"/>
<rect x="376.3" y="191.6" width="1.7" height="2.7" fill="#f6e619"/>
<rect x="375.9" y="192.8" width="1.1" height="3.3" fill="#f6e619"/>
<rect x="376.4" y="194.0" width="1.2" height="1.9" fill="#f6e619"/>
<rect x="376.6" y="195.2" width="0.4" height="2.0" fill="#f6e619"/>
<rect x="366.2" y="184.1" width="4.1" height="2.1" fill="#22399b"/>
<rect x="364.0" y="185.3" width="5.7" height="3.1" fill="#22399b"/>
<rect x="364.2" y="186.5" width="4.8" height="2.4" fill="#22399b"/>
<rect x="364.0" y="187.7" width="6.9" height="2.5" fill="#22399b"/>
<rect x="364.4" y="188.9" width="6.3" height="3.3" fill="#22399b"/>
<rect x="364.0" y="190.1" width="7.7" height="1.8" fill="#22399b"/>
<rect x="363.2" y="191.3" width="9.1" height="2.4" fill="#22399b"/>
<rect x="362.2" y="192.5" width="8.6" height="2.2" fill="#22399b"/>
<rect x="363.1" y="193.7" width="8.0" height="2.2" fill="#22399b"/>
<rect x="362.5" y="194.9" width="9.0" height="3.4" fill="#22399b"/>
<rect x="363.0" y="196.1" width="9.0" height="4.3" fill="#22399b"/>
<rect x="362.8" y="197.3" width="8.2" height="2.1" fill="#22399b"/>
<rect x="361.7" y="198.5" width="9.0" height="3.3" fill="#22399b"/>
<rect x="362.0" y="199.7" width="9.2" height="3.3" fill="#22399b"/>
<rect x="362.0" y="200.9" width="9.2" height="2.5" fill="#22399b"/>
<rect x="363.8" y="202.1" width="8.8" height="2.0" fill="#22399b"/>
<rect x="360.9" y="203.3" width="9.9" height="3.9" fill="#22399b"/>
<rect x="362.0" y="204.5" width="10.1" height="3.6" fill="#22399b"/>
<rect x="361.0" y="205.7" width="9.6" height="3.5" fill="#22399b"/>
<rect x="362.2" y="206.9" width="9.6" height="2.8" fill="#22399b"/>
<rect x="362.1" y="208.1" width="9.9" height="2.6" fill="#22399b"/>
<rect x="362.6" y="209.3" width="10.2" height="2.1" fill="#22399b"/>
<rect x="361.5" y="210.5" width="8.6" height="4.1" fill="#22399b"/>
<rect x="362.0" y="211.7" width="10.1" height="2.7" fill="#22399b"/>
<rect x="361.5" y="212.9" width="9.6" height="4.2" fill="#22399b"/>
<rect x="360.1" y="214.1" width="10.0" height="3.9" fill="#22399b"/>
<rect x="360.0" y="215.3" width="10.5" height="2.8" fill="#22399b"/>
<rect x="362.1" y="216.5" width="9.0" height="2.3" fill="#22399b"/>
<rect x="360.8" y="217.7" width="9.4" height="3.2" fill="#22399b"/>
<rect x="361.7" y="218.9" width="8.9" height="2.4" fill="#22399b"/>
<rect x="361.3" y="220.1" width="9.7" height="3.7" fill="#22399b"/>
<rect x="360.5" y="221.3" width="9.6" height="2.8" fill="#22399b"/>
<rect x="361.7" y="222.5" width="8.5" height="3.5" fill="#22399b"/>
<rect x="361.2" y="223.7" width="8.9" height="2.6" fill="#22399b"/>
<rect x="361.5" y="224.9" width="9.8" height="3.6" fill="#22399b"/>
<rect x="360.6" y="226.1" width="9.1" height="4.0" fill="#22399b"/>
<rect x="360.7" y="227.3" width="9.7" height="2.3" fill="#22399b"/>
<rect x="360.5" y="228.5" width="9.3" height="3.8" fill="#22399b"/>
<rect x="359.6" y="229.7" width="10.7" height="3.9" fill="#22399b"/>
<rect x="361.0" y="230.9" width="9.9" height="2.8" fill="#22399b"/>
<rect x="361.3" y="232.1" width="9.4" height="2.8" fill="#22399b"/>
<rect x="361.1" y="233.3" width="8.8" height="2.0" fill="#22399b"/>
<rect x="359.6" y="234.5" width="10.0" height="3.7" fill="#22399b"/>
<rect x="360.7" y="235.7" width="9.2" height="3.0" fill="#22399b"/>
<rect x="360.3" y="236.9" width="9.7" height="4.3" fill="#22399b"/>
<rect x="360.6" y="238.1" width="9.3" height="3.4" fill="#22399b"/>
<rect x="360.7" y="239.3" width="9.9" height="2.8" fill="#22399b"/>
<rect x="360.8" y="240.5" width="10.9" height="2.5" fill="#22399b"/>
<rect x="360.7" y="241.7" width="10.0" height="3.6" fill="#22399b"/>
<rect x="360.2" y="242.9" width="9.4" height="2.3" fill="#22399b"/>
<rect x="360.9" y="244.1" width="9.7" height="2.9" fill="#22399b"/>
<rect x="361.2" y="245.3" width="10.5" height="2.2" fill="#22399b"/>
<rect x="360.3" y="246.5" width="10.0" height="2.7" fill="#22399b"/>
<rect x="359.8" y="247.7" width="10.6" height="4.2" fill="#22399b"/>
<rect x="360.7" y="248.9" width="8.5" height="4.0" fill="#22399b"/>
<rect x="361.0" y="250.1" width="9.2" height="3.7" fill="#22399b"/>
<rect x="360.0" y="251.3" width="10.3" height="3.8" fill="#22399b"/>
<rect x="359.8" y="252.5" width="9.7" height="2.5" fill="#22399b"/>
<rect x="359.2" y="253.7" width="10.3" height="2.5" fill="#22399b"/>
<rect x="359.5" y="254.9" width="10.4" height="4.1" fill="#22399b"/>
<rect x="359.7" y="256.1" width="9.6" height="4.2" fill="#22399b"/>
<rect x="360.3" y="257.3" width="9.6" height="2.6" fill="#22399b"/>
<rect x="361.0" y="258.5" width="9.7" height="4.3" fill="#22399b"/>
<rect x="360.3" y="259.7" width="9.8" height="4.0" fill="#22399b"/>
<rect x="361.2" y="260.9" width="8.2" height="3.1" fill="#22399b"/>
<rect x="361.4" y="262.1" width="8.5" height="2.9" fill="#22399b"/>
<rect x="361.6" y="263.3" width="8.6" height="3.6" fill="#22399b"/>
<rect x="361.1" y="264.5" width="9.8" height="3.5" fill="#22399b"/>
<rect x="360.3" y="265.7" width="10.0" height="2.3" fill="#22399b"/>
<rect x="361.3" y="266.9" width="8.3" height="3.1" fill="#22399b"/>
<rect x="359.8" y="268.1" width="10.0" height="1.9" fill="#22399b"/>
<rect x="360.8" y="269.3" width="9.0" height="3.3" fill="#22399b"/>
<rect x="360.5" y="270.5" width="9.3" height="2.3" fill="#22399b"/>
<rect x="360.8" y="271.7" width="8.5" height="2.9" fill="#22399b"/>
<rect x="360.9" y="272.9" width="9.0" height="3.7" fill="#22399b"/>
<rect x="362.5" y="274.1" width="8.3" height="3.8" fill="#22399b"/>
<rect x="361.7" y="275.3" width="9.2" height="4.2" fill="#22399b"/>
<rect x="359.6" y="276.5" width="9.1" height="3.8" fill="#22399b"/>
<rect x="361.1" y="277.7" width="8.7" height="3.9" fill="#22399b"/>
<rect x="360.9" y="278.9" width="8.5" height="2.4" fill="#22399b"/>
<rect x="362.6" y="280.1" width="7.4" height="4.0" fill="#22399b"/>
<rect x="360.5" y="281.3" width="9.4" height="3.1" fill="#22399b"/>
<rect x="360.0" y="282.5" width="9.1" height="2.2" fill="#22399b"/>
<rect x="362.6" y="283.7" width="7.6" height="3.1" fill="#22399b"/>
<rect x="361.6" y="284.9" width="8.0" height="2.7" fill="#22399b"/>
<rect x="362.4" y="286.1" width="6.5" height="2.7" fill="#22399b"/>
<rect x="361.2" y="287.3" width="8.8" height="2.6" fill="#22399b"/>
<rect x="360.3" y="288.5" width="9.7" height="3.0" fill="#22399b"/>
<rect x="363.2" y="289.7" width="8.1" height="3.5" fill="#22399b"/>
<rect x="361.3" y="290.9" width="9.2" height="4.2" fill="#22399b"/>
<rect x="360.9" y="292.1" width="7.8" height="1.9" fill="#22399b"/>
<rect x="361.6" y="293.3" width="8.2" height="2.5" fill="#22399b"/>
<rect x="361.3" y="294.5" width="7.2" height="3.4" fill="#22399b"/>
<rect x="361.4" y="295.7" width="7.6" height="2.0" fill="#22399b"/>
<rect x="362.3" y="296.9" width="8.0" height="3.8" fill="#22399b"/>
<rect x="362.8" y="298.1" width="7.2" height="3.9" fill="#22399b"/>
<rect x="362.3" y="299.3" width="8.7" height="2.1" fill="#22399b"/>
<rect x="363.8" y="300.5" width="6.7" height="2.6" fill="#22399b"/>
<rect x="362.3" y="301.7" width="6.0" height="2.6" fill="#22399b"/>
<rect x="363.7" y="302.9" width="3.5" height="2.6" fill="#22399b"/>
<ellipse cx="358.0" cy="257.1" rx="1.03" ry="5.0" fill="#22399b" opacity="0.63"/>
<ellipse cx="357.6" cy="218.2" rx="0.95" ry="6.8" fill="#22399b" opacity="0.95"/>
<ellipse cx="372.2" cy="265.3" rx="0.54" ry="5.4" fill="#22399b" opacity="0.64"/>
<ellipse cx="358.7" cy="208.6" rx="0.70" ry="4.9" fill="#22399b" opacity="0.77"/>
<ellipse cx="358.1" cy="240.6" rx="1.04" ry="3.4" fill="#22399b" opacity="0.87"/>
<ellipse cx="371.4" cy="272.0" rx="0.89" ry="6.5" fill="#22399b" opacity="0.62"/>
<ellipse cx="359.3" cy="223.3" rx="0.83" ry="2.7" fill="#22399b" opacity="0.86"/>
<ellipse cx="356.8" cy="261.3" rx="0.51" ry="3.4" fill="#22399b" opacity="0.99"/>
<ellipse cx="358.8" cy="236.2" rx="1.00" ry="3.4" fill="#22399b" opacity="0.83"/>
<ellipse cx="358.7" cy="294.0" rx="1.01" ry="5.2" fill="#22399b" opacity="0.89"/>
<ellipse cx="359.0" cy="221.2" rx="1.03" ry="4.2" fill="#22399b" opacity="0.96"/>
<ellipse cx="373.7" cy="213.4" rx="0.80" ry="3.2" fill="#22399b" opacity="0.82"/>
<ellipse cx="358.9" cy="231.3" rx="0.69" ry="6.9" fill="#22399b" opacity="0.76"/>
<ellipse cx="359.6" cy="243.9" rx="0.99" ry="5.0" fill="#22399b" opacity="0.95"/>
<ellipse cx="358.6" cy="227.6" rx="0.91" ry="4.4" fill="#22399b" opacity="1.00"/>
<ellipse cx="371.3" cy="250.4" rx="0.80" ry="4.7" fill="#22399b" opacity="0.60"/>
<ellipse cx="358.9" cy="240.0" rx="0.75" ry="6.5" fill="#22399b" opacity="0.90"/>
<ellipse cx="357.7" cy="273.3" rx="0.83" ry="4.0" fill="#22399b" opacity="0.90"/>
<ellipse cx="357.8" cy="284.3" rx="1.09" ry="5.8" fill="#22399b" opacity="0.84"/>
<ellipse cx="373.4" cy="213.7" rx="1.11" ry="6.9" fill="#22399b" opacity="0.87"/>
<ellipse cx="372.3" cy="187.7" rx="1.07" ry="6.6" fill="#22399b" opacity="0.81"/>
<ellipse cx="357.4" cy="282.5" rx="1.18" ry="3.8" fill="#22399b" opacity="0.75"/>
<ellipse cx="371.0" cy="290.0" rx="0.76" ry="5.6" fill="#22399b" opacity="0.84"/>
<ellipse cx="372.2" cy="233.8" rx="0.69" ry="2.9" fill="#22399b" opacity="0.75"/>
<ellipse cx="375.0" cy="216.0" rx="1.06" ry="5.3" fill="#22399b" opacity="0.78"/>
<ellipse cx="361.0" cy="218.1" rx="0.50" ry="2.9" fill="#22399b" opacity="0.94"/>
<ellipse cx="371.5" cy="286.6" rx="0.87" ry="3.4" fill="#22399b" opacity="0.77"/>
<ellipse cx="360.5" cy="203.4" rx="0.57" ry="6.8" fill="#22399b" opacity="0.64"/>
<ellipse cx="370.5" cy="185.5" rx="0.75" ry="2.8" fill="#22399b" opacity="0.73"/>
<ellipse cx="359.7" cy="215.1" rx="0.63" ry="4.4" fill="#22399b" opacity="0.71"/>
<rect x="367.4" y="184.2" width="1.0" height="3.2" fill="#f6e619"/>
<rect x="366.1" y="185.4" width="2.2" height="3.3" fill="#f6e619"/>
<rect x="366.3" y="186.6" width="1.8" height="3.3" fill="#f6e619"/>
<rect x="365.5" y="187.8" width="3.5" height="2.8" fill="#f6e619"/>
<rect x="365.9" y="189.0" width="3.6" height="2.9" fill="#f6e619"/>
<rect x="365.5" y="190.2" width="4.4" height="2.1" fill="#f6e619"/>
<rect x="364.8" y="191.4" width="5.2" height="2.8" fill="#f6e619"/>
<rect x="363.5" y="192.6" width="5.4" height="2.1" fill="#f6e619"/>
<rect x="364.8" y="193.8" width="4.9" height="1.9" fill="#f6e619"/>
<rect x="363.9" y="195.0" width="5.6" height="3.0" fill="#f6e619"/>
<rect x="364.2" y="196.2" width="6.0" height="2.3" fill="#f6e619"/>
<rect x="363.9" y="197.4" width="5.2" height="2.4" fill="#f6e619"/>
<rect x="363.0" y="198.6" width="6.7" height="2.1" fill="#f6e619"/>
<rect x="363.8" y="199.8" width="5.5" height="2.3" fill="#f6e619"/>
<rect x="363.8" y="201.0" width="6.3" height="1.9" fill="#f6e619"/>
<rect x="364.9" y="202.2" width="5.5" height="2.8" fill="#f6e619"/>
<rect x="363.0" y="203.4" width="6.4" height="2.0" fill="#f6e619"/>
<rect x="363.5" y="204.6" width="6.3" height="1.7" fill="#f6e619"/>
<rect x="363.0" y="205.8" width="6.7" height="2.3" fill="#f6e619"/>
<rect x="363.1" y="207.0" width="6.9" height="2.3" fill="#f6e619"/>
<rect x="363.2" y="208.2" width="7.3" height="2.1" fill="#f6e619"/>
<rect x="364.2" y="209.4" width="6.9" height="3.2" fill="#f6e619"/>
<rect x="363.1" y="210.6" width="5.6" height="2.6" fill="#f6e619"/>
<rect x="364.2" y="211.8" width="6.6" height="2.5" fill="#f6e619"/>
<rect x="363.1" y="213.0" width="6.7" height="1.9" fill="#f6e619"/>
<rect x="362.2" y="214.2" width="6.8" height="2.1" fill="#f6e619"/>
<rect x="362.1" y="215.4" width="6.3" height="3.2" fill="#f6e619"/>
<rect x="363.0" y="216.6" width="6.2" height="1.9" fill="#f6e619"/>
<rect x="362.8" y="217.8" width="6.4" height="2.7" fill="#f6e619"/>
<rect x="362.8" y="219.0" width="6.2" height="2.1" fill="#f6e619"/>
<rect x="362.3" y="220.2" width="6.6" height="2.0" fill="#f6e619"/>
<rect x="362.4" y="221.4" width="6.4" height="2.5" fill="#f6e619"/>
<rect x="363.4" y="222.6" width="5.6" height="2.4" fill="#f6e619"/>
<rect x="362.2" y="223.8" width="6.7" height="2.2" fill="#f6e619"/>
<rect x="363.1" y="225.0" width="6.5" height="2.8" fill="#f6e619"/>
<rect x="362.3" y="226.2" width="5.9" height="2.2" fill="#f6e619"/>
<rect x="362.3" y="227.4" width="6.5" height="1.7" fill="#f6e619"/>
<rect x="362.4" y="228.6" width="6.4" height="2.1" fill="#f6e619"/>
<rect x="361.5" y="229.8" width="6.6" height="3.3" fill="#f6e619"/>
<rect x="362.6" y="231.0" width="6.4" height="2.1" fill="#f6e619"/>
<rect x="362.7" y="232.2" width="5.9" height="2.3" fill="#f6e619"/>
<rect x="363.0" y="233.4" width="6.0" height="2.5" fill="#f6e619"/>
<rect x="361.6" y="234.6" width="6.1" height="2.5" fill="#f6e619"/>
<rect x="362.4" y="235.8" width="6.4" height="3.1" fill="#f6e619"/>
<rect x="361.9" y="237.0" width="6.4" height="2.4" fill="#f6e619"/>
<rect x="362.1" y="238.2" width="5.9" height="2.1" fill="#f6e619"/>
<rect x="361.7" y="239.4" width="6.6" height="3.1" fill="#f6e619"/>
<rect x="363.0" y="240.6" width="6.5" height="2.1" fill="#f6e619"/>
<rect x="362.4" y="241.8" width="6.4" height="2.1" fill="#f6e619"/>
<rect x="361.4" y="243.0" width="7.0" height="1.7" fill="#f6e619"/>
<rect x="362.3" y="244.2" width="6.0" height="2.4" fill="#f6e619"/>
<rect x="363.0" y="245.4" width="6.3" height="1.8" fill="#f6e619"/>
<rect x="361.8" y="246.6" width="6.3" height="3.3" fill="#f6e619"/>
<rect x="361.7" y="247.8" width="6.6" height="2.8" fill="#f6e619"/>
<rect x="361.7" y="249.0" width="6.1" height="2.3" fill="#f6e619"/>
<rect x="362.4" y="250.2" width="6.6" height="1.8" fill="#f6e619"/>
<rect x="361.2" y="251.4" width="7.2" height="1.6" fill="#f6e619"/>
<rect x="361.8" y="252.6" width="5.8" height="2.3" fill="#f6e619"/>
<rect x="360.9" y="253.8" width="6.9" height="2.3" fill="#f6e619"/>
<rect x="361.5" y="255.0" width="6.3" height="2.1" fill="#f6e619"/>
<rect x="361.3" y="256.2" width="6.1" height="2.3" fill="#f6e619"/>
<rect x="362.0" y="257.4" width="6.4" height="3.0" fill="#f6e619"/>
<rect x="362.0" y="258.6" width="6.6" height="2.3" fill="#f6e619"/>
<rect x="361.9" y="259.8" width="6.1" height="2.7" fill="#f6e619"/>
<rect x="362.2" y="261.0" width="5.8" height="3.0" fill="#f6e619"/>
<rect x="363.2" y="262.2" width="5.6" height="1.9" fill="#f6e619"/>
<rect x="363.0" y="263.4" width="6.3" height="1.8" fill="#f6e619"/>
<rect x="363.1" y="264.6" width="5.6" height="2.6" fill="#f6e619"/>
<rect x="362.3" y="265.8" width="6.1" height="1.7" fill="#f6e619"/>
<rect x="362.6" y="267.0" width="5.8" height="2.7" fill="#f6e619"/>
<rect x="361.8" y="268.2" width="6.3" height="2.5" fill="#f6e619"/>
<rect x="361.8" y="269.4" width="6.1" height="2.7" fill="#f6e619"/>
<rect x="362.2" y="270.6" width="6.3" height="2.5" fill="#f6e619"/>
<rect x="362.7" y="271.8" width="5.3" height="1.7" fill="#f6e619"/>
<rect x="362.9" y="273.0" width="6.0" height="2.5" fill="#f6e619"/>
<rect x="363.7" y="274.2" width="5.0" height="2.7" fill="#f6e619"/>
<rect x="363.6" y="275.4" width="5.1" height="1.9" fill="#f6e619"/>
<rect x="361.6" y="276.6" width="5.9" height="2.2" fill="#f6e619"/>
<rect x="362.2" y="277.8" width="6.4" height="1.9" fill="#f6e619"/>
<rect x="362.3" y="279.0" width="5.1" height="2.9" fill="#f6e619"/>
<rect x="363.6" y="280.2" width="5.3" height="2.3" fill="#f6e619"/>
<rect x="362.6" y="281.4" width="5.1" height="3.1" fill="#f6e619"/>
<rect x="362.0" y="282.6" width="5.7" height="1.9" fill="#f6e619"/>
<rect x="363.9" y="283.8" width="4.7" height="2.2" fill="#f6e619"/>
<rect x="362.6" y="285.0" width="5.4" height="2.5" fill="#f6e619"/>
<rect x="363.4" y="286.2" width="4.6" height="2.6" fill="#f6e619"/>
<rect x="363.4" y="287.4" width="4.6" height="2.1" fill="#f6e619"/>
<rect x="362.1" y="288.6" width="5.7" height="2.4" fill="#f6e619"/>
<rect x="364.2" y="289.8" width="5.1" height="2.3" fill="#f6e619"/>
<rect x="363.4" y="291.0" width="5.1" height="2.8" fill="#f6e619"/>
<rect x="362.9" y="292.2" width="4.6" height="1.9" fill="#f6e619"/>
<rect x="362.9" y="293.4" width="5.5" height="3.2" fill="#f6e619"/>
<rect x="362.8" y="294.6" width="4.3" height="2.2" fill="#f6e619"/>
<rect x="362.7" y="295.8" width="4.7" height="3.3" fill="#f6e619"/>
<rect x="364.0" y="297.0" width="4.1" height="2.2" fill="#f6e619"/>
<rect x="364.2" y="298.2" width="3.7" height="2.8" fill="#f6e619"/>
<rect x="363.8" y="299.4" width="5.0" height="2.0" fill="#f6e619"/>
<rect x="364.9" y="300.6" width="3.5" height="2.1" fill="#f6e619"/>
<rect x="363.4" y="301.8" width="2.9" height="3.2" fill="#f6e619"/>
<rect x="364.7" y="303.0" width="1.0" height="3.4" fill="#f6e619"/>
<ellipse cx="363.3" cy="272.4" rx="0.61" ry="4.7" fill="#686887" opacity="0.66"/>
<ellipse cx="365.9" cy="299.4" rx="0.53" ry="2.0" fill="#22399b" opacity="0.61"/>
<ellipse cx="365.7" cy="298.9" rx="0.79" ry="4.7" fill="#22399b" opacity="0.97"/>
<ellipse cx="364.1" cy="261.0" rx="0.45" ry="4.6" fill="#22399b" opacity="0.86"/>
<ellipse cx="365.4" cy="267.4" rx="0.74" ry="4.6" fill="#686887" opacity="0.96"/>
<ellipse cx="365.7" cy="278.1" rx="0.78" ry="3.5" fill="#686887" opacity="0.62"/>
<ellipse cx="366.1" cy="299.8" rx="0.63" ry="2.9" fill="#22399b" opacity="0.96"/>
<ellipse cx="366.4" cy="289.1" rx="0.81" ry="2.4" fill="#686887" opacity="0.81"/>
<ellipse cx="365.0" cy="282.8" rx="0.40" ry="2.9" fill="#686887" opacity="0.93"/>
<ellipse cx="364.1" cy="294.0" rx="0.52" ry="2.2" fill="#22399b" opacity="0.76"/>
<ellipse cx="367.2" cy="244.9" rx="0.75" ry="4.3" fill="#686887" opacity="0.97"/>
<ellipse cx="367.2" cy="287.4" rx="0.44" ry="4.2" fill="#22399b" opacity="0.63"/>
<ellipse cx="365.2" cy="263.5" rx="0.65" ry="4.5" fill="#686887" opacity="0.91"/>
<ellipse cx="366.7" cy="275.9" rx="0.86" ry="3.0" fill="#22399b" opacity="0.64"/>
<ellipse cx="367.6" cy="290.6" rx="0.86" ry="1.6" fill="#22399b" opacity="0.89"/>
<ellipse cx="367.1" cy="270.0" rx="0.56" ry="2.8" fill="#22399b" opacity="0.94"/>
<ellipse cx="366.0" cy="262.2" rx="0.46" ry="2.4" fill="#22399b" opacity="0.77"/>
<ellipse cx="365.7" cy="275.4" rx="0.66" ry="3.8" fill="#686887" opacity="0.81"/>
<ellipse cx="363.3" cy="273.8" rx="0.87" ry="2.7" fill="#686887" opacity="0.81"/>
<ellipse cx="364.0" cy="284.8" rx="0.76" ry="4.0" fill="#22399b" opacity="0.64"/>
<ellipse cx="363.0" cy="268.3" rx="0.63" ry="3.6" fill="#22399b" opacity="0.79"/>
<ellipse cx="366.3" cy="297.2" rx="0.43" ry="3.6" fill="#22399b" opacity="0.70"/>
<rect x="370.7" y="302.1" width="4.6" height="3.0" fill="#22399b"/>
<rect x="370.9" y="303.3" width="5.1" height="3.8" fill="#22399b"/>
<rect x="370.2" y="304.5" width="6.7" height="2.2" fill="#22399b"/>
<rect x="370.9" y="305.7" width="6.1" height="3.5" fill="#22399b"/>
<rect x="370.4" y="306.9" width="7.4" height="2.2" fill="#22399b"/>
<rect x="370.2" y="308.1" width="9.0" height="4.2" fill="#22399b"/>
<rect x="370.2" y="309.3" width="8.2" height="2.4" fill="#22399b"/>
<rect x="370.1" y="310.5" width="9.5" height="3.5" fill="#22399b"/>
<rect x="370.9" y="311.7" width="8.4" height="3.4" fill="#22399b"/>
<rect x="371.4" y="312.9" width="9.2" height="2.8" fill="#22399b"/>
<rect x="371.5" y="314.1" width="7.4" height="2.0" fill="#22399b"/>
<rect x="371.2" y="315.3" width="8.9" height="3.8" fill="#22399b"/>
<rect x="371.4" y="316.5" width="8.7" height="2.1" fill="#22399b"/>
<rect x="371.3" y="317.7" width="9.9" height="3.7" fill="#22399b"/>
<rect x="372.1" y="318.9" width="7.9" height="2.0" fill="#22399b"/>
<rect x="371.5" y="320.1" width="10.4" height="3.4" fill="#22399b"/>
<rect x="371.4" y="321.3" width="9.8" height="4.2" fill="#22399b"/>
<rect x="372.3" y="322.5" width="8.8" height="3.2" fill="#22399b"/>
<rect x="372.3" y="323.7" width="9.4" height="3.3" fill="#22399b"/>
<rect x="373.3" y="324.9" width="8.6" height="2.9" fill="#22399b"/>
<rect x="373.5" y="326.1" width="10.2" height="3.0" fill="#22399b"/>
<rect x="372.9" y="327.3" width="10.7" height="4.2" fill="#22399b"/>
<rect x="372.6" y="328.5" width="10.4" height="3.4" fill="#22399b"/>
<rect x="373.1" y="329.7" width="9.2" height="2.2" fill="#22399b"/>
<ellipse cx="367.5" cy="312.1" rx="0.69" ry="3.7" fill="#22399b" opacity="0.96"/>
<ellipse cx="381.7" cy="318.2" rx="0.82" ry="6.8" fill="#22399b" opacity="0.93"/>
<ellipse cx="369.1" cy="328.5" rx="0.82" ry="2.0" fill="#22399b" opacity="0.67"/>
<ellipse cx="385.8" cy="329.6" rx="0.83" ry="6.5" fill="#22399b" opacity="0.62"/>
<ellipse cx="369.5" cy="317.0" rx="1.16" ry="3.3" fill="#22399b" opacity="0.71"/>
<ellipse cx="367.9" cy="313.9" rx="0.77" ry="5.7" fill="#22399b" opacity="0.71"/>
<rect x="371.7" y="302.2" width="1.4" height="1.7" fill="#f6e619"/>
<rect x="371.9" y="303.4" width="2.0" height="2.0" fill="#f6e619"/>
<rect x="372.4" y="304.6" width="2.8" height="1.8" fill="#f6e619"/>
<rect x="372.2" y="305.8" width="3.0" height="2.1" fill="#f6e619"/>
<rect x="372.2" y="307.0" width="4.2" height="3.3" fill="#f6e619"/>
<rect x="372.6" y="308.2" width="4.3" height="2.7" fill="#f6e619"/>
<rect x="371.9" y="309.4" width="5.4" height="2.1" fill="#f6e619"/>
<rect x="371.8" y="310.6" width="5.5" height="2.1" fill="#f6e619"/>
<rect x="372.1" y="311.8" width="4.9" height="3.2" fill="#f6e619"/>
<rect x="373.0" y="313.0" width="5.5" height="1.8" fill="#f6e619"/>
<rect x="373.2" y="314.2" width="4.6" height="2.0" fill="#f6e619"/>
<rect x="373.5" y="315.4" width="5.0" height="2.2" fill="#f6e619"/>
<rect x="373.0" y="316.6" width="5.7" height="2.9" fill="#f6e619"/>
<rect x="373.5" y="317.8" width="6.3" height="2.2" fill="#f6e619"/>
<rect x="373.3" y="319.0" width="5.3" height="2.6" fill="#f6e619"/>
<rect x="373.5" y="320.2" width="6.2" height="1.9" fill="#f6e619"/>
<rect x="373.3" y="321.4" width="6.6" height="1.8" fill="#f6e619"/>
<rect x="373.5" y="322.6" width="6.3" height="2.1" fill="#f6e619"/>
<rect x="374.2" y="323.8" width="6.1" height="2.5" fill="#f6e619"/>
<rect x="374.5" y="325.0" width="6.3" height="1.9" fill="#f6e619"/>
<rect x="375.3" y="326.2" width="6.2" height="2.0" fill="#f6e619"/>
<rect x="375.2" y="327.4" width="6.3" height="1.7" fill="#f6e619"/>
<rect x="374.6" y="328.6" width="6.8" height="1.9" fill="#f6e619"/>
<rect x="375.0" y="329.8" width="5.9" height="2.5" fill="#f6e619"/>
<rect x="418.2" y="165.1" width="16.6" height="3.2" fill="#22399b"/>
<rect x="418.3" y="166.3" width="15.3" height="4.0" fill="#22399b"/>
<rect x="418.7" y="167.5" width="16.2" height="4.3" fill="#22399b"/>
<rect x="417.6" y="168.7" width="16.6" height="2.8" fill="#22399b"/>
<rect x="418.6" y="169.9" width="16.9" height="3.7" fill="#22399b"/>
<rect x="418.0" y="171.1" width="15.9" height="2.7" fill="#22399b"/>
<rect x="417.2" y="172.3" width="16.2" height="3.3" fill="#22399b"/>
<rect x="418.1" y="173.5" width="16.0" height="4.3" fill="#22399b"/>
<rect x="417.8" y="174.7" width="16.5" height="2.4" fill="#22399b"/>
<rect x="418.5" y="175.9" width="15.8" height="2.9" fill="#22399b"/>
<rect x="417.8" y="177.1" width="15.3" height="4.2" fill="#22399b"/>
<rect x="419.5" y="178.3" width="14.4" height="2.5" fill="#22399b"/>
<rect x="418.2" y="179.5" width="15.2" height="3.4" fill="#22399b"/>
<rect x="418.9" y="180.7" width="14.3" height="4.0" fill="#22399b"/>
<rect x="417.9" y="181.9" width="14.3" height="3.1" fill="#22399b"/>
<rect x="417.5" y="183.1" width="13.6" height="3.5" fill="#22399b"/>
<rect x="417.5" y="184.3" width="12.0" height="3.9" fill="#22399b"/>
<rect x="417.0" y="185.5" width="12.7" height="2.9" fill="#22399b"/>
<rect x="416.2" y="186.7" width="11.8" height="3.6" fill="#22399b"/>
<rect x="416.8" y="187.9" width="11.3" height="2.0" fill="#22399b"/>
<rect x="416.4" y="189.1" width="10.4" height="3.1" fill="#22399b"/>
<rect x="415.8" y="190.3" width="10.3" height="2.0" fill="#22399b"/>
<rect x="416.3" y="191.5" width="10.8" height="3.1" fill="#22399b"/>
<rect x="416.0" y="192.7" width="9.1" height="3.7" fill="#22399b"/>
<rect x="416.8" y="193.9" width="8.7" height="3.3" fill="#22399b"/>
<rect x="416.5" y="195.1" width="8.0" height="2.3" fill="#22399b"/>
<rect x="416.2" y="196.3" width="7.3" height="4.0" fill="#22399b"/>
<ellipse cx="414.6" cy="175.5" rx="1.12" ry="6.2" fill="#22399b" opacity="0.66"/>
<ellipse cx="415.0" cy="182.4" rx="1.19" ry="5.7" fill="#22399b" opacity="0.70"/>
<ellipse cx="414.0" cy="196.6" rx="0.88" ry="3.2" fill="#22399b" opacity="0.62"/>
<ellipse cx="436.7" cy="175.1" rx="0.77" ry="4.5" fill="#22399b" opacity="0.96"/>
<ellipse cx="417.8" cy="178.0" rx="1.03" ry="6.1" fill="#22399b" opacity="0.88"/>
<ellipse cx="416.5" cy="180.1" rx="1.14" ry="5.1" fill="#22399b" opacity="0.93"/>
<ellipse cx="415.9" cy="169.4" rx="1.03" ry="5.0" fill="#22399b" opacity="0.99"/>
<ellipse cx="415.6" cy="197.6" rx="1.12" ry="5.1" fill="#22399b" opacity="0.62"/>
<ellipse cx="413.7" cy="195.5" rx="0.98" ry="3.9" fill="#22399b" opacity="0.63"/>
<ellipse cx="415.6" cy="168.8" rx="1.18" ry="4.4" fill="#22399b" opacity="0.77"/>
<ellipse cx="413.5" cy="184.2" rx="1.14" ry="4.2" fill="#22399b" opacity="0.80"/>
<ellipse cx="414.8" cy="184.6" rx="0.88" ry="5.7" fill="#22399b" opacity="0.84"/>
<ellipse cx="433.9" cy="180.2" rx="1.13" ry="5.5" fill="#22399b" opacity="0.70"/>
<ellipse cx="434.1" cy="175.6" rx="1.12" ry="2.7" fill="#22399b" opacity="0.71"/>
<rect x="419.7" y="165.2" width="12.9" height="2.6" fill="#f6e619"/>
<rect x="419.7" y="166.4" width="12.1" height="2.0" fill="#f6e619"/>
<rect x="420.1" y="167.6" width="13.0" height="1.8" fill="#f6e619"/>
<rect x="419.3" y="168.8" width="12.6" height="3.3" fill="#f6e619"/>
<rect x="421.1" y="170.0" width="11.9" height="2.5" fill="#f6e619"/>
<rect x="419.5" y="171.2" width="11.9" height="2.7" fill="#f6e619"/>
<rect x="419.6" y="172.4" width="11.8" height="3.4" fill="#f6e619"/>
<rect x="419.9" y="173.6" width="11.9" height="2.9" fill="#f6e619"/>
<rect x="420.2" y="174.8" width="11.7" height="2.9" fill="#f6e619"/>
<rect x="420.0" y="176.0" width="12.0" height="3.0" fill="#f6e619"/>
<rect x="420.2" y="177.2" width="10.9" height="3.4" fill="#f6e619"/>
<rect x="420.7" y="178.4" width="10.7" height="3.2" fill="#f6e619"/>
<rect x="420.4" y="179.6" width="10.9" height="2.1" fill="#f6e619"/>
<rect x="420.7" y="180.8" width="10.2" height="2.8" fill="#f6e619"/>
<rect x="419.6" y="182.0" width="10.4" height="2.0" fill="#f6e619"/>
<rect x="419.6" y="183.2" width="9.5" height="1.6" fill="#f6e619"/>
<rect x="418.9" y="184.4" width="8.8" height="2.2" fill="#f6e619"/>
<rect x="418.5" y="185.6" width="9.0" height="3.1" fill="#f6e619"/>
<rect x="418.0" y="186.8" width="8.4" height="2.1" fill="#f6e619"/>
<rect x="418.2" y="188.0" width="8.2" height="3.3" fill="#f6e619"/>
<rect x="418.2" y="189.2" width="7.3" height="3.2" fill="#f6e619"/>
<rect x="417.7" y="190.4" width="7.1" height="3.1" fill="#f6e619"/>
<rect x="418.1" y="191.6" width="6.5" height="2.5" fill="#f6e619"/>
<rect x="418.0" y="192.8" width="5.5" height="1.9" fill="#f6e619"/>
<rect x="418.1" y="194.0" width="4.8" height="3.4" fill="#f6e619"/>
<rect x="418.3" y="195.2" width="3.8" height="1.6" fill="#f6e619"/>
<rect x="417.9" y="196.4" width="3.2" height="3.0" fill="#f6e619"/>
<rect x="406.3" y="189.1" width="4.5" height="3.4" fill="#22399b"/>
<rect x="406.2" y="190.3" width="4.5" height="3.5" fill="#22399b"/>
<rect x="406.4" y="191.5" width="5.7" height="4.2" fill="#22399b"/>
<rect x="406.1" y="192.7" width="7.3" height="1.9" fill="#22399b"/>
<rect x="404.9" y="193.9" width="7.8" height="2.7" fill="#22399b"/>
<rect x="404.9" y="195.1" width="6.4" height="4.2" fill="#22399b"/>
<rect x="403.7" y="196.3" width="8.9" height="1.8" fill="#22399b"/>
<rect x="402.5" y="197.5" width="10.0" height="2.0" fill="#22399b"/>
<rect x="403.5" y="198.7" width="9.9" height="2.4" fill="#22399b"/>
<rect x="403.3" y="199.9" width="10.8" height="2.3" fill="#22399b"/>
<rect x="402.8" y="201.1" width="9.9" height="2.1" fill="#22399b"/>
<rect x="404.1" y="202.3" width="10.3" height="3.6" fill="#22399b"/>
<rect x="402.9" y="203.5" width="11.3" height="4.1" fill="#22399b"/>
<rect x="403.3" y="204.7" width="8.6" height="4.2" fill="#22399b"/>
<rect x="403.3" y="205.9" width="11.0" height="2.7" fill="#22399b"/>
<rect x="402.2" y="207.1" width="11.4" height="2.7" fill="#22399b"/>
<rect x="402.7" y="208.3" width="11.1" height="2.3" fill="#22399b"/>
<rect x="401.7" y="209.5" width="12.2" height="3.6" fill="#22399b"/>
<rect x="402.1" y="210.7" width="11.4" height="3.7" fill="#22399b"/>
<rect x="403.2" y="211.9" width="10.6" height="1.9" fill="#22399b"/>
<rect x="402.6" y="213.1" width="10.5" height="4.2" fill="#22399b"/>
<rect x="401.6" y="214.3" width="12.3" height="4.2" fill="#22399b"/>
<rect x="401.9" y="215.5" width="11.3" height="2.5" fill="#22399b"/>
<rect x="402.7" y="216.7" width="11.7" height="3.8" fill="#22399b"/>
<rect x="400.6" y="217.9" width="13.4" height="3.0" fill="#22399b"/>
<rect x="402.0" y="219.1" width="12.2" height="3.8" fill="#22399b"/>
<rect x="402.4" y="220.3" width="11.1" height="1.9" fill="#22399b"/>
<rect x="401.3" y="221.5" width="12.0" height="2.4" fill="#22399b"/>
<rect x="401.4" y="222.7" width="12.2" height="3.6" fill="#22399b"/>
<rect x="401.5" y="223.9" width="11.9" height="3.5" fill="#22399b"/>
<rect x="400.2" y="225.1" width="12.0" height="2.9" fill="#22399b"/>
<rect x="400.3" y="226.3" width="13.6" height="3.2" fill="#22399b"/>
<rect x="400.1" y="227.5" width="12.9" height="2.2" fill="#22399b"/>
<rect x="400.9" y="228.7" width="11.9" height="3.3" fill="#22399b"/>
<rect x="401.1" y="229.9" width="12.5" height="2.0" fill="#22399b"/>
<rect x="400.8" y="231.1" width="12.6" height="2.6" fill="#22399b"/>
<rect x="401.0" y="232.3" width="11.0" height="3.1" fill="#22399b"/>
<rect x="401.5" y="233.5" width="11.2" height="2.9" fill="#22399b"/>
<rect x="399.1" y="234.7" width="12.2" height="1.9" fill="#22399b"/>
<rect x="400.0" y="235.9" width="12.2" height="2.1" fill="#22399b"/>
<rect x="400.0" y="237.1" width="11.6" height="3.7" fill="#22399b"/>
<rect x="398.9" y="238.3" width="11.9" height="2.2" fill="#22399b"/>
<rect x="399.2" y="239.5" width="12.2" height="4.0" fill="#22399b"/>
<rect x="399.6" y="240.7" width="11.6" height="3.6" fill="#22399b"/>
<rect x="397.9" y="241.9" width="12.5" height="2.9" fill="#22399b"/>
<rect x="399.0" y="243.1" width="12.0" height="2.5" fill="#22399b"/>
<rect x="399.3" y="244.3" width="12.5" height="2.2" fill="#22399b"/>
<rect x="399.6" y="245.5" width="12.0" height="2.8" fill="#22399b"/>
<rect x="399.6" y="246.7" width="12.5" height="2.8" fill="#22399b"/>
<rect x="399.2" y="247.9" width="12.6" height="3.5" fill="#22399b"/>
<rect x="398.6" y="249.1" width="13.2" height="4.1" fill="#22399b"/>
<rect x="399.4" y="250.3" width="12.3" height="2.3" fill="#22399b"/>
<rect x="399.2" y="251.5" width="12.7" height="4.1" fill="#22399b"/>
<rect x="398.0" y="252.7" width="12.2" height="2.8" fill="#22399b"/>
<rect x="399.8" y="253.9" width="12.1" height="2.3" fill="#22399b"/>
<rect x="400.1" y="255.1" width="10.9" height="2.7" fill="#22399b"/>
<rect x="400.1" y="256.3" width="12.2" height="2.4" fill="#22399b"/>
<rect x="400.2" y="257.5" width="11.5" height="2.2" fill="#22399b"/>
<rect x="398.7" y="258.7" width="12.7" height="3.1" fill="#22399b"/>
<rect x="398.9" y="259.9" width="12.9" height="4.1" fill="#22399b"/>
<rect x="398.9" y="261.1" width="11.6" height="3.5" fill="#22399b"/>
<rect x="398.8" y="262.3" width="12.7" height="2.3" fill="#22399b"/>
<rect x="400.1" y="263.5" width="11.5" height="3.3" fill="#22399b"/>
<rect x="400.1" y="264.7" width="10.9" height="4.2" fill="#22399b"/>
<rect x="400.2" y="265.9" width="11.2" height="4.0" fill="#22399b"/>
<rect x="398.9" y="267.1" width="12.5" height="2.5" fill="#22399b"/>
<rect x="399.5" y="268.3" width="11.0" height="3.2" fill="#22399b"/>
<rect x="400.6" y="269.5" width="12.5" height="4.1" fill="#22399b"/>
<rect x="399.9" y="270.7" width="11.8" height="3.5" fill="#22399b"/>
<rect x="399.2" y="271.9" width="12.2" height="3.1" fill="#22399b"/>
<rect x="399.5" y="273.1" width="12.8" height="2.3" fill="#22399b"/>
<rect x="398.4" y="274.3" width="11.6" height="2.0" fill="#22399b"/>
<rect x="400.3" y="275.5" width="12.0" height="2.2" fill="#22399b"/>
<rect x="399.2" y="276.7" width="11.7" height="4.3" fill="#22399b"/>
<rect x="399.5" y="277.9" width="12.0" height="3.7" fill="#22399b"/>
<rect x="399.1" y="279.1" width="11.9" height="4.1" fill="#22399b"/>
<rect x="400.8" y="280.3" width="11.0" height="2.0" fill="#22399b"/>
<rect x="400.9" y="281.5" width="10.7" height="3.4" fill="#22399b"/>
<rect x="401.2" y="282.7" width="10.4" height="2.3" fill="#22399b"/>
<rect x="399.4" y="283.9" width="11.1" height="4.2" fill="#22399b"/>
<rect x="400.1" y="285.1" width="10.5" height="3.3" fill="#22399b"/>
<rect x="399.5" y="286.3" width="10.8" height="3.9" fill="#22399b"/>
<rect x="401.4" y="287.5" width="11.0" height="2.6" fill="#22399b"/>
<rect x="399.6" y="288.7" width="10.4" height="2.0" fill="#22399b"/>
<rect x="400.8" y="289.9" width="11.2" height="3.5" fill="#22399b"/>
<rect x="400.7" y="291.1" width="10.0" height="2.4" fill="#22399b"/>
<rect x="402.3" y="292.3" width="8.5" height="3.7" fill="#22399b"/>
<rect x="400.2" y="293.5" width="9.4" height="2.7" fill="#22399b"/>
<rect x="400.8" y="294.7" width="7.7" height="2.1" fill="#22399b"/>
<rect x="401.5" y="295.9" width="9.2" height="4.1" fill="#22399b"/>
<rect x="403.0" y="297.1" width="7.8" height="3.4" fill="#22399b"/>
<rect x="402.8" y="298.3" width="7.2" height="3.2" fill="#22399b"/>
<rect x="401.7" y="299.5" width="6.4" height="2.1" fill="#22399b"/>
<rect x="403.7" y="300.7" width="4.6" height="3.3" fill="#22399b"/>
<ellipse cx="396.2" cy="238.1" rx="0.75" ry="2.8" fill="#22399b" opacity="0.79"/>
<ellipse cx="398.9" cy="274.2" rx="0.90" ry="3.2" fill="#22399b" opacity="0.97"/>
<ellipse cx="396.4" cy="232.6" rx="0.84" ry="4.9" fill="#22399b" opacity="0.71"/>
<ellipse cx="413.9" cy="222.9" rx="1.14" ry="3.7" fill="#22399b" opacity="0.99"/>
<ellipse cx="412.0" cy="291.8" rx="1.08" ry="6.4" fill="#22399b" opacity="0.67"/>
<ellipse cx="413.3" cy="196.3" rx="0.83" ry="4.0" fill="#22399b" opacity="0.79"/>
<ellipse cx="397.9" cy="230.0" rx="0.98" ry="3.5" fill="#22399b" opacity="0.95"/>
<ellipse cx="398.6" cy="250.0" rx="1.11" ry="3.0" fill="#22399b" opacity="0.72"/>
<ellipse cx="396.0" cy="259.8" rx="1.09" ry="4.5" fill="#22399b" opacity="0.92"/>
<ellipse cx="398.7" cy="293.8" rx="0.51" ry="5.9" fill="#22399b" opacity="0.74"/>
<ellipse cx="415.2" cy="197.6" rx="0.69" ry="2.4" fill="#22399b" opacity="0.90"/>
<ellipse cx="412.7" cy="280.2" rx="0.72" ry="4.9" fill="#22399b" opacity="0.76"/>
<ellipse cx="416.7" cy="224.0" rx="0.96" ry="4.0" fill="#22399b" opacity="0.67"/>
<ellipse cx="415.9" cy="225.0" rx="0.58" ry="4.9" fill="#22399b" opacity="0.67"/>
<ellipse cx="400.1" cy="227.2" rx="0.67" ry="3.1" fill="#22399b" opacity="0.62"/>
<ellipse cx="412.2" cy="271.2" rx="0.91" ry="2.7" fill="#22399b" opacity="0.95"/>
<ellipse cx="415.7" cy="240.2" rx="0.81" ry="2.5" fill="#22399b" opacity="0.72"/>
<ellipse cx="399.2" cy="289.2" rx="0.90" ry="3.6" fill="#22399b" opacity="0.76"/>
<ellipse cx="417.2" cy="214.7" rx="1.20" ry="4.8" fill="#22399b" opacity="0.88"/>
<ellipse cx="398.2" cy="227.9" rx="0.60" ry="4.0" fill="#22399b" opacity="0.79"/>
<ellipse cx="414.5" cy="288.1" rx="1.11" ry="6.3" fill="#22399b" opacity="0.74"/>
<ellipse cx="414.4" cy="274.2" rx="1.01" ry="3.1" fill="#22399b" opacity="0.74"/>
<ellipse cx="399.6" cy="220.2" rx="0.77" ry="2.8" fill="#22399b" opacity="0.98"/>
<ellipse cx="413.9" cy="193.7" rx="1.10" ry="2.3" fill="#22399b" opacity="0.61"/>
<ellipse cx="413.2" cy="289.4" rx="0.52" ry="4.2" fill="#22399b" opacity="0.84"/>
<ellipse cx="399.8" cy="287.6" rx="0.55" ry="3.2" fill="#22399b" opacity="0.62"/>
<ellipse cx="400.2" cy="294.5" rx="1.06" ry="3.5" fill="#22399b" opacity="0.74"/>
<ellipse cx="395.6" cy="270.3" rx="0.93" ry="5.4" fill="#22399b" opacity="0.64"/>
<ellipse cx="397.7" cy="224.2" rx="0.91" ry="5.6" fill="#22399b" opacity="0.78"/>
<ellipse cx="397.2" cy="245.1" rx="0.65" ry="6.2" fill="#22399b" opacity="0.64"/>
<ellipse cx="413.6" cy="194.9" rx="0.59" ry="4.5" fill="#22399b" opacity="0.85"/>
<ellipse cx="401.2" cy="298.0" rx="0.80" ry="5.6" fill="#22399b" opacity="0.94"/>
<ellipse cx="417.5" cy="216.9" rx="0.67" ry="5.4" fill="#22399b" opacity="0.84"/>
<ellipse cx="396.5" cy="233.3" rx="0.74" ry="5.3" fill="#22399b" opacity="0.71"/>
<ellipse cx="413.0" cy="275.9" rx="0.56" ry="3.7" fill="#22399b" opacity="0.99"/>
<rect x="408.5" y="189.2" width="0.8" height="3.3" fill="#f6e619"/>
<rect x="408.3" y="190.4" width="1.1" height="3.2" fill="#f6e619"/>
<rect x="408.4" y="191.6" width="2.1" height="2.0" fill="#f6e619"/>
<rect x="407.2" y="192.8" width="4.0" height="2.5" fill="#f6e619"/>
<rect x="406.6" y="194.0" width="4.8" height="2.7" fill="#f6e619"/>
<rect x="406.3" y="195.2" width="3.8" height="2.7" fill="#f6e619"/>
<rect x="405.5" y="196.4" width="5.2" height="2.0" fill="#f6e619"/>
<rect x="404.7" y="197.6" width="6.6" height="2.7" fill="#f6e619"/>
<rect x="405.7" y="198.8" width="6.6" height="3.3" fill="#f6e619"/>
<rect x="405.4" y="200.0" width="6.7" height="2.3" fill="#f6e619"/>
<rect x="405.0" y="201.2" width="6.7" height="1.8" fill="#f6e619"/>
<rect x="405.8" y="202.4" width="6.7" height="2.5" fill="#f6e619"/>
<rect x="404.1" y="203.6" width="7.7" height="2.8" fill="#f6e619"/>
<rect x="404.4" y="204.8" width="6.5" height="1.9" fill="#f6e619"/>
<rect x="404.8" y="206.0" width="7.4" height="2.4" fill="#f6e619"/>
<rect x="404.2" y="207.2" width="7.8" height="3.4" fill="#f6e619"/>
<rect x="404.0" y="208.4" width="7.8" height="2.1" fill="#f6e619"/>
<rect x="404.1" y="209.6" width="7.6" height="2.4" fill="#f6e619"/>
<rect x="403.4" y="210.8" width="8.1" height="1.7" fill="#f6e619"/>
<rect x="404.9" y="212.0" width="7.9" height="2.3" fill="#f6e619"/>
<rect x="404.4" y="213.2" width="7.7" height="1.8" fill="#f6e619"/>
<rect x="403.2" y="214.4" width="8.4" height="1.8" fill="#f6e619"/>
<rect x="403.3" y="215.6" width="8.5" height="2.8" fill="#f6e619"/>
<rect x="403.9" y="216.8" width="8.4" height="1.7" fill="#f6e619"/>
<rect x="402.6" y="218.0" width="9.3" height="3.3" fill="#f6e619"/>
<rect x="404.2" y="219.2" width="7.6" height="2.1" fill="#f6e619"/>
<rect x="403.7" y="220.4" width="7.9" height="2.9" fill="#f6e619"/>
<rect x="402.6" y="221.6" width="8.4" height="1.8" fill="#f6e619"/>
<rect x="402.8" y="222.8" width="8.8" height="2.9" fill="#f6e619"/>
<rect x="403.6" y="224.0" width="8.4" height="1.6" fill="#f6e619"/>
<rect x="402.2" y="225.2" width="8.1" height="2.8" fill="#f6e619"/>
<rect x="402.5" y="226.4" width="9.1" height="2.6" fill="#f6e619"/>
<rect x="402.3" y="227.6" width="8.4" height="2.1" fill="#f6e619"/>
<rect x="402.4" y="228.8" width="8.1" height="2.8" fill="#f6e619"/>
<rect x="403.0" y="230.0" width="8.3" height="2.2" fill="#f6e619"/>
<rect x="402.2" y="231.2" width="9.2" height="2.2" fill="#f6e619"/>
<rect x="402.1" y="232.4" width="7.7" height="3.3" fill="#f6e619"/>
<rect x="402.7" y="233.6" width="8.7" height="3.3" fill="#f6e619"/>
<rect x="401.4" y="234.8" width="8.9" height="2.9" fill="#f6e619"/>
<rect x="401.7" y="236.0" width="8.3" height="2.3" fill="#f6e619"/>
<rect x="402.3" y="237.2" width="8.1" height="1.6" fill="#f6e619"/>
<rect x="401.0" y="238.4" width="8.7" height="2.0" fill="#f6e619"/>
<rect x="401.1" y="239.6" width="8.2" height="3.0" fill="#f6e619"/>
<rect x="401.3" y="240.8" width="8.2" height="2.4" fill="#f6e619"/>
<rect x="400.1" y="242.0" width="8.8" height="2.4" fill="#f6e619"/>
<rect x="400.5" y="243.2" width="9.0" height="3.2" fill="#f6e619"/>
<rect x="401.2" y="244.4" width="8.4" height="3.1" fill="#f6e619"/>
<rect x="401.7" y="245.6" width="8.8" height="2.9" fill="#f6e619"/>
<rect x="401.4" y="246.8" width="9.7" height="2.3" fill="#f6e619"/>
<rect x="401.2" y="248.0" width="8.8" height="1.9" fill="#f6e619"/>
<rect x="400.4" y="249.2" width="9.2" height="2.9" fill="#f6e619"/>
<rect x="400.9" y="250.4" width="8.6" height="1.9" fill="#f6e619"/>
<rect x="400.4" y="251.6" width="9.2" height="1.7" fill="#f6e619"/>
<rect x="400.4" y="252.8" width="8.5" height="3.1" fill="#f6e619"/>
<rect x="401.4" y="254.0" width="8.6" height="2.8" fill="#f6e619"/>
<rect x="401.7" y="255.2" width="8.1" height="3.0" fill="#f6e619"/>
<rect x="401.2" y="256.4" width="8.9" height="2.8" fill="#f6e619"/>
<rect x="401.3" y="257.6" width="8.7" height="2.3" fill="#f6e619"/>
<rect x="401.1" y="258.8" width="9.1" height="1.7" fill="#f6e619"/>
<rect x="401.0" y="260.0" width="8.4" height="3.3" fill="#f6e619"/>
<rect x="400.5" y="261.2" width="8.1" height="3.0" fill="#f6e619"/>
<rect x="400.6" y="262.4" width="8.8" height="3.3" fill="#f6e619"/>
<rect x="401.9" y="263.6" width="8.1" height="3.4" fill="#f6e619"/>
<rect x="401.1" y="264.8" width="8.7" height="2.8" fill="#f6e619"/>
<rect x="402.0" y="266.0" width="8.1" height="3.0" fill="#f6e619"/>
<rect x="400.0" y="267.2" width="9.1" height="2.6" fill="#f6e619"/>
<rect x="400.5" y="268.4" width="8.0" height="2.6" fill="#f6e619"/>
<rect x="402.3" y="269.6" width="8.6" height="2.4" fill="#f6e619"/>
<rect x="401.4" y="270.8" width="8.7" height="2.0" fill="#f6e619"/>
<rect x="401.5" y="272.0" width="8.6" height="3.4" fill="#f6e619"/>
<rect x="401.4" y="273.2" width="9.0" height="2.8" fill="#f6e619"/>
<rect x="400.7" y="274.4" width="7.9" height="2.6" fill="#f6e619"/>
<rect x="401.9" y="275.6" width="8.5" height="2.3" fill="#f6e619"/>
<rect x="401.6" y="276.8" width="8.2" height="2.4" fill="#f6e619"/>
<rect x="401.8" y="278.0" width="8.4" height="2.8" fill="#f6e619"/>
<rect x="401.1" y="279.2" width="8.9" height="2.4" fill="#f6e619"/>
<rect x="402.5" y="280.4" width="7.4" height="3.0" fill="#f6e619"/>
<rect x="402.4" y="281.6" width="7.6" height="2.4" fill="#f6e619"/>
<rect x="402.3" y="282.8" width="8.2" height="1.7" fill="#f6e619"/>
<rect x="401.7" y="284.0" width="7.0" height="3.2" fill="#f6e619"/>
<rect x="401.2" y="285.2" width="7.6" height="2.7" fill="#f6e619"/>
<rect x="401.8" y="286.4" width="6.6" height="2.2" fill="#f6e619"/>
<rect x="402.8" y="287.6" width="7.3" height="2.5" fill="#f6e619"/>
<rect x="401.8" y="288.8" width="6.4" height="3.1" fill="#f6e619"/>
<rect x="402.7" y="290.0" width="7.1" height="2.8" fill="#f6e619"/>
<rect x="403.0" y="291.2" width="6.6" height="3.3" fill="#f6e619"/>
<rect x="403.5" y="292.4" width="5.6" height="1.9" fill="#f6e619"/>
<rect x="402.0" y="293.6" width="5.7" height="3.1" fill="#f6e619"/>
<rect x="401.8" y="294.8" width="5.5" height="2.9" fill="#f6e619"/>
<rect x="402.9" y="296.0" width="5.6" height="2.5" fill="#f6e619"/>
<rect x="404.4" y="297.2" width="4.3" height="3.2" fill="#f6e619"/>
<rect x="404.8" y="298.4" width="4.1" height="2.8" fill="#f6e619"/>
<rect x="404.0" y="299.6" width="3.0" height="2.2" fill="#f6e619"/>
<rect x="405.0" y="300.8" width="1.9" height="2.7" fill="#f6e619"/>
<ellipse cx="407.6" cy="249.0" rx="0.44" ry="3.0" fill="#22399b" opacity="0.69"/>
<ellipse cx="404.2" cy="283.6" rx="0.53" ry="1.9" fill="#686887" opacity="0.86"/>
<ellipse cx="406.0" cy="200.1" rx="0.54" ry="2.1" fill="#22399b" opacity="0.78"/>
<ellipse cx="407.3" cy="296.2" rx="0.53" ry="3.2" fill="#22399b" opacity="0.72"/>
<ellipse cx="410.8" cy="214.4" rx="0.48" ry="2.4" fill="#22399b" opacity="0.93"/>
<ellipse cx="408.0" cy="285.2" rx="0.80" ry="2.0" fill="#22399b" opacity="0.60"/>
<ellipse cx="403.5" cy="272.2" rx="0.43" ry="1.9" fill="#22399b" opacity="0.61"/>
<ellipse cx="408.8" cy="227.3" rx="0.83" ry="1.8" fill="#22399b" opacity="0.82"/>
<ellipse cx="406.4" cy="212.3" rx="0.48" ry="3.1" fill="#686887" opacity="0.84"/>
<ellipse cx="410.5" cy="218.0" rx="0.40" ry="3.4" fill="#686887" opacity="0.64"/>
<ellipse cx="402.8" cy="255.5" rx="0.89" ry="4.4" fill="#686887" opacity="0.79"/>
<ellipse cx="405.8" cy="234.9" rx="0.56" ry="4.6" fill="#686887" opacity="0.99"/>
<ellipse cx="405.5" cy="280.4" rx="0.45" ry="2.7" fill="#686887" opacity="0.87"/>
<ellipse cx="403.4" cy="237.4" rx="0.40" ry="2.4" fill="#22399b" opacity="0.82"/>
<ellipse cx="405.1" cy="299.5" rx="0.50" ry="1.6" fill="#22399b" opacity="0.71"/>
<ellipse cx="405.7" cy="276.4" rx="0.48" ry="1.7" fill="#686887" opacity="0.81"/>
<ellipse cx="403.0" cy="283.6" rx="0.87" ry="4.8" fill="#22399b" opacity="0.77"/>
<ellipse cx="408.1" cy="236.8" rx="0.69" ry="2.6" fill="#22399b" opacity="0.62"/>
<rect x="414.5" y="296.1" width="5.1" height="2.5" fill="#22399b"/>
<rect x="416.1" y="297.3" width="6.2" height="2.2" fill="#22399b"/>
<rect x="414.0" y="298.5" width="6.7" height="2.7" fill="#22399b"/>
<rect x="415.7" y="299.7" width="6.7" height="4.0" fill="#22399b"/>
<rect x="415.1" y="300.9" width="6.6" height="3.1" fill="#22399b"/>
<rect x="415.7" y="302.1" width="6.8" height="2.2" fill="#22399b"/>
<rect x="415.1" y="303.3" width="8.5" height="3.8" fill="#22399b"/>
<rect x="415.2" y="304.5" width="7.9" height="1.9" fill="#22399b"/>
<rect x="415.9" y="305.7" width="9.5" height="3.9" fill="#22399b"/>
<rect x="415.9" y="306.9" width="9.3" height="4.0" fill="#22399b"/>
<rect x="416.3" y="308.1" width="11.1" height="3.4" fill="#22399b"/>
<rect x="415.4" y="309.3" width="11.0" height="3.3" fill="#22399b"/>
<rect x="415.8" y="310.5" width="12.0" height="4.1" fill="#22399b"/>
<rect x="416.6" y="311.7" width="11.6" height="4.2" fill="#22399b"/>
<rect x="416.9" y="312.9" width="11.5" height="4.2" fill="#22399b"/>
<rect x="415.4" y="314.1" width="13.4" height="2.2" fill="#22399b"/>
<rect x="416.7" y="315.3" width="13.5" height="3.3" fill="#22399b"/>
<rect x="416.6" y="316.5" width="14.8" height="3.2" fill="#22399b"/>
<rect x="416.8" y="317.7" width="14.5" height="1.9" fill="#22399b"/>
<rect x="417.3" y="318.9" width="13.6" height="3.6" fill="#22399b"/>
<rect x="418.0" y="320.1" width="14.8" height="4.0" fill="#22399b"/>
<rect x="417.5" y="321.3" width="16.0" height="1.9" fill="#22399b"/>
<rect x="417.0" y="322.5" width="18.0" height="3.7" fill="#22399b"/>
<rect x="417.9" y="323.7" width="16.9" height="2.3" fill="#22399b"/>
<rect x="417.5" y="324.9" width="18.3" height="3.4" fill="#22399b"/>
<rect x="418.3" y="326.1" width="17.4" height="3.2" fill="#22399b"/>
<rect x="417.8" y="327.3" width="17.6" height="1.9" fill="#22399b"/>
<rect x="418.4" y="328.5" width="18.0" height="4.1" fill="#22399b"/>
<rect x="418.0" y="329.7" width="19.3" height="3.6" fill="#22399b"/>
<ellipse cx="416.2" cy="325.5" rx="0.96" ry="5.8" fill="#22399b" opacity="0.69"/>
<ellipse cx="417.1" cy="322.0" rx="0.73" ry="3.7" fill="#22399b" opacity="0.87"/>
<ellipse cx="428.9" cy="310.6" rx="0.73" ry="2.9" fill="#22399b" opacity="0.78"/>
<ellipse cx="415.8" cy="323.8" rx="0.80" ry="6.0" fill="#22399b" opacity="0.68"/>
<ellipse cx="414.0" cy="313.7" rx="0.87" ry="6.2" fill="#22399b" opacity="0.96"/>
<ellipse cx="412.2" cy="298.6" rx="1.10" ry="5.1" fill="#22399b" opacity="0.88"/>
<ellipse cx="435.1" cy="321.3" rx="0.99" ry="2.6" fill="#22399b" opacity="0.78"/>
<ellipse cx="415.8" cy="321.6" rx="1.05" ry="6.3" fill="#22399b" opacity="0.74"/>
<ellipse cx="413.4" cy="303.3" rx="0.70" ry="3.4" fill="#22399b" opacity="0.89"/>
<ellipse cx="426.4" cy="304.2" rx="0.79" ry="5.3" fill="#22399b" opacity="0.76"/>
<rect x="416.3" y="296.2" width="1.8" height="3.2" fill="#f6e619"/>
<rect x="417.8" y="297.4" width="2.0" height="1.9" fill="#f6e619"/>
<rect x="416.6" y="298.6" width="2.6" height="1.8" fill="#f6e619"/>
<rect x="417.0" y="299.8" width="3.4" height="3.1" fill="#f6e619"/>
<rect x="417.2" y="301.0" width="3.3" height="3.1" fill="#f6e619"/>
<rect x="417.0" y="302.2" width="4.1" height="1.9" fill="#f6e619"/>
<rect x="417.2" y="303.4" width="4.9" height="3.2" fill="#f6e619"/>
<rect x="417.1" y="304.6" width="4.6" height="2.0" fill="#f6e619"/>
<rect x="418.2" y="305.8" width="5.3" height="2.3" fill="#f6e619"/>
<rect x="417.4" y="307.0" width="5.7" height="2.2" fill="#f6e619"/>
<rect x="418.2" y="308.2" width="6.5" height="3.2" fill="#f6e619"/>
<rect x="417.1" y="309.4" width="6.9" height="1.7" fill="#f6e619"/>
<rect x="418.0" y="310.6" width="7.3" height="2.0" fill="#f6e619"/>
<rect x="418.4" y="311.8" width="7.7" height="3.0" fill="#f6e619"/>
<rect x="419.2" y="313.0" width="7.6" height="2.5" fill="#f6e619"/>
<rect x="417.7" y="314.2" width="9.2" height="2.3" fill="#f6e619"/>
<rect x="419.0" y="315.4" width="9.0" height="2.0" fill="#f6e619"/>
<rect x="418.6" y="316.6" width="10.5" height="3.2" fill="#f6e619"/>
<rect x="419.1" y="317.8" width="10.6" height="3.3" fill="#f6e619"/>
<rect x="418.8" y="319.0" width="11.0" height="3.2" fill="#f6e619"/>
<rect x="419.4" y="320.2" width="12.1" height="3.0" fill="#f6e619"/>
<rect x="419.6" y="321.4" width="12.7" height="2.2" fill="#f6e619"/>
<rect x="419.3" y="322.6" width="13.2" height="2.1" fill="#f6e619"/>
<rect x="420.2" y="323.8" width="12.7" height="1.6" fill="#f6e619"/>
<rect x="420.1" y="325.0" width="13.2" height="2.5" fill="#f6e619"/>
<rect x="419.5" y="326.2" width="13.7" height="2.1" fill="#f6e619"/>
<rect x="420.1" y="327.4" width="13.6" height="2.5" fill="#f6e619"/>
<rect x="420.9" y="328.6" width="14.0" height="3.1" fill="#f6e619"/>
<rect x="420.0" y="329.8" width="15.2" height="3.2" fill="#f6e619"/>
</g>
<text x="351.00" y="176.60" font-size="7.2" font-weight="bold" fill="#fff">(107)<tspan dy="1.8" font-size="4.4">O3</tspan></text>
<text x="397.00" y="176.60" font-size="7.2" font-weight="bold" fill="#fff">(018)<tspan dy="1.8" font-size="4.4">O3</tspan></text>
<text x="349.40" y="326.00" font-size="7.2" font-weight="bold" fill="#fff">(107)<tspan dy="1.8" font-size="4.4">O3</tspan></text>
<text x="395.70" y="326.00" font-size="7.2" font-weight="bold" fill="#fff">(018)<tspan dy="1.8" font-size="4.4">O3</tspan></text>
<rect x="347.5" y="165.8" width="88.0" height="164.39999999999998" fill="none" stroke="#3a3a48" stroke-width="0.9"/>
<line x1="350.00" y1="330.20" x2="350.00" y2="332.00" stroke="#333" stroke-width="0.8" />
<line x1="363.40" y1="330.20" x2="363.40" y2="332.00" stroke="#333" stroke-width="0.8" />
<line x1="376.70" y1="330.20" x2="376.70" y2="332.00" stroke="#333" stroke-width="0.8" />
<line x1="405.60" y1="330.20" x2="405.60" y2="332.00" stroke="#333" stroke-width="0.8" />
<line x1="420.00" y1="330.20" x2="420.00" y2="332.00" stroke="#333" stroke-width="0.8" />
<line x1="434.60" y1="330.20" x2="434.60" y2="332.00" stroke="#333" stroke-width="0.8" />
<text x="350.30" y="341.20" font-size="8.6" text-anchor="middle" fill="#231f20" font-weight="normal" transform="translate(350.30,0) scale(0.93,1) translate(-350.30,0)"  >52</text>
<text x="376.70" y="341.20" font-size="8.6" text-anchor="middle" fill="#231f20" font-weight="normal" transform="translate(376.70,0) scale(0.93,1) translate(-376.70,0)"  >53</text>
<text x="406.40" y="341.20" font-size="8.6" text-anchor="middle" fill="#231f20" font-weight="normal" transform="translate(406.40,0) scale(0.93,1) translate(-406.40,0)"  >57</text>
<text x="434.20" y="341.20" font-size="8.6" text-anchor="middle" fill="#231f20" font-weight="normal" transform="translate(434.20,0) scale(0.93,1) translate(-434.20,0)"  >58</text>
<rect x="388.6" y="328.5" width="4" height="4" fill="#fff"/>
<line x1="387.80" y1="332.20" x2="390.20" y2="327.60" stroke="#333" stroke-width="0.8" />
<line x1="390.60" y1="332.20" x2="393.00" y2="327.60" stroke="#333" stroke-width="0.8" />
<defs><linearGradient id="cb385" x1="0" x2="1" y1="0" y2="0"><stop offset="0" stop-color="#f8ea10"/><stop offset="0.22" stop-color="#f6ea30"/><stop offset="0.32" stop-color="#d8c870"/><stop offset="0.42" stop-color="#6a6050"/><stop offset="0.52" stop-color="#383850"/><stop offset="0.62" stop-color="#2a3070"/><stop offset="0.72" stop-color="#2238a0"/><stop offset="0.85" stop-color="#2c44a8"/><stop offset="0.93" stop-color="#4a5aa0"/><stop offset="1" stop-color="#5a6098"/></linearGradient></defs>
<rect x="385.9" y="157.4" width="35.200000000000045" height="6.099999999999994" fill="url(#cb385)" stroke="#777" stroke-width="0.5"/>
<text x="385.10" y="163.61" font-size="7.4" text-anchor="end" fill="#333" font-weight="normal"  >1.92</text>
<text x="421.90" y="163.61" font-size="7.4" text-anchor="start" fill="#333" font-weight="normal"  >1.60</text>
<text x="247.00" y="350.86" font-size="8.5" text-anchor="middle" fill="#231f20" font-weight="normal"  >2θ (°)</text>
<rect x="492.8" y="152.9" width="164.7" height="167.20000000000002" fill="none" stroke="#231f20" stroke-width="1.2"/>
<line x1="492.80" y1="208.40" x2="657.50" y2="208.40" stroke="#231f20" stroke-width="1.2" />
<line x1="492.80" y1="264.10" x2="657.50" y2="264.10" stroke="#231f20" stroke-width="1.2" />
<line x1="497.90" y1="208.40" x2="497.90" y2="206.10" stroke="#231f20" stroke-width="1" />
<line x1="518.42" y1="208.40" x2="518.42" y2="206.10" stroke="#231f20" stroke-width="1" />
<line x1="538.94" y1="208.40" x2="538.94" y2="206.10" stroke="#231f20" stroke-width="1" />
<line x1="559.46" y1="208.40" x2="559.46" y2="206.10" stroke="#231f20" stroke-width="1" />
<line x1="600.50" y1="208.40" x2="600.50" y2="206.10" stroke="#231f20" stroke-width="1" />
<line x1="621.02" y1="208.40" x2="621.02" y2="206.10" stroke="#231f20" stroke-width="1" />
<line x1="641.54" y1="208.40" x2="641.54" y2="206.10" stroke="#231f20" stroke-width="1" />
<rect x="581.8" y="207.4" width="3.6" height="2" fill="#fff"/>
<line x1="580.60" y1="211.80" x2="583.40" y2="205.00" stroke="#231f20" stroke-width="1.1" />
<line x1="584.20" y1="211.80" x2="587.00" y2="205.00" stroke="#231f20" stroke-width="1.1" />
<line x1="497.90" y1="264.10" x2="497.90" y2="261.80" stroke="#231f20" stroke-width="1" />
<line x1="518.42" y1="264.10" x2="518.42" y2="261.80" stroke="#231f20" stroke-width="1" />
<line x1="538.94" y1="264.10" x2="538.94" y2="261.80" stroke="#231f20" stroke-width="1" />
<line x1="559.46" y1="264.10" x2="559.46" y2="261.80" stroke="#231f20" stroke-width="1" />
<line x1="600.50" y1="264.10" x2="600.50" y2="261.80" stroke="#231f20" stroke-width="1" />
<line x1="621.02" y1="264.10" x2="621.02" y2="261.80" stroke="#231f20" stroke-width="1" />
<line x1="641.54" y1="264.10" x2="641.54" y2="261.80" stroke="#231f20" stroke-width="1" />
<rect x="581.8" y="263.1" width="3.6" height="2" fill="#fff"/>
<line x1="580.60" y1="267.50" x2="583.40" y2="260.70" stroke="#231f20" stroke-width="1.1" />
<line x1="584.20" y1="267.50" x2="587.00" y2="260.70" stroke="#231f20" stroke-width="1.1" />
<line x1="497.90" y1="320.10" x2="497.90" y2="317.80" stroke="#231f20" stroke-width="1" />
<line x1="518.42" y1="320.10" x2="518.42" y2="317.80" stroke="#231f20" stroke-width="1" />
<line x1="538.94" y1="320.10" x2="538.94" y2="317.80" stroke="#231f20" stroke-width="1" />
<line x1="559.46" y1="320.10" x2="559.46" y2="317.80" stroke="#231f20" stroke-width="1" />
<line x1="600.50" y1="320.10" x2="600.50" y2="317.80" stroke="#231f20" stroke-width="1" />
<line x1="621.02" y1="320.10" x2="621.02" y2="317.80" stroke="#231f20" stroke-width="1" />
<line x1="641.54" y1="320.10" x2="641.54" y2="317.80" stroke="#231f20" stroke-width="1" />
<rect x="581.8" y="319.1" width="3.6" height="2" fill="#fff"/>
<line x1="580.60" y1="323.50" x2="583.40" y2="316.70" stroke="#231f20" stroke-width="1.1" />
<line x1="584.20" y1="323.50" x2="587.00" y2="316.70" stroke="#231f20" stroke-width="1.1" />
<text x="499.90" y="330.40" font-size="8.6" text-anchor="middle" fill="#231f20" font-weight="normal" transform="translate(499.90,0) scale(0.93,1) translate(-499.90,0)"  >0.67</text>
<text x="538.94" y="330.40" font-size="8.6" text-anchor="middle" fill="#231f20" font-weight="normal" transform="translate(538.94,0) scale(0.93,1) translate(-538.94,0)"  >0.47</text>
<text x="577.38" y="330.40" font-size="8.6" text-anchor="middle" fill="#231f20" font-weight="normal" transform="translate(577.38,0) scale(0.93,1) translate(-577.38,0)"  >0.27</text>
<text x="600.50" y="330.40" font-size="8.6" text-anchor="middle" fill="#231f20" font-weight="normal" transform="translate(600.50,0) scale(0.93,1) translate(-600.50,0)"  >0.37</text>
<text x="641.54" y="330.40" font-size="8.6" text-anchor="middle" fill="#231f20" font-weight="normal" transform="translate(641.54,0) scale(0.93,1) translate(-641.54,0)"  >0.57</text>
<line x1="492.80" y1="157.10" x2="495.30" y2="157.10" stroke="#231f20" stroke-width="1" />
<text x="489.60" y="160.20" font-size="8.6" text-anchor="end" fill="#231f20" font-weight="normal" transform="translate(489.60,0) scale(0.93,1) translate(-489.60,0)"  >2.96</text>
<line x1="492.80" y1="168.00" x2="494.30" y2="168.00" stroke="#231f20" stroke-width="1" />
<line x1="492.80" y1="178.90" x2="495.30" y2="178.90" stroke="#231f20" stroke-width="1" />
<text x="489.60" y="182.00" font-size="8.6" text-anchor="end" fill="#231f20" font-weight="normal" transform="translate(489.60,0) scale(0.93,1) translate(-489.60,0)"  >2.92</text>
<line x1="492.80" y1="189.40" x2="494.30" y2="189.40" stroke="#231f20" stroke-width="1" />
<line x1="492.80" y1="199.80" x2="495.30" y2="199.80" stroke="#231f20" stroke-width="1" />
<text x="489.60" y="202.90" font-size="8.6" text-anchor="end" fill="#231f20" font-weight="normal" transform="translate(489.60,0) scale(0.93,1) translate(-489.60,0)"  >2.88</text>
<line x1="492.80" y1="227.10" x2="495.30" y2="227.10" stroke="#231f20" stroke-width="1" />
<text x="489.60" y="230.20" font-size="8.6" text-anchor="end" fill="#231f20" font-weight="normal" transform="translate(489.60,0) scale(0.93,1) translate(-489.60,0)"  >16.8</text>
<line x1="492.80" y1="245.50" x2="495.30" y2="245.50" stroke="#231f20" stroke-width="1" />
<text x="489.60" y="248.60" font-size="8.6" text-anchor="end" fill="#231f20" font-weight="normal" transform="translate(489.60,0) scale(0.93,1) translate(-489.60,0)"  >16.5</text>
<line x1="492.80" y1="217.90" x2="494.30" y2="217.90" stroke="#231f20" stroke-width="1" />
<line x1="492.80" y1="236.30" x2="494.30" y2="236.30" stroke="#231f20" stroke-width="1" />
<line x1="492.80" y1="254.70" x2="494.30" y2="254.70" stroke="#231f20" stroke-width="1" />
<line x1="492.80" y1="275.50" x2="495.30" y2="275.50" stroke="#231f20" stroke-width="1" />
<text x="489.60" y="278.60" font-size="8.6" text-anchor="end" fill="#231f20" font-weight="normal" transform="translate(489.60,0) scale(0.93,1) translate(-489.60,0)"  >124</text>
<line x1="492.80" y1="297.70" x2="495.30" y2="297.70" stroke="#231f20" stroke-width="1" />
<text x="489.60" y="300.80" font-size="8.6" text-anchor="end" fill="#231f20" font-weight="normal" transform="translate(489.60,0) scale(0.93,1) translate(-489.60,0)"  >122</text>
<line x1="492.80" y1="319.00" x2="495.30" y2="319.00" stroke="#231f20" stroke-width="1" />
<text x="489.60" y="322.10" font-size="8.6" text-anchor="end" fill="#231f20" font-weight="normal" transform="translate(489.60,0) scale(0.93,1) translate(-489.60,0)"  >120</text>
<line x1="492.80" y1="286.60" x2="494.30" y2="286.60" stroke="#231f20" stroke-width="1" />
<line x1="492.80" y1="308.30" x2="494.30" y2="308.30" stroke="#231f20" stroke-width="1" />
<text x="465.70" y="183.06" font-size="9.6" text-anchor="middle" fill="#231f20" font-weight="normal" transform="rotate(-90 465.70 179.60)"  >a (Å)</text>
<text x="465.70" y="234.06" font-size="9.6" text-anchor="middle" fill="#231f20" font-weight="normal" transform="rotate(-90 465.70 230.60)"  >c (Å)</text>
<text x="465.70" y="287.46" font-size="9.6" text-anchor="middle" fill="#231f20" font-weight="normal" transform="rotate(-90 465.70 284.00)"  >V (Å<tspan dy="-3" font-size="6">3</tspan><tspan dy="3">)</tspan></text>
<text x="461.80" y="160.26" font-size="11" text-anchor="start" fill="#231f20" font-weight="bold"  >e</text>
<polyline points="497.9,162.4 508.2,165.2 518.4,168.5" fill="none" stroke="#3b59a8" stroke-width="0.9"/>
<rect x="495.80" y="160.30" width="4.2" height="4.2" fill="#3b59a8"/>
<rect x="506.06" y="163.10" width="4.2" height="4.2" fill="#3b59a8"/>
<rect x="516.32" y="166.40" width="4.2" height="4.2" fill="#3b59a8"/>
<polyline points="631.3,164.3 641.5,162.8 651.8,160.5" fill="none" stroke="#3b59a8" stroke-width="0.9"/>
<rect x="629.18" y="162.20" width="4.2" height="4.2" fill="#3b59a8"/>
<rect x="639.44" y="160.70" width="4.2" height="4.2" fill="#3b59a8"/>
<rect x="649.70" y="158.40" width="4.2" height="4.2" fill="#3b59a8"/>
<polyline points="508.2,184.0 518.4,185.2 528.7,186.5 538.9,188.4 549.2,192.6 559.5,195.0 569.7,197.3 580.0,200.4 590.2,193.5 600.5,190.3 610.8,186.5 621.0,184.6 631.3,183.3 641.5,184.0" fill="none" stroke="#b3283c" stroke-width="0.9"/>
<circle cx="508.16" cy="184.00" r="2.5" fill="#b3283c"/>
<circle cx="518.42" cy="185.20" r="2.5" fill="#b3283c"/>
<circle cx="528.68" cy="186.50" r="2.5" fill="#b3283c"/>
<circle cx="538.94" cy="188.40" r="2.5" fill="#b3283c"/>
<circle cx="549.20" cy="192.60" r="2.5" fill="#b3283c"/>
<circle cx="559.46" cy="195.00" r="2.5" fill="#b3283c"/>
<circle cx="569.72" cy="197.30" r="2.5" fill="#b3283c"/>
<circle cx="579.98" cy="200.40" r="2.5" fill="#b3283c"/>
<circle cx="590.24" cy="193.50" r="2.5" fill="#b3283c"/>
<circle cx="600.50" cy="190.30" r="2.5" fill="#b3283c"/>
<circle cx="610.76" cy="186.50" r="2.5" fill="#b3283c"/>
<circle cx="621.02" cy="184.60" r="2.5" fill="#b3283c"/>
<circle cx="631.28" cy="183.30" r="2.5" fill="#b3283c"/>
<circle cx="641.54" cy="184.00" r="2.5" fill="#b3283c"/>
<polyline points="497.9,253.5 508.2,247.8 518.4,245.9" fill="none" stroke="#3b59a8" stroke-width="0.9"/>
<rect x="495.80" y="251.40" width="4.2" height="4.2" fill="#3b59a8"/>
<rect x="506.06" y="245.70" width="4.2" height="4.2" fill="#3b59a8"/>
<rect x="516.32" y="243.80" width="4.2" height="4.2" fill="#3b59a8"/>
<polyline points="631.3,250.3 641.5,253.5 651.8,255.0" fill="none" stroke="#3b59a8" stroke-width="0.9"/>
<rect x="629.18" y="248.20" width="4.2" height="4.2" fill="#3b59a8"/>
<rect x="639.44" y="251.40" width="4.2" height="4.2" fill="#3b59a8"/>
<rect x="649.70" y="252.90" width="4.2" height="4.2" fill="#3b59a8"/>
<polyline points="508.2,230.4 518.4,229.4 528.7,227.9 538.9,225.2 549.2,222.4 559.5,220.3 569.7,218.6 580.0,219.9 590.2,222.2 600.5,224.7 610.8,228.1 621.0,230.0 631.3,231.3 641.5,231.7" fill="none" stroke="#b3283c" stroke-width="0.9"/>
<circle cx="508.16" cy="230.40" r="2.5" fill="#b3283c"/>
<circle cx="518.42" cy="229.40" r="2.5" fill="#b3283c"/>
<circle cx="528.68" cy="227.90" r="2.5" fill="#b3283c"/>
<circle cx="538.94" cy="225.20" r="2.5" fill="#b3283c"/>
<circle cx="549.20" cy="222.40" r="2.5" fill="#b3283c"/>
<circle cx="559.46" cy="220.30" r="2.5" fill="#b3283c"/>
<circle cx="569.72" cy="218.60" r="2.5" fill="#b3283c"/>
<circle cx="579.98" cy="219.90" r="2.5" fill="#b3283c"/>
<circle cx="590.24" cy="222.20" r="2.5" fill="#b3283c"/>
<circle cx="600.50" cy="224.70" r="2.5" fill="#b3283c"/>
<circle cx="610.76" cy="228.10" r="2.5" fill="#b3283c"/>
<circle cx="621.02" cy="230.00" r="2.5" fill="#b3283c"/>
<circle cx="631.28" cy="231.30" r="2.5" fill="#b3283c"/>
<circle cx="641.54" cy="231.70" r="2.5" fill="#b3283c"/>
<polyline points="497.9,280.0 508.2,280.0" fill="none" stroke="#3b59a8" stroke-width="0.9"/>
<path d="M497.90,276.70 L501.20,282.40 L494.60,282.40 Z" fill="#3b59a8"/>
<path d="M508.16,276.70 L511.46,282.40 L504.86,282.40 Z" fill="#3b59a8"/>
<polyline points="641.5,284.4 651.8,279.7" fill="none" stroke="#3b59a8" stroke-width="0.9"/>
<path d="M641.54,281.10 L644.84,286.80 L638.24,286.80 Z" fill="#3b59a8"/>
<path d="M651.80,276.40 L655.10,282.10 L648.50,282.10 Z" fill="#3b59a8"/>
<polyline points="508.2,280.0 518.4,285.7 528.7,288.8 538.9,288.8 549.2,292.2 559.5,293.7 569.7,296.3 580.0,304.0 590.2,293.9 600.5,291.4 610.8,289.5 621.0,288.6 631.3,284.0 641.5,284.4" fill="none" stroke="#b3283c" stroke-width="0.9"/>
<path d="M508.16,276.70 L511.46,282.40 L504.86,282.40 Z" fill="#b3283c"/>
<path d="M518.42,282.40 L521.72,288.10 L515.12,288.10 Z" fill="#b3283c"/>
<path d="M528.68,285.50 L531.98,291.20 L525.38,291.20 Z" fill="#b3283c"/>
<path d="M538.94,285.50 L542.24,291.20 L535.64,291.20 Z" fill="#b3283c"/>
<path d="M549.20,288.90 L552.50,294.60 L545.90,294.60 Z" fill="#b3283c"/>
<path d="M559.46,290.40 L562.76,296.10 L556.16,296.10 Z" fill="#b3283c"/>
<path d="M569.72,293.00 L573.02,298.70 L566.42,298.70 Z" fill="#b3283c"/>
<path d="M579.98,300.70 L583.28,306.40 L576.68,306.40 Z" fill="#b3283c"/>
<path d="M590.24,290.60 L593.54,296.30 L586.94,296.30 Z" fill="#b3283c"/>
<path d="M600.50,288.10 L603.80,293.80 L597.20,293.80 Z" fill="#b3283c"/>
<path d="M610.76,286.20 L614.06,291.90 L607.46,291.90 Z" fill="#b3283c"/>
<path d="M621.02,285.30 L624.32,291.00 L617.72,291.00 Z" fill="#b3283c"/>
<path d="M631.28,280.70 L634.58,286.40 L627.98,286.40 Z" fill="#b3283c"/>
<path d="M641.54,281.10 L644.84,286.80 L638.24,286.80 Z" fill="#b3283c"/>
<rect x="615.2" y="303.6" width="4.6" height="4.6" fill="#b3283c"/>
<rect x="615.2" y="311.2" width="4.6" height="4.6" fill="#3b59a8"/>
<text x="622.20" y="308.92" font-size="8.4" text-anchor="start" fill="#231f20" font-weight="normal"  >P  Phase</text>
<text x="622.20" y="316.52" font-size="8.4" text-anchor="start" fill="#231f20" font-weight="normal"  >O Phase</text>
<text x="574.3" y="342.07" font-size="8.8" text-anchor="middle" fill="#231f20"><tspan font-style="italic">x</tspan><tspan> in Na</tspan><tspan dy="2.1" font-size="5.3">x</tspan><tspan dy="-2.1">Ni</tspan><tspan dy="2.1" font-size="5.3">0.18</tspan><tspan dy="-2.1">Cu</tspan><tspan dy="2.1" font-size="5.3">0.18</tspan><tspan dy="-2.1">Co</tspan><tspan dy="2.1" font-size="5.3">0.15</tspan><tspan dy="-2.1">Fe</tspan><tspan dy="2.1" font-size="5.3">0.15</tspan><tspan dy="-2.1">Mn</tspan><tspan dy="2.1" font-size="5.3">0.17</tspan><tspan dy="-2.1">Ti</tspan><tspan dy="2.1" font-size="5.3">0.17</tspan><tspan dy="-2.1">O</tspan><tspan dy="2.1" font-size="5.3">2</tspan></text>
<defs><linearGradient id="pk" x1="0" x2="0" y1="0" y2="1"><stop offset="0" stop-color="#fcf9f9"/><stop offset="0.5" stop-color="#f9f2f2"/><stop offset="1" stop-color="#f5e9ea"/></linearGradient></defs>
<path d="M41.00,422.10 C42.00,421.63 45.00,420.08 47.00,419.30 C49.00,418.52 51.02,417.92 53.00,417.40 C54.98,416.88 56.07,416.60 58.90,416.20 C61.73,415.80 66.48,415.37 70.00,415.00 C73.52,414.63 76.95,414.32 80.00,414.00 C83.05,413.68 85.80,413.60 88.30,413.10 C90.80,412.60 92.93,411.72 95.00,411.00 C97.07,410.28 97.03,410.20 100.70,408.80 C104.37,407.40 111.40,404.67 117.00,402.60 C122.60,400.53 128.63,398.40 134.30,396.40 C139.97,394.40 145.40,392.45 151.00,390.60 C156.60,388.75 162.23,387.07 167.90,385.30 C173.57,383.53 179.40,381.67 185.00,380.00 C190.60,378.33 196.50,376.72 201.50,375.30 C206.50,373.88 210.53,372.63 215.00,371.50 C219.47,370.37 225.45,369.15 228.30,368.50 C231.15,367.85 231.47,367.75 232.10,367.60 L232.10,367.60 C233.42,368.20 237.02,369.87 240.00,371.20 C242.98,372.53 245.00,373.80 250.00,375.60 C255.00,377.40 263.33,379.90 270.00,382.00 C276.67,384.10 283.47,386.13 290.00,388.20 C296.53,390.27 302.53,392.02 309.20,394.40 C315.87,396.78 323.60,399.78 330.00,402.50 C336.40,405.22 342.27,408.20 347.60,410.70 C352.93,413.20 357.55,415.50 362.00,417.50 C366.45,419.50 371.42,421.47 374.30,422.70 C377.18,423.93 377.35,424.25 379.30,424.90 C381.25,425.55 383.88,426.17 386.00,426.60 C388.12,427.03 389.67,427.23 392.00,427.50 C394.33,427.77 397.63,427.95 400.00,428.20 C402.37,428.45 404.37,428.67 406.20,429.00 C408.03,429.33 409.53,429.70 411.00,430.20 C412.47,430.70 413.92,431.28 415.00,432.00 C416.08,432.72 416.80,433.17 417.50,434.50 C418.20,435.83 418.73,437.75 419.20,440.00 C419.67,442.25 420.00,445.33 420.30,448.00 C420.60,450.67 420.78,453.35 421.00,456.00 C421.22,458.65 421.50,462.58 421.60,463.90 L421.6,473.6 L41,473.6 Z" fill="url(#pk)"/>
<rect x="41" y="416.1" width="17.8" height="57.5" fill="#c8d0ec"/>
<rect x="405.9" y="429" width="15.7" height="45.3" fill="#c8d0ec"/>
<line x1="29.40" y1="355.00" x2="29.40" y2="475.40" stroke="#231f20" stroke-width="1.2" />
<line x1="29.40" y1="475.40" x2="450.00" y2="475.40" stroke="#231f20" stroke-width="1.2" />
<line x1="29.40" y1="475.65" x2="30.90" y2="475.65" stroke="#231f20" stroke-width="1" />
<line x1="29.40" y1="463.60" x2="31.90" y2="463.60" stroke="#231f20" stroke-width="1" />
<text x="26.60" y="466.70" font-size="8.6" text-anchor="end" fill="#231f20" font-weight="normal" transform="translate(26.60,0) scale(0.93,1) translate(-26.60,0)"  >2.0</text>
<line x1="29.40" y1="451.55" x2="30.90" y2="451.55" stroke="#231f20" stroke-width="1" />
<line x1="29.40" y1="439.50" x2="31.90" y2="439.50" stroke="#231f20" stroke-width="1" />
<text x="26.60" y="442.60" font-size="8.6" text-anchor="end" fill="#231f20" font-weight="normal" transform="translate(26.60,0) scale(0.93,1) translate(-26.60,0)"  >2.5</text>
<line x1="29.40" y1="427.45" x2="30.90" y2="427.45" stroke="#231f20" stroke-width="1" />
<line x1="29.40" y1="415.40" x2="31.90" y2="415.40" stroke="#231f20" stroke-width="1" />
<text x="26.60" y="418.50" font-size="8.6" text-anchor="end" fill="#231f20" font-weight="normal" transform="translate(26.60,0) scale(0.93,1) translate(-26.60,0)"  >3.0</text>
<line x1="29.40" y1="403.35" x2="30.90" y2="403.35" stroke="#231f20" stroke-width="1" />
<line x1="29.40" y1="391.30" x2="31.90" y2="391.30" stroke="#231f20" stroke-width="1" />
<text x="26.60" y="394.40" font-size="8.6" text-anchor="end" fill="#231f20" font-weight="normal" transform="translate(26.60,0) scale(0.93,1) translate(-26.60,0)"  >3.5</text>
<line x1="29.40" y1="379.25" x2="30.90" y2="379.25" stroke="#231f20" stroke-width="1" />
<line x1="29.40" y1="367.20" x2="31.90" y2="367.20" stroke="#231f20" stroke-width="1" />
<text x="26.60" y="370.30" font-size="8.6" text-anchor="end" fill="#231f20" font-weight="normal" transform="translate(26.60,0) scale(0.93,1) translate(-26.60,0)"  >4.0</text>
<rect x="231.4" y="468.5" width="4.4" height="13" fill="#fff"/>
<line x1="232.40" y1="468.90" x2="232.40" y2="481.20" stroke="#231f20" stroke-width="1.4" />
<line x1="234.70" y1="468.90" x2="234.70" y2="481.20" stroke="#231f20" stroke-width="1.4" />
<text x="38.60" y="483.70" font-size="8.6" text-anchor="middle" fill="#231f20" font-weight="normal" transform="translate(38.60,0) scale(0.93,1) translate(-38.60,0)"  >0</text>
<text x="231.10" y="483.40" font-size="8.6" text-anchor="end" fill="#231f20" font-weight="normal" transform="translate(231.10,0) scale(0.93,1) translate(-231.10,0)"  >93.4</text>
<text x="239.40" y="483.40" font-size="8.6" text-anchor="middle" fill="#231f20" font-weight="normal" transform="translate(239.40,0) scale(0.93,1) translate(-239.40,0)"  >0</text>
<text x="424.60" y="483.40" font-size="8.6" text-anchor="middle" fill="#231f20" font-weight="normal" transform="translate(424.60,0) scale(0.93,1) translate(-424.60,0)"  >86.5</text>
<text x="234.50" y="494.90" font-size="8.6" text-anchor="middle" fill="#231f20" font-weight="normal"  >Specific capacity (mA h g<tspan dy="-3" font-size="5.6">-1</tspan><tspan dy="3">)</tspan></text>
<text x="5.40" y="420.70" font-size="8.9" text-anchor="middle" fill="#231f20" font-weight="normal" transform="rotate(-90 5.40 417.50)"  >Voltage (V)</text>
<text x="14.00" y="360.26" font-size="11" text-anchor="start" fill="#231f20" font-weight="bold"  >f</text>
<path d="M41.00,422.10 C42.00,421.63 45.00,420.08 47.00,419.30 C49.00,418.52 51.02,417.92 53.00,417.40 C54.98,416.88 56.07,416.60 58.90,416.20 C61.73,415.80 66.48,415.37 70.00,415.00 C73.52,414.63 76.95,414.32 80.00,414.00 C83.05,413.68 85.80,413.60 88.30,413.10 C90.80,412.60 92.93,411.72 95.00,411.00 C97.07,410.28 97.03,410.20 100.70,408.80 C104.37,407.40 111.40,404.67 117.00,402.60 C122.60,400.53 128.63,398.40 134.30,396.40 C139.97,394.40 145.40,392.45 151.00,390.60 C156.60,388.75 162.23,387.07 167.90,385.30 C173.57,383.53 179.40,381.67 185.00,380.00 C190.60,378.33 196.50,376.72 201.50,375.30 C206.50,373.88 210.53,372.63 215.00,371.50 C219.47,370.37 225.45,369.15 228.30,368.50 C231.15,367.85 231.47,367.75 232.10,367.60" stroke="#b0283a" stroke-width="1.6" fill="none" />
<path d="M232.10,367.60 C233.42,368.20 237.02,369.87 240.00,371.20 C242.98,372.53 245.00,373.80 250.00,375.60 C255.00,377.40 263.33,379.90 270.00,382.00 C276.67,384.10 283.47,386.13 290.00,388.20 C296.53,390.27 302.53,392.02 309.20,394.40 C315.87,396.78 323.60,399.78 330.00,402.50 C336.40,405.22 342.27,408.20 347.60,410.70 C352.93,413.20 357.55,415.50 362.00,417.50 C366.45,419.50 371.42,421.47 374.30,422.70 C377.18,423.93 377.35,424.25 379.30,424.90 C381.25,425.55 383.88,426.17 386.00,426.60 C388.12,427.03 389.67,427.23 392.00,427.50 C394.33,427.77 397.63,427.95 400.00,428.20 C402.37,428.45 404.37,428.67 406.20,429.00 C408.03,429.33 409.53,429.70 411.00,430.20 C412.47,430.70 413.92,431.28 415.00,432.00 C416.08,432.72 416.80,433.17 417.50,434.50 C418.20,435.83 418.73,437.75 419.20,440.00 C419.67,442.25 420.00,445.33 420.30,448.00 C420.60,450.67 420.78,453.35 421.00,456.00 C421.22,458.65 421.50,462.58 421.60,463.90" stroke="#b0283a" stroke-width="1.6" fill="none" />
<ellipse cx="59.8" cy="415.6" rx="5.4" ry="3.4" fill="none" stroke="#4a78c8" stroke-width="1"/>
<ellipse cx="88.3" cy="413.1" rx="5.4" ry="3.4" fill="none" stroke="#b0283a" stroke-width="1"/>
<ellipse cx="232.2" cy="367" rx="5.4" ry="3.4" fill="none" stroke="#b0283a" stroke-width="1"/>
<ellipse cx="379.3" cy="424.9" rx="5.4" ry="3.4" fill="none" stroke="#b0283a" stroke-width="1"/>
<ellipse cx="406.2" cy="428.6" rx="5.4" ry="3.4" fill="none" stroke="#4a78c8" stroke-width="1"/>
<line x1="105.90" y1="394.30" x2="185.00" y2="370.10" stroke="#5b8bd0" stroke-width="1.1" />
<path d="M192.4,367.8 L180.9,367.7 L184.8,370.2 L182.9,374.4 Z" fill="#5b8bd0"/>
<line x1="264.20" y1="368.30" x2="358.50" y2="403.00" stroke="#5b8bd0" stroke-width="1.1" />
<path d="M365.8,405.7 L356.7,398.6 L358.3,402.9 L354.3,405.2 Z" fill="#5b8bd0"/>
<text x="144.30" y="378.77" font-size="8.8" text-anchor="middle" fill="#231f20" font-weight="normal" transform="rotate(-19 144.30 375.60)"  >Charging</text>
<text x="317.20" y="384.93" font-size="8.7" text-anchor="middle" fill="#231f20" font-weight="normal" transform="rotate(20.5 317.20 381.80)"  >Discharging</text>
<line x1="422.20" y1="475.30" x2="422.20" y2="472.60" stroke="#231f20" stroke-width="1" />
<text x="43.50" y="399.32" font-size="7.0" text-anchor="start" fill="#222" font-weight="normal"  >Rapid phase</text>
<text x="43.50" y="406.92" font-size="7.0" text-anchor="start" fill="#222" font-weight="normal"  >transition</text>
<text x="49.30" y="456.88" font-size="9.1" text-anchor="middle" fill="#231f20" font-weight="normal" transform="rotate(-90 49.30 453.60)"  >O Phase</text>
<text x="413.00" y="459.78" font-size="9.1" text-anchor="middle" fill="#231f20" font-weight="normal" transform="rotate(-90 413.00 456.50)"  >O Phase</text>
<path d="M263.80,415.60 L263.80,421.80 A35,12 0 0 1 201.22,429.19 L201.22,422.99 A35,12 0 0 0 263.80,415.60 Z" fill="#cc9cb0" stroke="#fff" stroke-width="0.7"/>
<path d="M228.80,415.60 L194.91,412.60 A35,12 0 1 1 201.22,422.99 Z" fill="#d5a6b8" stroke="#fff" stroke-width="0.8"/>
<path d="M199.92,423.19 L199.92,429.39 A35,12 0 0 1 192.50,422.00 L192.50,415.80 A35,12 0 0 0 199.92,423.19 Z" fill="#4a6cb8" stroke="#fff" stroke-width="0.6"/>
<path d="M227.50,415.80 L199.92,423.19 A35,12 0 0 1 193.61,412.80 Z" fill="#5b80c8" stroke="#fff" stroke-width="0.7"/>
<text x="232.20" y="447.36" font-size="8.5" text-anchor="middle" fill="#222" font-weight="normal"  >86.35%</text>
<text x="228.70" y="461.16" font-size="8.5" text-anchor="middle" fill="#c03448" font-weight="normal"  >P3 Phase</text>
<rect x="496.4" y="347" width="159.10000000000002" height="128.3" fill="none" stroke="#231f20" stroke-width="1.2"/>
<line x1="496.40" y1="469.10" x2="498.90" y2="469.10" stroke="#231f20" stroke-width="1" />
<text x="493.60" y="472.20" font-size="8.6" text-anchor="end" fill="#231f20" font-weight="normal" transform="translate(493.60,0) scale(0.93,1) translate(-493.60,0)"  >-0.050</text>
<line x1="496.40" y1="455.25" x2="497.90" y2="455.25" stroke="#231f20" stroke-width="1" />
<line x1="496.40" y1="441.40" x2="498.90" y2="441.40" stroke="#231f20" stroke-width="1" />
<text x="493.60" y="444.50" font-size="8.6" text-anchor="end" fill="#231f20" font-weight="normal" transform="translate(493.60,0) scale(0.93,1) translate(-493.60,0)"  >-0.025</text>
<line x1="496.40" y1="427.55" x2="497.90" y2="427.55" stroke="#231f20" stroke-width="1" />
<line x1="496.40" y1="413.70" x2="498.90" y2="413.70" stroke="#231f20" stroke-width="1" />
<text x="493.60" y="416.80" font-size="8.6" text-anchor="end" fill="#231f20" font-weight="normal" transform="translate(493.60,0) scale(0.93,1) translate(-493.60,0)"  >0.000</text>
<line x1="496.40" y1="399.85" x2="497.90" y2="399.85" stroke="#231f20" stroke-width="1" />
<line x1="496.40" y1="386.00" x2="498.90" y2="386.00" stroke="#231f20" stroke-width="1" />
<text x="493.60" y="389.10" font-size="8.6" text-anchor="end" fill="#231f20" font-weight="normal" transform="translate(493.60,0) scale(0.93,1) translate(-493.60,0)"  >0.025</text>
<line x1="496.40" y1="372.15" x2="497.90" y2="372.15" stroke="#231f20" stroke-width="1" />
<line x1="496.40" y1="358.30" x2="498.90" y2="358.30" stroke="#231f20" stroke-width="1" />
<text x="493.60" y="361.40" font-size="8.6" text-anchor="end" fill="#231f20" font-weight="normal" transform="translate(493.60,0) scale(0.93,1) translate(-493.60,0)"  >0.050</text>
<line x1="501.20" y1="475.30" x2="501.20" y2="472.80" stroke="#231f20" stroke-width="1" />
<text x="501.20" y="483.70" font-size="8.6" text-anchor="middle" fill="#231f20" font-weight="normal" transform="translate(501.20,0) scale(0.93,1) translate(-501.20,0)"  >2.0</text>
<line x1="519.99" y1="475.30" x2="519.99" y2="473.80" stroke="#231f20" stroke-width="1" />
<line x1="538.77" y1="475.30" x2="538.77" y2="472.80" stroke="#231f20" stroke-width="1" />
<text x="538.77" y="483.70" font-size="8.6" text-anchor="middle" fill="#231f20" font-weight="normal" transform="translate(538.77,0) scale(0.93,1) translate(-538.77,0)"  >2.5</text>
<line x1="557.56" y1="475.30" x2="557.56" y2="473.80" stroke="#231f20" stroke-width="1" />
<line x1="576.35" y1="475.30" x2="576.35" y2="472.80" stroke="#231f20" stroke-width="1" />
<text x="576.35" y="483.70" font-size="8.6" text-anchor="middle" fill="#231f20" font-weight="normal" transform="translate(576.35,0) scale(0.93,1) translate(-576.35,0)"  >3.0</text>
<line x1="595.14" y1="475.30" x2="595.14" y2="473.80" stroke="#231f20" stroke-width="1" />
<line x1="613.92" y1="475.30" x2="613.92" y2="472.80" stroke="#231f20" stroke-width="1" />
<text x="613.92" y="483.70" font-size="8.6" text-anchor="middle" fill="#231f20" font-weight="normal" transform="translate(613.92,0) scale(0.93,1) translate(-613.92,0)"  >3.5</text>
<line x1="632.71" y1="475.30" x2="632.71" y2="473.80" stroke="#231f20" stroke-width="1" />
<line x1="651.50" y1="475.30" x2="651.50" y2="472.80" stroke="#231f20" stroke-width="1" />
<text x="651.50" y="483.70" font-size="8.6" text-anchor="middle" fill="#231f20" font-weight="normal" transform="translate(651.50,0) scale(0.93,1) translate(-651.50,0)"  >4.0</text>
<text x="578.80" y="494.62" font-size="9.5" text-anchor="middle" fill="#231f20" font-weight="normal"  >Voltage (V)</text>
<text x="466.00" y="414.76" font-size="9.6" text-anchor="middle" fill="#231f20" font-weight="normal" transform="rotate(-90 466.00 411.30)"  >Current (mA)</text>
<text x="461.50" y="359.76" font-size="11" text-anchor="start" fill="#231f20" font-weight="bold"  >g</text>
<path d="M499.30,433.50 C499.92,432.58 501.72,429.87 503.00,428.00 C504.28,426.13 505.33,424.30 507.00,422.30 C508.67,420.30 510.98,417.80 513.00,416.00 C515.02,414.20 517.10,412.53 519.10,411.50 C521.10,410.47 523.00,410.18 525.00,409.80 C527.00,409.42 529.10,409.33 531.10,409.20 C533.10,409.07 534.98,409.13 537.00,409.00 C539.02,408.87 541.37,408.67 543.20,408.40 C545.03,408.13 546.60,407.88 548.00,407.40 C549.40,406.92 550.52,406.48 551.60,405.50 C552.68,404.52 553.52,403.50 554.50,401.50 C555.48,399.50 556.58,395.83 557.50,393.50 C558.42,391.17 559.18,389.02 560.00,387.50 C560.82,385.98 561.65,384.77 562.40,384.40 C563.15,384.03 563.77,384.62 564.50,385.30 C565.23,385.98 566.07,387.72 566.80,388.50 C567.53,389.28 568.20,390.58 568.90,390.00 C569.60,389.42 570.32,387.50 571.00,385.00 C571.68,382.50 572.40,378.83 573.00,375.00 C573.60,371.17 574.10,365.75 574.60,362.00 C575.10,358.25 575.63,354.30 576.00,352.50 C576.37,350.70 576.50,351.12 576.80,351.20 C577.10,351.28 577.43,351.20 577.80,353.00 C578.17,354.80 578.60,358.17 579.00,362.00 C579.40,365.83 579.83,371.83 580.20,376.00 C580.57,380.17 580.73,384.08 581.20,387.00 C581.67,389.92 582.28,391.77 583.00,393.50 C583.72,395.23 584.33,396.42 585.50,397.40 C586.67,398.38 587.37,398.83 590.00,399.40 C592.63,399.97 597.13,400.48 601.30,400.80 C605.47,401.12 610.62,401.55 615.00,401.30 C619.38,401.05 624.27,399.55 627.60,399.30 C630.93,399.05 632.10,399.62 635.00,399.80 C637.90,399.98 642.37,400.42 645.00,400.40 C647.63,400.38 649.73,399.60 650.80,399.70 C651.87,399.80 651.33,399.62 651.40,401.00 C651.47,402.38 651.38,406.33 651.20,408.00 C651.02,409.67 651.17,409.70 650.30,411.00 C649.43,412.30 647.72,414.40 646.00,415.80 C644.28,417.20 642.67,418.23 640.00,419.40 C637.33,420.57 633.33,421.97 630.00,422.80 C626.67,423.63 623.33,424.03 620.00,424.40 C616.67,424.77 613.33,424.73 610.00,425.00 C606.67,425.27 603.33,425.75 600.00,426.00 C596.67,426.25 593.33,426.25 590.00,426.50 C586.67,426.75 582.67,427.32 580.00,427.50 C577.33,427.68 575.53,427.42 574.00,427.60 C572.47,427.78 571.68,427.87 570.80,428.60 C569.92,429.33 569.30,430.10 568.70,432.00 C568.10,433.90 567.77,436.83 567.20,440.00 C566.63,443.17 565.90,447.75 565.30,451.00 C564.70,454.25 564.08,457.78 563.60,459.50 C563.12,461.22 562.82,461.55 562.40,461.30 C561.98,461.05 561.57,459.88 561.10,458.00 C560.63,456.12 560.17,453.00 559.60,450.00 C559.03,447.00 558.27,443.17 557.70,440.00 C557.13,436.83 556.77,433.67 556.20,431.00 C555.63,428.33 555.03,425.77 554.30,424.00 C553.57,422.23 552.85,421.30 551.80,420.40 C550.75,419.50 549.43,419.05 548.00,418.60 C546.57,418.15 546.02,417.92 543.20,417.70 C540.38,417.48 535.12,417.18 531.10,417.30 C527.08,417.42 522.45,417.82 519.10,418.40 C515.75,418.98 513.35,419.62 511.00,420.80 C508.65,421.98 506.67,423.88 505.00,425.50 C503.33,427.12 501.95,429.17 501.00,430.50 C500.05,431.83 499.58,433.00 499.30,433.50" stroke="#c8505e" stroke-width="1.2" fill="none" />
<path d="M499.60,433.70 C500.22,432.78 502.02,430.07 503.30,428.20 C504.58,426.33 505.63,424.50 507.30,422.50 C508.97,420.50 511.28,418.00 513.30,416.20 C515.32,414.40 517.40,412.73 519.40,411.70 C521.40,410.67 523.30,410.38 525.30,410.00 C527.30,409.62 529.40,409.53 531.40,409.40 C533.40,409.27 535.28,409.33 537.30,409.20 C539.32,409.07 541.67,408.87 543.50,408.60 C545.33,408.33 546.90,408.08 548.30,407.60 C549.70,407.12 550.82,406.68 551.90,405.70 C552.98,404.72 553.82,403.70 554.80,401.70 C555.78,399.70 556.88,396.03 557.80,393.70 C558.72,391.37 559.48,389.22 560.30,387.70 C561.12,386.18 561.95,384.97 562.70,384.60 C563.45,384.23 564.07,384.82 564.80,385.50 C565.53,386.18 566.37,387.92 567.10,388.70 C567.83,389.48 568.50,390.78 569.20,390.20 C569.90,389.62 570.62,387.70 571.30,385.20 C571.98,382.70 572.70,379.03 573.30,375.20 C573.90,371.37 574.40,365.95 574.90,362.20 C575.40,358.45 575.93,354.50 576.30,352.70 C576.67,350.90 576.80,351.32 577.10,351.40 C577.40,351.48 577.73,351.40 578.10,353.20 C578.47,355.00 578.90,358.37 579.30,362.20 C579.70,366.03 580.13,372.03 580.50,376.20 C580.87,380.37 581.03,384.28 581.50,387.20 C581.97,390.12 582.58,391.97 583.30,393.70 C584.02,395.43 584.63,396.62 585.80,397.60 C586.97,398.58 587.67,399.03 590.30,399.60 C592.93,400.17 597.43,400.68 601.60,401.00 C605.77,401.32 610.92,401.75 615.30,401.50 C619.68,401.25 624.57,399.75 627.90,399.50 C631.23,399.25 632.40,399.82 635.30,400.00 C638.20,400.18 642.67,400.62 645.30,400.60 C647.93,400.58 650.03,399.80 651.10,399.90 C652.17,400.00 651.63,399.82 651.70,401.20 C651.77,402.58 651.68,406.53 651.50,408.20 C651.32,409.87 651.47,409.90 650.60,411.20 C649.73,412.50 648.02,414.60 646.30,416.00 C644.58,417.40 642.97,418.43 640.30,419.60 C637.63,420.77 633.63,422.17 630.30,423.00 C626.97,423.83 623.63,424.23 620.30,424.60 C616.97,424.97 613.63,424.93 610.30,425.20 C606.97,425.47 603.63,425.95 600.30,426.20 C596.97,426.45 593.63,426.45 590.30,426.70 C586.97,426.95 582.97,427.52 580.30,427.70 C577.63,427.88 575.83,427.62 574.30,427.80 C572.77,427.98 571.98,428.07 571.10,428.80 C570.22,429.53 569.60,430.30 569.00,432.20 C568.40,434.10 568.07,437.03 567.50,440.20 C566.93,443.37 566.20,447.95 565.60,451.20 C565.00,454.45 564.38,457.98 563.90,459.70 C563.42,461.42 563.12,461.75 562.70,461.50 C562.28,461.25 561.87,460.08 561.40,458.20 C560.93,456.32 560.47,453.20 559.90,450.20 C559.33,447.20 558.57,443.37 558.00,440.20 C557.43,437.03 557.07,433.87 556.50,431.20 C555.93,428.53 555.33,425.97 554.60,424.20 C553.87,422.43 553.15,421.50 552.10,420.60 C551.05,419.70 549.73,419.25 548.30,418.80 C546.87,418.35 546.32,418.12 543.50,417.90 C540.68,417.68 535.42,417.38 531.40,417.50 C527.38,417.62 522.75,418.02 519.40,418.60 C516.05,419.18 513.65,419.82 511.30,421.00 C508.95,422.18 506.97,424.08 505.30,425.70 C503.63,427.32 502.25,429.37 501.30,430.70 C500.35,432.03 499.88,433.20 499.60,433.70" stroke="#62b4d6" stroke-width="1.35" fill="none" />
<path d="M554.90,410.70 C555.75,410.00 558.10,408.12 560.00,406.50 C561.90,404.88 564.55,402.92 566.30,401.00 C568.05,399.08 569.33,397.03 570.50,395.00 C571.67,392.97 572.55,391.30 573.30,388.80 C574.05,386.30 574.50,383.47 575.00,380.00 C575.50,376.53 575.87,371.83 576.30,368.00 C576.73,364.17 577.17,359.37 577.60,357.00 C578.03,354.63 578.47,353.97 578.90,353.80 C579.33,353.63 579.75,354.30 580.20,356.00 C580.65,357.70 581.10,360.67 581.60,364.00 C582.10,367.33 582.67,372.33 583.20,376.00 C583.73,379.67 584.27,383.57 584.80,386.00 C585.33,388.43 585.70,389.10 586.40,390.60 C587.10,392.10 587.97,393.83 589.00,395.00 C590.03,396.17 590.77,396.88 592.60,397.60 C594.43,398.32 597.10,398.87 600.00,399.30 C602.90,399.73 606.67,400.32 610.00,400.20 C613.33,400.08 617.07,398.98 620.00,398.60 C622.93,398.22 625.10,397.80 627.60,397.90 C630.10,398.00 632.08,398.82 635.00,399.20 C637.92,399.58 642.30,400.33 645.10,400.20 C647.90,400.07 650.65,397.77 651.80,398.40 C652.95,399.03 652.10,401.80 652.00,404.00 C651.90,406.20 651.87,409.68 651.20,411.60 C650.53,413.52 649.02,414.48 648.00,415.50 C646.98,416.52 647.10,416.68 645.10,417.70 C643.10,418.72 638.92,420.35 636.00,421.60 C633.08,422.85 631.03,424.50 627.60,425.20 C624.17,425.90 620.00,425.67 615.40,425.80 C610.80,425.93 604.02,425.83 600.00,426.00 C595.98,426.17 594.63,426.55 591.30,426.80 C587.97,427.05 582.80,427.18 580.00,427.50 C577.20,427.82 576.17,428.12 574.50,428.70 C572.83,429.28 571.20,430.20 570.00,431.00 C568.80,431.80 568.05,432.00 567.30,433.50 C566.55,435.00 566.12,437.18 565.50,440.00 C564.88,442.82 564.27,446.90 563.60,450.40 C562.93,453.90 562.18,458.18 561.50,461.00 C560.82,463.82 560.10,467.13 559.50,467.30 C558.90,467.47 558.30,464.82 557.90,462.00 C557.50,459.18 557.45,454.07 557.10,450.40 C556.75,446.73 556.20,443.22 555.80,440.00 C555.40,436.78 555.08,433.77 554.70,431.10 C554.32,428.43 554.02,425.80 553.50,424.00 C552.98,422.20 552.68,421.30 551.60,420.30 C550.52,419.30 548.40,418.52 547.00,418.00 C545.60,417.48 545.85,417.33 543.20,417.20 C540.55,417.07 535.12,417.00 531.10,417.20 C527.08,417.40 522.28,417.77 519.10,418.40 C515.92,419.03 514.02,420.08 512.00,421.00 C509.98,421.92 508.67,422.57 507.00,423.90 C505.33,425.23 503.28,427.40 502.00,429.00 C500.72,430.60 499.13,433.75 499.30,433.50 C499.47,433.25 501.72,429.50 503.00,427.50 C504.28,425.50 505.33,423.50 507.00,421.50 C508.67,419.50 510.98,417.30 513.00,415.50 C515.02,413.70 517.10,411.72 519.10,410.70 C521.10,409.68 523.00,409.68 525.00,409.40 C527.00,409.12 529.10,409.10 531.10,409.00 C533.10,408.90 534.98,408.93 537.00,408.80 C539.02,408.67 541.37,408.47 543.20,408.20 C545.03,407.93 546.60,407.60 548.00,407.20 C549.40,406.80 551.00,406.03 551.60,405.80" stroke="#3a52a8" stroke-width="1.7" fill="none" />
<text x="505.90" y="444.90" font-size="8.6" text-anchor="start" fill="#231f20" font-weight="normal" transform="translate(505.90,0) scale(0.93,1) translate(-505.90,0)"  >O3-Na0.67</text>
<line x1="506.50" y1="451.20" x2="518.40" y2="451.20" stroke="#3a52a8" stroke-width="1.6" />
<text x="520.30" y="454.30" font-size="8.6" text-anchor="start" fill="#231f20" font-weight="normal" transform="translate(520.30,0) scale(0.93,1) translate(-520.30,0)"  >1 st</text>
<line x1="506.50" y1="458.80" x2="518.40" y2="458.80" stroke="#62b4d6" stroke-width="1.6" />
<text x="520.30" y="461.90" font-size="8.6" text-anchor="start" fill="#231f20" font-weight="normal" transform="translate(520.30,0) scale(0.93,1) translate(-520.30,0)"  >2 nd</text>
<line x1="506.50" y1="466.50" x2="518.40" y2="466.50" stroke="#c8505e" stroke-width="1.6" />
<text x="520.30" y="469.60" font-size="8.6" text-anchor="start" fill="#231f20" font-weight="normal" transform="translate(520.30,0) scale(0.93,1) translate(-520.30,0)"  >3 rd</text>
</svg></body></html>
